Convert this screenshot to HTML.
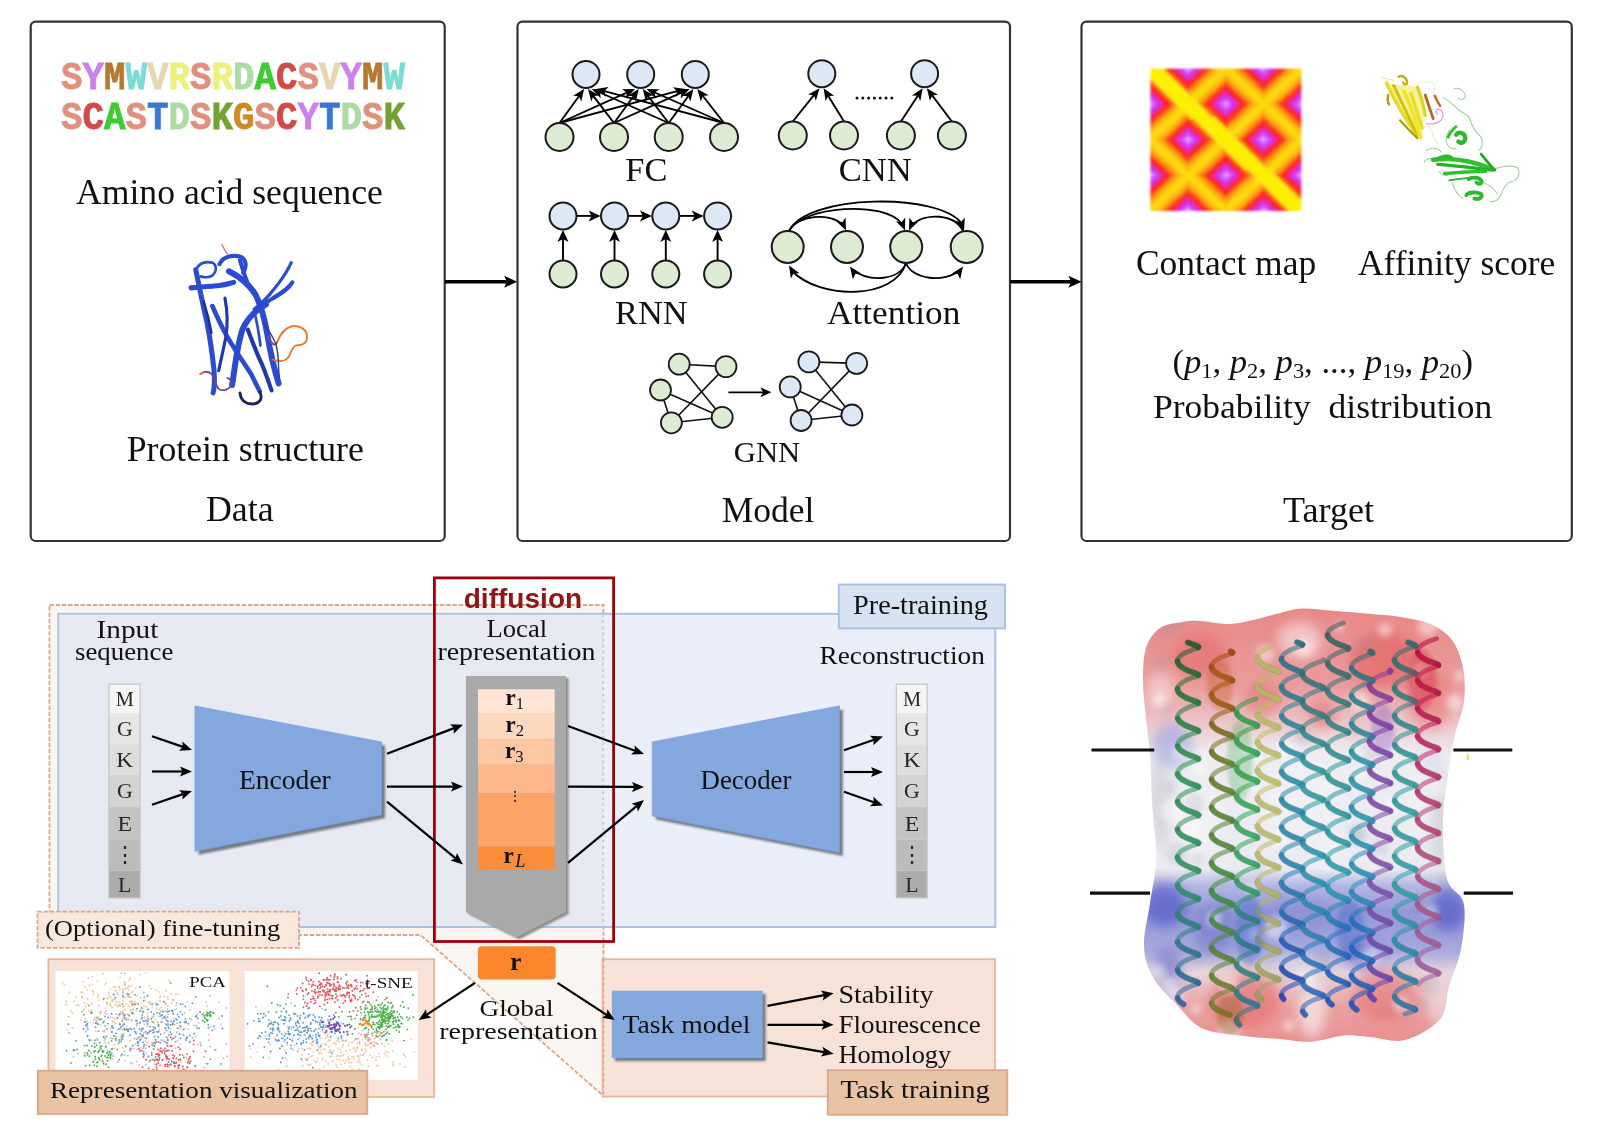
<!DOCTYPE html><html><head><meta charset="utf-8"><style>html,body{margin:0;padding:0;background:#fff;width:1600px;height:1140px;overflow:hidden}svg{display:block}</style></head><body>
<svg style="will-change:transform" width="1600" height="1140" viewBox="0 0 1600 1140">
<defs><filter id="blur1" x="-20%" y="-20%" width="140%" height="140%"><feGaussianBlur stdDeviation="1"/></filter><filter id="blur2" x="-20%" y="-20%" width="140%" height="140%"><feGaussianBlur stdDeviation="2"/></filter><filter id="blur3" x="-20%" y="-20%" width="140%" height="140%"><feGaussianBlur stdDeviation="3"/></filter><filter id="blur6" x="-20%" y="-20%" width="140%" height="140%"><feGaussianBlur stdDeviation="6"/></filter></defs>
<rect x="30.7" y="21.6" width="414.0" height="519.4" rx="5" fill="#fff" stroke="#333" stroke-width="2.2"/>
<rect x="517.5" y="21.6" width="492.5" height="519.4" rx="5" fill="#fff" stroke="#333" stroke-width="2.2"/>
<rect x="1081.5" y="21.6" width="490.3" height="519.4" rx="5" fill="#fff" stroke="#333" stroke-width="2.2"/>
<line x1="445.0" y1="281.8" x2="506.8" y2="281.8" stroke="#000" stroke-width="3.6"/>
<path d="M517.2,281.8 L504.2,287.8 L506.8,281.8 L504.2,275.8 Z" fill="#000"/>
<line x1="1010.0" y1="281.8" x2="1071.1" y2="281.8" stroke="#000" stroke-width="3.6"/>
<path d="M1081.5,281.8 L1068.5,287.8 L1071.1,281.8 L1068.5,275.8 Z" fill="#000"/>
<text x="61" y="89" font-family='"Liberation Mono", monospace' font-size="39.5" font-weight="bold" stroke-width="0.8" textLength="344" lengthAdjust="spacingAndGlyphs"><tspan fill="#e0917e" stroke="#e0917e">S</tspan><tspan fill="#cc82ea" stroke="#cc82ea">Y</tspan><tspan fill="#b47a32" stroke="#b47a32">M</tspan><tspan fill="#7adcd4" stroke="#7adcd4">W</tspan><tspan fill="#e8d6b2" stroke="#e8d6b2">V</tspan><tspan fill="#ecf07e" stroke="#ecf07e">R</tspan><tspan fill="#e0917e" stroke="#e0917e">S</tspan><tspan fill="#ecf07e" stroke="#ecf07e">R</tspan><tspan fill="#acdca4" stroke="#acdca4">D</tspan><tspan fill="#3ecb32" stroke="#3ecb32">A</tspan><tspan fill="#d24a48" stroke="#d24a48">C</tspan><tspan fill="#e0917e" stroke="#e0917e">S</tspan><tspan fill="#e8d6b2" stroke="#e8d6b2">V</tspan><tspan fill="#cc82ea" stroke="#cc82ea">Y</tspan><tspan fill="#b47a32" stroke="#b47a32">M</tspan><tspan fill="#7adcd4" stroke="#7adcd4">W</tspan></text>
<text x="61" y="129" font-family='"Liberation Mono", monospace' font-size="39.5" font-weight="bold" stroke-width="0.8" textLength="344" lengthAdjust="spacingAndGlyphs"><tspan fill="#e0917e" stroke="#e0917e">S</tspan><tspan fill="#d24a48" stroke="#d24a48">C</tspan><tspan fill="#3ecb32" stroke="#3ecb32">A</tspan><tspan fill="#e0917e" stroke="#e0917e">S</tspan><tspan fill="#3a78d0" stroke="#3a78d0">T</tspan><tspan fill="#acdca4" stroke="#acdca4">D</tspan><tspan fill="#e0917e" stroke="#e0917e">S</tspan><tspan fill="#74a232" stroke="#74a232">K</tspan><tspan fill="#d08a22" stroke="#d08a22">G</tspan><tspan fill="#e0917e" stroke="#e0917e">S</tspan><tspan fill="#d24a48" stroke="#d24a48">C</tspan><tspan fill="#cc82ea" stroke="#cc82ea">Y</tspan><tspan fill="#3a78d0" stroke="#3a78d0">T</tspan><tspan fill="#acdca4" stroke="#acdca4">D</tspan><tspan fill="#e0917e" stroke="#e0917e">S</tspan><tspan fill="#74a232" stroke="#74a232">K</tspan></text>
<text x="76.0" y="203.6" font-family='"Liberation Serif", serif' font-size="36" font-weight="normal" fill="#111" textLength="306.8" lengthAdjust="spacingAndGlyphs" >Amino acid sequence</text>
<text x="126.7" y="460.5" font-family='"Liberation Serif", serif' font-size="36" font-weight="normal" fill="#111" textLength="237.1" lengthAdjust="spacingAndGlyphs" >Protein structure</text>
<text x="206.0" y="521.2" font-family='"Liberation Serif", serif' font-size="36" font-weight="normal" fill="#111" textLength="67.6" lengthAdjust="spacingAndGlyphs" >Data</text>
<g id="prot1" fill="none" stroke-linecap="round" stroke-linejoin="round" transform="translate(180,235) scale(0.15783)">
<path d="M100,220 C120,320 140,420 170,550 C190,650 205,760 215,850 C220,920 222,960 210,1000" stroke="#2a4cd0" stroke-width="32"/>
<path d="M70,335 C130,330 200,325 250,320 C290,315 320,305 340,300" stroke="#2a4cd0" stroke-width="32"/>
<path d="M100,220 C120,180 160,165 205,175 C235,190 235,235 200,260 C180,270 150,268 130,262" stroke="#2a4cd0" stroke-width="17"/>
<path d="M250,185 C270,140 330,120 390,140 C420,160 425,200 400,240" stroke="#2a4cd0" stroke-width="26"/>
<path d="M310,230 C370,260 430,300 480,380 C510,440 535,520 555,640 C575,760 600,860 625,940" stroke="#2a4cd0" stroke-width="38"/>
<path d="M380,160 C400,230 420,290 445,340" stroke="#2a4cd0" stroke-width="26"/>
<path d="M545,440 C490,470 430,520 395,600 C370,680 355,780 345,850 C340,890 335,920 330,950" stroke="#2a4cd0" stroke-width="38"/>
<path d="M705,175 C680,230 640,290 590,350 C560,390 530,420 470,470" stroke="#2a4cd0" stroke-width="20"/>
<path d="M712,300 C690,340 640,370 590,400 C560,420 540,430 520,440" stroke="#2a4cd0" stroke-width="26"/>
<path d="M205,450 C240,530 270,600 320,680 C370,760 410,820 450,880 C470,920 490,960 505,990" stroke="#2a4cd0" stroke-width="29"/>
<path d="M285,400 C300,480 305,560 290,650 C275,720 260,790 245,860" stroke="#2238a8" stroke-width="20"/>
<path d="M430,600 C460,680 490,760 520,820 C545,880 565,940 580,985" stroke="#2238a8" stroke-width="26"/>
<path d="M470,480 C490,560 500,620 510,700" stroke="#2a4cd0" stroke-width="17"/>
<path d="M150,420 C170,480 190,560 200,620" stroke="#1c2c88" stroke-width="14"/>
<path d="M380,1000 C385,1050 420,1075 470,1070 C510,1062 525,1030 505,995" stroke="#1c2060" stroke-width="18"/>
<path d="M130,880 C150,865 175,860 200,880 C220,905 225,950 245,975 C265,990 300,985 320,960 C335,935 320,910 300,905" stroke="#6a4a8a" stroke-width="11"/>
<path d="M128,882 L150,868" stroke="#e0702a" stroke-width="11"/>
<path d="M560,650 C585,690 600,710 615,680 C630,640 660,590 710,578 C760,570 805,600 805,645 C805,690 770,700 740,698 C715,700 705,740 690,770 C670,800 630,805 590,790" stroke="#e8782a" stroke-width="12"/>
<path d="M560,650 C585,690 600,710 615,680" stroke="#5a4a80" stroke-width="9"/>
<path d="M265,60 C275,80 285,100 300,120" stroke="#c06a80" stroke-width="8"/>
<path d="M530,560 C560,600 590,640 610,700 C630,780 620,850 630,900" stroke="#3a3a90" stroke-width="9"/>
</g>
<line x1="559.5" y1="123.0" x2="578.9" y2="96.2" stroke="#000" stroke-width="1.9"/>
<path d="M584.1,88.9 L581.2,101.6 L578.9,96.2 L573.1,95.7 Z" fill="#000"/>
<line x1="559.5" y1="123.0" x2="626.8" y2="92.6" stroke="#000" stroke-width="1.9"/>
<path d="M635.0,88.9 L626.1,98.4 L626.8,92.6 L622.0,89.3 Z" fill="#000"/>
<line x1="559.5" y1="123.0" x2="677.1" y2="91.2" stroke="#000" stroke-width="1.9"/>
<path d="M685.8,88.9 L675.5,96.9 L677.1,91.2 L672.9,87.2 Z" fill="#000"/>
<line x1="614.0" y1="123.0" x2="593.4" y2="96.1" stroke="#000" stroke-width="1.9"/>
<path d="M588.0,88.9 L599.2,95.4 L593.4,96.1 L591.3,101.5 Z" fill="#000"/>
<line x1="614.0" y1="123.0" x2="633.5" y2="96.2" stroke="#000" stroke-width="1.9"/>
<path d="M638.8,88.9 L635.8,101.5 L633.5,96.2 L627.7,95.7 Z" fill="#000"/>
<line x1="614.0" y1="123.0" x2="681.4" y2="92.6" stroke="#000" stroke-width="1.9"/>
<path d="M689.6,88.9 L680.7,98.4 L681.4,92.6 L676.6,89.3 Z" fill="#000"/>
<line x1="668.7" y1="123.0" x2="600.0" y2="92.5" stroke="#000" stroke-width="1.9"/>
<path d="M591.8,88.9 L604.8,89.2 L600.0,92.5 L600.7,98.3 Z" fill="#000"/>
<line x1="668.7" y1="123.0" x2="648.1" y2="96.1" stroke="#000" stroke-width="1.9"/>
<path d="M642.7,88.9 L653.9,95.4 L648.1,96.1 L646.0,101.5 Z" fill="#000"/>
<line x1="668.7" y1="123.0" x2="688.2" y2="96.2" stroke="#000" stroke-width="1.9"/>
<path d="M693.4,88.9 L690.4,101.5 L688.2,96.2 L682.3,95.7 Z" fill="#000"/>
<line x1="724.0" y1="123.0" x2="604.4" y2="91.2" stroke="#000" stroke-width="1.9"/>
<path d="M595.7,88.9 L608.5,87.1 L604.4,91.2 L606.0,96.8 Z" fill="#000"/>
<line x1="724.0" y1="123.0" x2="654.8" y2="92.5" stroke="#000" stroke-width="1.9"/>
<path d="M646.5,88.9 L659.5,89.2 L654.8,92.5 L655.5,98.3 Z" fill="#000"/>
<line x1="724.0" y1="123.0" x2="702.9" y2="96.0" stroke="#000" stroke-width="1.9"/>
<path d="M697.3,88.9 L708.6,95.3 L702.9,96.0 L700.8,101.4 Z" fill="#000"/>
<circle cx="586.0" cy="74.4" r="13.5" fill="#dce8f5" stroke="#1a1a1a" stroke-width="2"/>
<circle cx="640.7" cy="74.4" r="13.5" fill="#dce8f5" stroke="#1a1a1a" stroke-width="2"/>
<circle cx="695.3" cy="74.4" r="13.5" fill="#dce8f5" stroke="#1a1a1a" stroke-width="2"/>
<circle cx="559.5" cy="137.0" r="14.0" fill="#ddebd3" stroke="#1a1a1a" stroke-width="2"/>
<circle cx="614.0" cy="137.0" r="14.0" fill="#ddebd3" stroke="#1a1a1a" stroke-width="2"/>
<circle cx="668.7" cy="137.0" r="14.0" fill="#ddebd3" stroke="#1a1a1a" stroke-width="2"/>
<circle cx="724.0" cy="137.0" r="14.0" fill="#ddebd3" stroke="#1a1a1a" stroke-width="2"/>
<text x="625.3" y="180.8" font-family='"Liberation Serif", serif' font-size="34" font-weight="normal" fill="#111" textLength="42.1" lengthAdjust="spacingAndGlyphs" >FC</text>
<line x1="792.8" y1="121.5" x2="813.9" y2="95.2" stroke="#000" stroke-width="1.9"/>
<path d="M819.5,88.2 L815.9,100.7 L813.9,95.2 L808.1,94.4 Z" fill="#000"/>
<line x1="844.0" y1="121.5" x2="828.3" y2="95.9" stroke="#000" stroke-width="1.9"/>
<path d="M823.6,88.2 L834.1,95.8 L828.3,95.9 L825.6,101.0 Z" fill="#000"/>
<line x1="900.9" y1="121.5" x2="917.8" y2="95.7" stroke="#000" stroke-width="1.9"/>
<path d="M922.7,88.2 L920.3,101.0 L917.8,95.7 L911.9,95.5 Z" fill="#000"/>
<line x1="951.9" y1="121.5" x2="932.2" y2="95.4" stroke="#000" stroke-width="1.9"/>
<path d="M926.8,88.2 L938.0,94.8 L932.2,95.4 L930.0,100.8 Z" fill="#000"/>
<circle cx="821.8" cy="73.7" r="13.5" fill="#dce8f5" stroke="#1a1a1a" stroke-width="2"/>
<circle cx="924.6" cy="73.7" r="13.5" fill="#dce8f5" stroke="#1a1a1a" stroke-width="2"/>
<circle cx="792.8" cy="135.5" r="14.0" fill="#ddebd3" stroke="#1a1a1a" stroke-width="2"/>
<circle cx="844.0" cy="135.5" r="14.0" fill="#ddebd3" stroke="#1a1a1a" stroke-width="2"/>
<circle cx="900.9" cy="135.5" r="14.0" fill="#ddebd3" stroke="#1a1a1a" stroke-width="2"/>
<circle cx="951.9" cy="135.5" r="14.0" fill="#ddebd3" stroke="#1a1a1a" stroke-width="2"/>
<circle cx="857.0" cy="98" r="1.5" fill="#111"/>
<circle cx="862.8" cy="98" r="1.5" fill="#111"/>
<circle cx="868.6" cy="98" r="1.5" fill="#111"/>
<circle cx="874.4" cy="98" r="1.5" fill="#111"/>
<circle cx="880.2" cy="98" r="1.5" fill="#111"/>
<circle cx="886.0" cy="98" r="1.5" fill="#111"/>
<circle cx="891.8" cy="98" r="1.5" fill="#111"/>
<text x="838.8" y="180.8" font-family='"Liberation Serif", serif' font-size="34" font-weight="normal" fill="#111" textLength="73.0" lengthAdjust="spacingAndGlyphs" >CNN</text>
<line x1="563.0" y1="260.3" x2="563.0" y2="239.0" stroke="#000" stroke-width="1.9"/>
<path d="M563.0,230.0 L568.5,242.0 L563.0,239.0 L557.5,242.0 Z" fill="#000"/>
<line x1="614.5" y1="260.3" x2="614.5" y2="239.0" stroke="#000" stroke-width="1.9"/>
<path d="M614.5,230.0 L620.0,242.0 L614.5,239.0 L609.0,242.0 Z" fill="#000"/>
<line x1="665.8" y1="260.3" x2="665.8" y2="239.0" stroke="#000" stroke-width="1.9"/>
<path d="M665.8,230.0 L671.3,242.0 L665.8,239.0 L660.3,242.0 Z" fill="#000"/>
<line x1="717.6" y1="260.3" x2="717.6" y2="239.0" stroke="#000" stroke-width="1.9"/>
<path d="M717.6,230.0 L723.1,242.0 L717.6,239.0 L712.1,242.0 Z" fill="#000"/>
<line x1="576.7" y1="215.9" x2="591.6" y2="215.9" stroke="#000" stroke-width="1.9"/>
<path d="M600.6,215.9 L588.6,221.4 L591.6,215.9 L588.6,210.4 Z" fill="#000"/>
<line x1="628.2" y1="215.9" x2="642.9" y2="215.9" stroke="#000" stroke-width="1.9"/>
<path d="M651.9,215.9 L639.9,221.4 L642.9,215.9 L639.9,210.4 Z" fill="#000"/>
<line x1="679.5" y1="215.9" x2="694.7" y2="215.9" stroke="#000" stroke-width="1.9"/>
<path d="M703.7,215.9 L691.7,221.4 L694.7,215.9 L691.7,210.4 Z" fill="#000"/>
<circle cx="563.0" cy="215.9" r="13.5" fill="#dce8f5" stroke="#1a1a1a" stroke-width="2"/>
<circle cx="563.0" cy="274.0" r="13.5" fill="#ddebd3" stroke="#1a1a1a" stroke-width="2"/>
<circle cx="614.5" cy="215.9" r="13.5" fill="#dce8f5" stroke="#1a1a1a" stroke-width="2"/>
<circle cx="614.5" cy="274.0" r="13.5" fill="#ddebd3" stroke="#1a1a1a" stroke-width="2"/>
<circle cx="665.8" cy="215.9" r="13.5" fill="#dce8f5" stroke="#1a1a1a" stroke-width="2"/>
<circle cx="665.8" cy="274.0" r="13.5" fill="#ddebd3" stroke="#1a1a1a" stroke-width="2"/>
<circle cx="717.6" cy="215.9" r="13.5" fill="#dce8f5" stroke="#1a1a1a" stroke-width="2"/>
<circle cx="717.6" cy="274.0" r="13.5" fill="#ddebd3" stroke="#1a1a1a" stroke-width="2"/>
<text x="615.0" y="324.4" font-family='"Liberation Serif", serif' font-size="34" font-weight="normal" fill="#111" textLength="72.5" lengthAdjust="spacingAndGlyphs" >RNN</text>
<path d="M789,231 C797,215 830,212 843,225" fill="none" stroke="#000" stroke-width="1.8"/>
<path d="M846.0,230.5 L836.5,221.6 L842.3,222.3 L845.6,217.5 Z" fill="#000"/>
<path d="M789,231 C802,206 885,200 902,224" fill="none" stroke="#000" stroke-width="1.8"/>
<path d="M905.0,230.5 L895.9,221.2 L901.7,222.1 L905.2,217.5 Z" fill="#000"/>
<path d="M789,231 C806,194 940,192 962,224" fill="none" stroke="#000" stroke-width="1.8"/>
<path d="M964.0,230.5 L955.3,220.8 L961.0,222.0 L964.8,217.5 Z" fill="#000"/>
<path d="M963,231 C955,214 925,212 912,225" fill="none" stroke="#000" stroke-width="1.8"/>
<path d="M909.0,230.5 L909.4,217.5 L912.7,222.3 L918.5,221.6 Z" fill="#000"/>
<path d="M906,263 C900,280 870,283 853,270" fill="none" stroke="#000" stroke-width="1.8"/>
<path d="M850.0,266.5 L861.0,273.5 L855.2,273.9 L852.8,279.2 Z" fill="#000"/>
<path d="M906,263 C895,300 820,300 792,271" fill="none" stroke="#000" stroke-width="1.8"/>
<path d="M789.0,265.5 L799.5,273.2 L793.6,273.2 L790.9,278.4 Z" fill="#000"/>
<path d="M906,263 C912,280 945,283 960,270" fill="none" stroke="#000" stroke-width="1.8"/>
<path d="M963.0,266.5 L960.2,279.2 L957.8,273.9 L952.0,273.5 Z" fill="#000"/>
<circle cx="787.7" cy="247.0" r="16.0" fill="#ddebd3" stroke="#1a1a1a" stroke-width="2"/>
<circle cx="847.0" cy="247.0" r="16.0" fill="#ddebd3" stroke="#1a1a1a" stroke-width="2"/>
<circle cx="906.2" cy="247.0" r="16.0" fill="#ddebd3" stroke="#1a1a1a" stroke-width="2"/>
<circle cx="966.7" cy="247.0" r="16.0" fill="#ddebd3" stroke="#1a1a1a" stroke-width="2"/>
<text x="827.0" y="323.5" font-family='"Liberation Serif", serif' font-size="34" font-weight="normal" fill="#111" textLength="133.3" lengthAdjust="spacingAndGlyphs" >Attention</text>
<line x1="679.2" y1="364.2" x2="726" y2="366.6" stroke="#111" stroke-width="1.6"/>
<line x1="679.2" y1="364.2" x2="722.2" y2="417.3" stroke="#111" stroke-width="1.6"/>
<line x1="726" y1="366.6" x2="671.4" y2="422.8" stroke="#111" stroke-width="1.6"/>
<line x1="660.5" y1="390" x2="722.2" y2="417.3" stroke="#111" stroke-width="1.6"/>
<line x1="660.5" y1="390" x2="671.4" y2="422.8" stroke="#111" stroke-width="1.6"/>
<line x1="671.4" y1="422.8" x2="722.2" y2="417.3" stroke="#111" stroke-width="1.6"/>
<circle cx="679.2" cy="364.2" r="10.5" fill="#ddebd3" stroke="#1a1a1a" stroke-width="1.8"/>
<circle cx="726.0" cy="366.6" r="10.5" fill="#ddebd3" stroke="#1a1a1a" stroke-width="1.8"/>
<circle cx="660.5" cy="390.0" r="10.5" fill="#ddebd3" stroke="#1a1a1a" stroke-width="1.8"/>
<circle cx="671.4" cy="422.8" r="10.5" fill="#ddebd3" stroke="#1a1a1a" stroke-width="1.8"/>
<circle cx="722.2" cy="417.3" r="10.5" fill="#ddebd3" stroke="#1a1a1a" stroke-width="1.8"/>
<line x1="808.9" y1="361.9" x2="856.6" y2="363.4" stroke="#111" stroke-width="1.6"/>
<line x1="808.9" y1="361.9" x2="851.9" y2="415" stroke="#111" stroke-width="1.6"/>
<line x1="856.6" y1="363.4" x2="801.1" y2="420.5" stroke="#111" stroke-width="1.6"/>
<line x1="790.2" y1="386.9" x2="851.9" y2="415" stroke="#111" stroke-width="1.6"/>
<line x1="790.2" y1="386.9" x2="801.1" y2="420.5" stroke="#111" stroke-width="1.6"/>
<line x1="801.1" y1="420.5" x2="851.9" y2="415" stroke="#111" stroke-width="1.6"/>
<circle cx="808.9" cy="361.9" r="10.5" fill="#dce8f5" stroke="#1a1a1a" stroke-width="1.8"/>
<circle cx="856.6" cy="363.4" r="10.5" fill="#dce8f5" stroke="#1a1a1a" stroke-width="1.8"/>
<circle cx="790.2" cy="386.9" r="10.5" fill="#dce8f5" stroke="#1a1a1a" stroke-width="1.8"/>
<circle cx="801.1" cy="420.5" r="10.5" fill="#dce8f5" stroke="#1a1a1a" stroke-width="1.8"/>
<circle cx="851.9" cy="415.0" r="10.5" fill="#dce8f5" stroke="#1a1a1a" stroke-width="1.8"/>
<line x1="728.4" y1="392.3" x2="763.1" y2="392.3" stroke="#000" stroke-width="1.8"/>
<path d="M771.4,392.3 L760.4,397.3 L763.1,392.3 L760.4,387.3 Z" fill="#000"/>
<text x="733.7" y="461.9" font-family='"Liberation Serif", serif' font-size="30" font-weight="normal" fill="#111" textLength="66.6" lengthAdjust="spacingAndGlyphs" >GNN</text>
<text x="721.7" y="521.6" font-family='"Liberation Serif", serif' font-size="36" font-weight="normal" fill="#111" textLength="92.8" lengthAdjust="spacingAndGlyphs" >Model</text>
<text x="1135.9" y="275.0" font-family='"Liberation Serif", serif' font-size="35" font-weight="normal" fill="#111" textLength="180.3" lengthAdjust="spacingAndGlyphs" >Contact map</text>
<text x="1358.0" y="275.0" font-family='"Liberation Serif", serif' font-size="35" font-weight="normal" fill="#111" textLength="197.3" lengthAdjust="spacingAndGlyphs" >Affinity score</text>
<text x="1152.9" y="417.9" font-family='"Liberation Serif", serif' font-size="34.5" font-weight="normal" fill="#111" textLength="339.4" lengthAdjust="spacingAndGlyphs" >Probability&#160;&#160;distribution</text>
<text x="1283.0" y="521.6" font-family='"Liberation Serif", serif' font-size="36" font-weight="normal" fill="#111" textLength="91.1" lengthAdjust="spacingAndGlyphs" >Target</text>
<text x="1172.4" y="372.8" font-family='"Liberation Serif", serif' font-size="34" fill="#111" textLength="300.6" lengthAdjust="spacingAndGlyphs">(<tspan font-style="italic">p</tspan><tspan font-size="22" dy="5">1</tspan><tspan dy="-5">, </tspan><tspan font-style="italic">p</tspan><tspan font-size="22" dy="5">2</tspan><tspan dy="-5">, </tspan><tspan font-style="italic">p</tspan><tspan font-size="22" dy="5">3</tspan><tspan dy="-5">, ..., </tspan><tspan font-style="italic">p</tspan><tspan font-size="22" dy="5">19</tspan><tspan dy="-5">, </tspan><tspan font-style="italic">p</tspan><tspan font-size="22" dy="5">20</tspan><tspan dy="-5">)</tspan></text>
<g filter="url(#blur1)"><svg x="1150.3" y="68.5" width="151" height="142.5" overflow="hidden">
<path d="M0 1.5h9M0 4.5h12M0 7.5h15M3 10.5h15M6 13.5h18M9 16.5h18M12 19.5h18M15 22.5h18M18 25.5h18M21 28.5h18M24 31.5h18M27 34.5h18M30 37.5h18M36 40.5h15M39 43.5h15M42 46.5h15M45 49.5h15M48 52.5h15M51 55.5h15M54 58.5h15M57 61.5h15M60 64.5h18M63 67.5h18M66 70.5h18M69 73.5h18M72 76.5h18M75 79.5h18M78 82.5h18M81 85.5h18M84 88.5h18M90 91.5h15M93 94.5h15M96 97.5h15M99 100.5h15M102 103.5h15M105 106.5h15M108 109.5h15M111 112.5h18M114 115.5h18M117 118.5h18M120 121.5h18M123 124.5h18M126 127.5h18M129 130.5h18M132 133.5h18M135 136.5h18M141 139.5h12M144 142.5h9" stroke="#fcf000" stroke-width="3.3"/>
<path d="M9 1.5h6M12 4.5h6M69 4.5h3M15 7.5h6M66 7.5h3M0 10.5h3M18 10.5h6M63 10.5h3M3 13.5h3M24 13.5h3M60 13.5h3M135 13.5h3M6 16.5h3M27 16.5h3M132 16.5h3M9 19.5h3M30 19.5h3M129 19.5h3M12 22.5h3M33 22.5h3M126 22.5h3M15 25.5h3M36 25.5h3M18 28.5h3M39 28.5h3M21 31.5h3M42 31.5h3M24 34.5h3M45 34.5h3M27 37.5h3M48 37.5h3M114 37.5h3M30 40.5h6M51 40.5h3M117 40.5h3M33 43.5h6M54 43.5h3M120 43.5h3M36 46.5h6M57 46.5h3M123 46.5h3M39 49.5h6M60 49.5h6M45 52.5h3M63 52.5h6M15 55.5h3M48 55.5h3M66 55.5h6M12 58.5h3M51 58.5h3M69 58.5h6M9 61.5h3M54 61.5h3M72 61.5h6M84 61.5h3M6 64.5h3M57 64.5h3M78 64.5h6M60 67.5h3M81 67.5h3M63 70.5h3M84 70.5h3M150 70.5h3M66 73.5h3M87 73.5h3M147 73.5h3M69 76.5h3M90 76.5h3M144 76.5h3M72 79.5h3M93 79.5h3M141 79.5h3M75 82.5h3M96 82.5h3M78 85.5h3M99 85.5h3M81 88.5h3M102 88.5h3M84 91.5h6M105 91.5h3M87 94.5h6M108 94.5h3M90 97.5h6M111 97.5h3M93 100.5h6M114 100.5h6M33 103.5h3M99 103.5h3M117 103.5h6M36 106.5h3M102 106.5h3M120 106.5h6M39 109.5h3M105 109.5h3M123 109.5h6M30 112.5h3M42 112.5h3M108 112.5h3M129 112.5h3M27 115.5h3M111 115.5h3M132 115.5h3M24 118.5h3M114 118.5h3M135 118.5h3M21 121.5h3M96 121.5h3M117 121.5h3M138 121.5h3M93 124.5h3M120 124.5h3M141 124.5h3M90 127.5h3M123 127.5h3M144 127.5h3M87 130.5h3M126 130.5h3M147 130.5h3M129 133.5h3M150 133.5h3M132 136.5h3M135 139.5h6M138 142.5h6" stroke="#fce400" stroke-width="3.3"/>
<path d="M15 1.5h3M18 4.5h3M51 7.5h3M48 10.5h3M117 16.5h3M147 16.5h3M114 19.5h3M132 40.5h3M135 43.5h3M138 46.5h3M66 49.5h3M39 52.5h3M69 52.5h3M30 55.5h3M27 58.5h3M96 64.5h3M93 67.5h3M132 73.5h3M129 76.5h3M126 79.5h3M87 97.5h3M90 100.5h3M21 106.5h3M54 109.5h3M57 112.5h3M12 115.5h3M9 118.5h3M6 121.5h3M111 121.5h3M78 124.5h3M108 124.5h3M75 127.5h3M105 127.5h3" stroke="#fc5400" stroke-width="3.3"/>
<path d="M18 1.5h3M93 1.5h3M21 4.5h3M96 4.5h3M24 7.5h3M48 7.5h3M99 7.5h3M27 10.5h3M45 10.5h3M102 10.5h3M30 13.5h3M42 13.5h3M105 13.5h3M117 13.5h3M33 16.5h3M39 16.5h3M114 16.5h3M150 16.5h3M36 19.5h3M78 19.5h3M147 19.5h3M81 22.5h3M84 25.5h3M12 28.5h3M87 28.5h3M15 31.5h3M90 31.5h3M18 34.5h3M54 34.5h3M93 34.5h3M93 37.5h3M90 40.5h3M135 40.5h3M138 43.5h3M141 46.5h3M69 49.5h3M144 49.5h3M36 52.5h3M72 52.5h3M111 52.5h3M147 52.5h3M33 55.5h3M108 55.5h3M30 58.5h3M105 58.5h3M27 61.5h3M102 61.5h3M99 64.5h3M96 67.5h3M93 70.5h3M132 70.5h3M18 73.5h3M54 73.5h3M93 73.5h3M129 73.5h3M21 76.5h3M51 76.5h3M126 76.5h3M24 79.5h3M48 79.5h3M123 79.5h3M27 82.5h3M45 82.5h3M120 82.5h3M42 85.5h3M117 85.5h3M0 88.5h3M39 88.5h3M75 88.5h3M114 88.5h3M150 88.5h3M3 91.5h3M78 91.5h3M6 94.5h3M66 94.5h3M81 94.5h3M9 97.5h3M63 97.5h3M84 97.5h3M12 100.5h3M60 100.5h3M87 100.5h3M15 103.5h3M57 103.5h3M90 103.5h3M132 103.5h3M18 106.5h3M54 106.5h3M129 106.5h3M57 109.5h3M132 109.5h3M60 112.5h3M135 112.5h3M9 115.5h3M63 115.5h3M138 115.5h3M6 118.5h3M66 118.5h3M141 118.5h3M3 121.5h3M69 121.5h3M144 121.5h3M0 124.5h3M72 124.5h6M111 124.5h3M147 124.5h3M108 127.5h3M117 127.5h3M120 130.5h3M123 133.5h3M51 136.5h3M126 136.5h3M54 139.5h3M129 139.5h3M57 142.5h3M132 142.5h3" stroke="#fc240c" stroke-width="3.3"/>
<path d="M21 1.5h3M51 1.5h3M126 1.5h3M48 4.5h3M123 4.5h3M45 7.5h3M120 7.5h3M42 10.5h3M117 10.5h3M114 13.5h3M0 22.5h3M72 22.5h3M147 22.5h3M3 25.5h3M69 25.5h3M144 25.5h3M66 28.5h3M141 28.5h3M63 31.5h3M138 31.5h3M60 34.5h3M135 34.5h3M12 37.5h3M60 37.5h3M135 37.5h3M9 40.5h3M63 40.5h3M84 40.5h3M138 40.5h3M6 43.5h3M66 43.5h3M81 43.5h3M141 43.5h3M3 46.5h3M69 46.5h3M78 46.5h3M0 49.5h3M72 49.5h6M150 49.5h3M33 58.5h3M39 58.5h3M114 58.5h3M30 61.5h3M42 61.5h3M117 61.5h3M27 64.5h3M45 64.5h3M102 64.5h3M120 64.5h3M24 67.5h3M48 67.5h3M99 67.5h3M123 67.5h3M21 70.5h3M51 70.5h3M96 70.5h3M99 73.5h3M126 73.5h3M102 76.5h3M123 76.5h3M105 79.5h3M33 82.5h3M108 82.5h3M36 85.5h3M111 85.5h3M150 91.5h3M72 94.5h3M147 94.5h3M144 97.5h3M84 100.5h3M141 100.5h3M87 103.5h3M138 103.5h3M15 106.5h3M90 106.5h3M12 109.5h3M60 109.5h3M87 109.5h3M9 112.5h3M84 112.5h3M6 115.5h3M81 115.5h3M3 118.5h3M78 118.5h3M75 121.5h3M150 121.5h3M36 127.5h3M111 127.5h3M33 130.5h3M39 130.5h3M108 130.5h3M30 133.5h3M42 133.5h3M105 133.5h3M27 136.5h3M45 136.5h3M102 136.5h3M24 139.5h3M99 139.5h3M21 142.5h3M96 142.5h3" stroke="#fc1824" stroke-width="3.3"/>
<path d="M24 1.5h3M39 10.5h3M144 43.5h3M36 58.5h3M105 64.5h3M102 67.5h3M120 76.5h3M81 100.5h3M12 106.5h3M63 109.5h3M0 118.5h3" stroke="#f0186c" stroke-width="3.3"/>
<path d="M27 1.5h3M45 1.5h3M30 4.5h3M42 4.5h3M33 7.5h3M39 7.5h3M114 7.5h3M150 25.5h3M84 34.5h3M141 37.5h3M69 40.5h3M144 40.5h3M72 43.5h3M147 43.5h3M36 61.5h3M111 61.5h3M33 64.5h3M108 64.5h3M30 67.5h3M105 67.5h3M102 70.5h3M45 73.5h3M120 73.5h3M117 76.5h3M114 79.5h3M75 97.5h3M150 97.5h3M78 100.5h3M6 103.5h3M81 103.5h3M9 106.5h3M84 106.5h3M6 109.5h3M66 109.5h3M3 112.5h3M69 112.5h3M0 115.5h3M72 115.5h3M111 133.5h3" stroke="#d824d8" stroke-width="3.3"/>
<path d="M30 1.5h3M33 4.5h3M39 4.5h3M150 28.5h3M144 37.5h3M147 40.5h3M36 64.5h3M111 64.5h3M108 67.5h3M105 70.5h3M42 73.5h3M117 73.5h3M114 76.5h3M75 100.5h3M3 103.5h3M78 103.5h3M6 106.5h3M69 109.5h3M0 112.5h3M72 112.5h3" stroke="#cc30f0" stroke-width="3.3"/>
<path d="M33 1.5h3M36 4.5h3M150 31.5h3M78 34.5h3M111 67.5h3M108 70.5h3M39 73.5h3M114 73.5h3M0 103.5h3M75 103.5h3M3 106.5h3M72 109.5h3M147 109.5h3M117 142.5h3" stroke="#d854fc" stroke-width="3.3"/>
<path d="M36 1.5h3M0 106.5h3" stroke="#f084fc" stroke-width="3.3"/>
<path d="M39 1.5h3M114 1.5h3M147 34.5h3M72 37.5h3M147 37.5h3M36 67.5h3M33 70.5h3M150 103.5h3M78 106.5h3M0 109.5h3M75 109.5h3M111 139.5h3M108 142.5h3" stroke="#d860fc" stroke-width="3.3"/>
<path d="M42 1.5h3M33 67.5h3M150 100.5h3M81 106.5h3M3 109.5h3" stroke="#cc30fc" stroke-width="3.3"/>
<path d="M48 1.5h3M114 10.5h3M69 43.5h3M30 64.5h3M87 106.5h3M9 109.5h3M75 118.5h3M108 133.5h3" stroke="#f01884" stroke-width="3.3"/>
<path d="M54 1.5h3M129 1.5h3M51 4.5h3M126 4.5h3M123 7.5h3M120 10.5h3M0 19.5h3M72 19.5h3M69 22.5h3M144 22.5h3M66 25.5h3M141 25.5h3M63 28.5h3M138 28.5h3M135 31.5h3M132 34.5h3M15 37.5h3M57 37.5h3M132 37.5h3M12 40.5h3M60 40.5h3M9 43.5h3M63 43.5h3M6 46.5h3M66 46.5h3M81 46.5h3M3 49.5h3M78 49.5h3M0 52.5h3M75 52.5h3M39 55.5h3M114 55.5h3M42 58.5h3M117 58.5h3M45 61.5h3M120 61.5h3M24 64.5h3M48 64.5h3M21 67.5h3M51 67.5h3M18 70.5h3M54 70.5h3M102 79.5h3M105 82.5h3M108 85.5h3M36 88.5h3M111 88.5h3M147 91.5h3M144 94.5h3M141 97.5h3M93 106.5h3M15 109.5h3M90 109.5h3M12 112.5h3M87 112.5h3M84 115.5h3M81 118.5h3M78 121.5h3M36 124.5h3M150 124.5h3M33 127.5h3M39 127.5h3M30 130.5h3M42 130.5h3M105 130.5h3M27 133.5h3M102 133.5h3M24 136.5h3M99 136.5h3M21 139.5h3M96 139.5h3M93 142.5h3" stroke="#fc2418" stroke-width="3.3"/>
<path d="M57 1.5h3M54 4.5h3M126 7.5h3M123 10.5h3M120 13.5h3M72 16.5h3M144 19.5h3M141 22.5h3M138 25.5h3M129 37.5h3M57 40.5h3M60 43.5h3M63 46.5h3M6 49.5h3M3 52.5h3M0 55.5h3M42 55.5h3M45 58.5h3M24 61.5h3M21 64.5h3M18 67.5h3M90 70.5h3M111 91.5h3M93 103.5h3M96 106.5h3M18 109.5h3M15 112.5h3M87 115.5h3M84 118.5h3M36 121.5h3M81 121.5h3M33 124.5h3M30 127.5h3M150 127.5h3M102 130.5h3M99 133.5h3" stroke="#fc4800" stroke-width="3.3"/>
<path d="M60 1.5h3M135 1.5h3M57 4.5h3M132 4.5h3M54 7.5h3M129 7.5h3M126 10.5h3M0 13.5h3M72 13.5h3M123 13.5h3M69 16.5h3M120 16.5h3M144 16.5h3M66 19.5h3M141 19.5h3M63 22.5h3M138 22.5h3M135 25.5h3M132 28.5h3M129 31.5h3M51 37.5h3M126 37.5h3M54 40.5h3M129 40.5h3M15 43.5h3M57 43.5h3M12 46.5h3M60 46.5h3M9 49.5h3M114 49.5h3M6 52.5h3M42 52.5h3M81 52.5h3M117 52.5h3M3 55.5h3M45 55.5h3M78 55.5h3M120 55.5h3M0 58.5h3M24 58.5h3M48 58.5h3M75 58.5h3M21 61.5h3M51 61.5h3M18 64.5h3M54 64.5h3M15 67.5h3M90 67.5h3M12 70.5h3M87 70.5h3M135 73.5h3M132 76.5h3M102 85.5h3M147 85.5h3M105 88.5h3M144 88.5h3M108 91.5h3M36 94.5h3M111 94.5h3M96 103.5h3M99 106.5h3M21 109.5h3M51 109.5h3M18 112.5h3M93 112.5h3M15 115.5h3M90 115.5h3M12 118.5h3M36 118.5h3M87 118.5h3M33 121.5h3M39 121.5h3M84 121.5h3M30 124.5h3M42 124.5h3M81 124.5h3M27 127.5h3M102 127.5h3M24 130.5h3M99 130.5h3M150 130.5h3M96 133.5h3M93 136.5h3M90 139.5h3" stroke="#fc8400" stroke-width="3.3"/>
<path d="M63 1.5h3M84 1.5h3M60 4.5h3M87 4.5h3M57 7.5h3M90 7.5h3M132 7.5h3M54 10.5h3M72 10.5h3M129 10.5h3M147 10.5h3M51 13.5h3M69 13.5h3M126 13.5h3M144 13.5h3M48 16.5h3M66 16.5h3M123 16.5h3M141 16.5h3M45 19.5h3M63 19.5h3M120 19.5h3M138 19.5h3M42 22.5h3M117 22.5h3M135 22.5h3M114 25.5h3M132 25.5h3M96 28.5h3M129 28.5h3M99 31.5h3M102 34.5h3M123 37.5h3M126 40.5h3M129 43.5h3M33 46.5h3M114 46.5h3M132 46.5h3M12 49.5h3M30 49.5h3M117 49.5h3M135 49.5h3M9 52.5h3M27 52.5h3M102 52.5h3M120 52.5h3M138 52.5h3M6 55.5h3M24 55.5h3M81 55.5h3M99 55.5h3M141 55.5h3M3 58.5h3M21 58.5h3M78 58.5h3M96 58.5h3M0 61.5h3M18 61.5h3M93 61.5h3M15 64.5h3M90 64.5h3M12 67.5h3M87 67.5h3M9 70.5h3M9 73.5h3M63 73.5h3M138 73.5h3M60 76.5h3M135 76.5h3M57 79.5h3M132 79.5h3M150 79.5h3M54 82.5h3M129 82.5h3M147 82.5h3M126 85.5h3M144 85.5h3M123 88.5h3M120 91.5h3M15 94.5h3M18 97.5h3M36 97.5h3M21 100.5h3M24 103.5h3M48 103.5h3M27 106.5h3M45 106.5h3M24 109.5h3M48 109.5h3M21 112.5h3M51 112.5h3M18 115.5h3M36 115.5h3M54 115.5h3M93 115.5h3M15 118.5h3M33 118.5h3M39 118.5h3M57 118.5h3M90 118.5h3M108 118.5h3M12 121.5h3M30 121.5h3M60 121.5h3M87 121.5h3M105 121.5h3M9 124.5h3M27 124.5h3M63 124.5h3M84 124.5h3M102 124.5h3M6 127.5h3M24 127.5h3M81 127.5h3M99 127.5h3M3 130.5h3M78 130.5h3M96 130.5h3M0 133.5h3M75 133.5h3M93 133.5h3M90 136.5h3" stroke="#fca800" stroke-width="3.3"/>
<path d="M66 1.5h3M81 1.5h3M63 4.5h3M84 4.5h3M60 7.5h3M72 7.5h3M87 7.5h3M147 7.5h3M57 10.5h3M69 10.5h3M90 10.5h3M132 10.5h3M144 10.5h3M54 13.5h3M66 13.5h3M93 13.5h3M129 13.5h3M141 13.5h3M51 16.5h3M63 16.5h3M126 16.5h3M138 16.5h3M48 19.5h3M123 19.5h3M135 19.5h3M45 22.5h3M93 22.5h3M120 22.5h3M132 22.5h3M42 25.5h3M96 25.5h3M117 25.5h3M99 28.5h3M114 28.5h3M102 31.5h3M105 34.5h3M105 37.5h3M120 37.5h3M123 40.5h3M114 43.5h3M126 43.5h3M30 46.5h3M105 46.5h3M117 46.5h3M129 46.5h3M27 49.5h3M102 49.5h3M120 49.5h3M132 49.5h3M12 52.5h3M24 52.5h3M99 52.5h3M135 52.5h3M9 55.5h3M21 55.5h3M96 55.5h3M138 55.5h3M6 58.5h3M18 58.5h3M93 58.5h3M141 58.5h3M3 61.5h3M15 61.5h3M78 61.5h3M90 61.5h3M144 61.5h3M0 64.5h3M12 64.5h3M87 64.5h3M84 67.5h3M144 70.5h3M6 73.5h3M141 73.5h3M9 76.5h3M63 76.5h3M138 76.5h3M150 76.5h3M12 79.5h3M60 79.5h3M135 79.5h3M147 79.5h3M57 82.5h3M132 82.5h3M144 82.5h3M54 85.5h3M129 85.5h3M12 88.5h3M51 88.5h3M126 88.5h3M15 91.5h3M123 91.5h3M18 94.5h3M120 94.5h3M21 97.5h3M51 97.5h3M117 97.5h3M24 100.5h3M48 100.5h3M27 103.5h3M45 103.5h3M30 106.5h3M42 106.5h3M27 109.5h3M45 109.5h3M24 112.5h3M36 112.5h3M48 112.5h3M21 115.5h3M33 115.5h3M39 115.5h3M51 115.5h3M108 115.5h3M18 118.5h3M30 118.5h3M54 118.5h3M93 118.5h3M105 118.5h3M15 121.5h3M27 121.5h3M57 121.5h3M90 121.5h3M102 121.5h3M12 124.5h3M24 124.5h3M60 124.5h3M87 124.5h3M99 124.5h3M9 127.5h3M63 127.5h3M84 127.5h3M96 127.5h3M6 130.5h3M66 130.5h3M81 130.5h3M93 130.5h3M3 133.5h3M78 133.5h3M90 133.5h3M0 136.5h3M75 136.5h3M66 139.5h3M69 142.5h3" stroke="#fcc000" stroke-width="3.3"/>
<path d="M69 1.5h3M144 1.5h3M66 4.5h3M72 4.5h6M141 4.5h3M150 4.5h3M63 7.5h3M69 7.5h3M78 7.5h3M138 7.5h3M60 10.5h3M66 10.5h3M81 10.5h3M135 10.5h3M63 13.5h3M84 13.5h3M132 13.5h3M138 13.5h3M60 16.5h3M87 16.5h3M96 16.5h3M129 16.5h3M135 16.5h3M57 19.5h3M90 19.5h3M99 19.5h3M126 19.5h3M132 19.5h3M54 22.5h3M102 22.5h3M129 22.5h3M51 25.5h3M105 25.5h3M126 25.5h3M48 28.5h3M108 28.5h3M123 28.5h3M45 31.5h3M111 31.5h3M120 31.5h3M117 34.5h3M117 37.5h3M27 40.5h3M102 40.5h3M111 40.5h6M120 40.5h3M24 43.5h3M99 43.5h3M108 43.5h3M117 43.5h3M123 43.5h3M21 46.5h3M96 46.5h3M120 46.5h3M126 46.5h3M18 49.5h3M93 49.5h3M123 49.5h3M15 52.5h3M90 52.5h3M126 52.5h3M12 55.5h3M18 55.5h3M87 55.5h3M129 55.5h3M9 58.5h3M15 58.5h3M84 58.5h3M132 58.5h3M6 61.5h3M12 61.5h3M81 61.5h3M135 61.5h3M9 64.5h3M84 64.5h3M138 64.5h3M147 64.5h3M6 67.5h3M141 67.5h3M150 67.5h3M3 70.5h3M144 73.5h3M0 76.5h3M141 76.5h3M147 76.5h3M3 79.5h3M69 79.5h3M138 79.5h3M144 79.5h3M6 82.5h3M15 82.5h3M66 82.5h3M141 82.5h3M9 85.5h3M18 85.5h3M63 85.5h3M138 85.5h3M21 88.5h3M60 88.5h3M135 88.5h3M24 91.5h3M48 91.5h3M57 91.5h3M132 91.5h3M27 94.5h3M45 94.5h3M54 94.5h3M129 94.5h3M30 97.5h3M42 97.5h3M126 97.5h3M33 100.5h3M39 100.5h3M123 100.5h3M36 103.5h3M33 106.5h3M30 109.5h3M42 109.5h3M27 112.5h3M39 112.5h3M45 112.5h3M102 112.5h3M24 115.5h3M30 115.5h3M42 115.5h3M99 115.5h3M21 118.5h3M27 118.5h3M45 118.5h3M96 118.5h3M18 121.5h3M24 121.5h3M48 121.5h3M93 121.5h3M99 121.5h3M21 124.5h3M51 124.5h3M90 124.5h3M96 124.5h3M18 127.5h3M54 127.5h3M87 127.5h3M93 127.5h3M15 130.5h3M57 130.5h3M90 130.5h3M12 133.5h3M60 133.5h3M69 133.5h3M87 133.5h3M9 136.5h3M63 136.5h3M72 136.5h3M84 136.5h3M6 139.5h3M81 139.5h3M3 142.5h3M78 142.5h3" stroke="#fccc00" stroke-width="3.3"/>
<path d="M72 1.5h9M147 1.5h6M78 4.5h6M144 4.5h6M81 7.5h6M141 7.5h6M84 10.5h6M138 10.5h6M57 13.5h3M87 13.5h6M54 16.5h6M90 16.5h6M51 19.5h6M93 19.5h6M48 22.5h6M96 22.5h6M123 22.5h3M45 25.5h6M99 25.5h6M120 25.5h6M42 28.5h6M102 28.5h6M117 28.5h6M105 31.5h6M114 31.5h6M108 34.5h9M108 37.5h6M105 40.5h6M27 43.5h6M102 43.5h6M24 46.5h6M99 46.5h6M21 49.5h6M96 49.5h6M126 49.5h6M18 52.5h6M93 52.5h6M129 52.5h6M90 55.5h6M132 55.5h6M87 58.5h6M135 58.5h6M87 61.5h3M138 61.5h6M3 64.5h3M141 64.5h6M0 67.5h6M144 67.5h6M0 70.5h3M147 70.5h3M0 73.5h6M150 73.5h3M3 76.5h6M66 76.5h3M6 79.5h6M63 79.5h6M9 82.5h6M60 82.5h6M135 82.5h6M12 85.5h6M57 85.5h6M132 85.5h6M15 88.5h6M54 88.5h6M129 88.5h6M18 91.5h6M51 91.5h6M126 91.5h6M21 94.5h6M48 94.5h6M123 94.5h6M24 97.5h6M45 97.5h6M120 97.5h6M27 100.5h6M42 100.5h6M120 100.5h3M30 103.5h3M39 103.5h6M39 106.5h3M33 109.5h6M33 112.5h3M105 112.5h3M45 115.5h6M102 115.5h6M48 118.5h6M99 118.5h6M51 121.5h6M15 124.5h6M54 124.5h6M12 127.5h6M57 127.5h6M9 130.5h6M60 130.5h6M84 130.5h3M6 133.5h6M63 133.5h6M81 133.5h6M3 136.5h6M66 136.5h6M78 136.5h6M0 139.5h6M69 139.5h12M0 142.5h3M72 142.5h6" stroke="#fcd800" stroke-width="3.3"/>
<path d="M87 1.5h3M90 4.5h3M93 7.5h3M51 10.5h3M96 10.5h3M48 13.5h3M147 13.5h3M45 16.5h3M42 19.5h3M117 19.5h3M39 22.5h3M87 22.5h3M114 22.5h3M90 25.5h3M93 28.5h3M96 31.5h3M99 34.5h3M99 37.5h3M132 43.5h3M111 46.5h3M135 46.5h3M33 49.5h3M108 49.5h3M138 49.5h3M30 52.5h3M105 52.5h3M141 52.5h3M27 55.5h3M102 55.5h3M144 55.5h3M99 58.5h3M147 58.5h3M96 61.5h3M93 64.5h3M12 73.5h3M60 73.5h3M15 76.5h3M57 76.5h3M18 79.5h3M54 79.5h3M129 79.5h3M51 82.5h3M126 82.5h3M150 82.5h3M48 85.5h3M123 85.5h3M6 88.5h3M120 88.5h3M9 91.5h3M117 91.5h3M12 94.5h3M114 94.5h3M15 97.5h3M57 97.5h3M18 100.5h3M54 100.5h3M21 103.5h3M51 103.5h3M24 106.5h3M48 106.5h3M54 112.5h3M57 115.5h3M60 118.5h3M111 118.5h3M9 121.5h3M63 121.5h3M108 121.5h3M6 124.5h3M66 124.5h3M105 124.5h3M3 127.5h3M69 127.5h3M78 127.5h3M0 130.5h3M75 130.5h3M60 139.5h3M63 142.5h3" stroke="#fc9000" stroke-width="3.3"/>
<path d="M90 1.5h3M21 7.5h3M24 10.5h3M45 13.5h3M42 16.5h3M39 19.5h3M93 31.5h3M96 34.5h3M36 49.5h3M141 49.5h3M33 52.5h3M144 52.5h3M72 55.5h3M105 55.5h3M102 58.5h3M99 61.5h3M57 73.5h3M54 76.5h3M51 79.5h3M123 82.5h3M120 85.5h3M150 85.5h3M78 88.5h3M81 91.5h3M84 94.5h3M12 97.5h3M15 100.5h3M18 103.5h3M51 106.5h3M129 109.5h3M132 112.5h3M60 115.5h3M63 118.5h3M66 121.5h3M3 124.5h3M0 127.5h3M132 139.5h3M135 142.5h3" stroke="#fc6000" stroke-width="3.3"/>
<path d="M96 1.5h3M24 4.5h3M99 4.5h3M27 7.5h3M102 7.5h3M30 10.5h3M105 10.5h3M33 13.5h3M39 13.5h3M108 13.5h3M36 16.5h3M111 16.5h3M75 19.5h3M150 19.5h3M3 22.5h3M78 22.5h3M6 25.5h3M81 25.5h3M9 28.5h3M84 28.5h3M12 31.5h3M60 31.5h3M87 31.5h3M15 34.5h3M57 34.5h3M90 34.5h3M90 37.5h3M87 40.5h3M84 43.5h3M144 46.5h3M147 49.5h3M150 52.5h3M36 55.5h3M111 55.5h3M108 58.5h3M105 61.5h3M123 64.5h3M126 67.5h3M129 70.5h3M21 73.5h3M51 73.5h3M96 73.5h3M24 76.5h3M48 76.5h3M99 76.5h3M27 79.5h3M45 79.5h3M120 79.5h3M30 82.5h3M42 82.5h3M117 82.5h3M33 85.5h3M39 85.5h3M114 85.5h3M0 91.5h3M72 91.5h6M3 94.5h3M69 94.5h3M78 94.5h3M6 97.5h3M66 97.5h3M81 97.5h3M9 100.5h3M63 100.5h3M138 100.5h3M12 103.5h3M60 103.5h3M135 103.5h3M57 106.5h3M132 106.5h3M135 109.5h3M63 112.5h3M138 112.5h3M66 115.5h3M141 115.5h3M69 118.5h3M144 118.5h3M0 121.5h3M72 121.5h3M147 121.5h3M114 127.5h3M117 130.5h3M45 133.5h3M120 133.5h3M48 136.5h3M123 136.5h3M51 139.5h3M126 139.5h3M18 142.5h3M54 142.5h3M129 142.5h3" stroke="#fc1818" stroke-width="3.3"/>
<path d="M99 1.5h3M30 7.5h3M87 34.5h3M111 58.5h3M45 76.5h3M114 82.5h3M6 100.5h3M138 109.5h3M72 118.5h3M126 142.5h3" stroke="#f01854" stroke-width="3.3"/>
<path d="M102 1.5h3M105 4.5h3M108 7.5h3M36 10.5h3M78 28.5h3M81 31.5h3M9 34.5h3M27 73.5h3M42 76.5h3M39 79.5h3M0 97.5h3M3 100.5h3M66 103.5h3M63 106.5h3M141 109.5h3M144 112.5h3M147 115.5h3M117 136.5h3M120 139.5h3M123 142.5h3" stroke="#d824cc" stroke-width="3.3"/>
<path d="M105 1.5h3M108 4.5h3M36 7.5h3M111 7.5h3M0 28.5h3M75 28.5h3M3 31.5h3M78 31.5h3M6 34.5h3M66 34.5h3M81 34.5h3M81 37.5h3M78 40.5h3M150 43.5h3M117 67.5h3M120 70.5h3M30 73.5h3M105 73.5h3M33 76.5h3M39 76.5h3M36 79.5h3M0 100.5h3M72 100.5h3M69 103.5h3M144 103.5h3M66 106.5h3M141 106.5h3M144 109.5h3M147 112.5h3M39 136.5h3M114 136.5h3M42 139.5h3M117 139.5h3M45 142.5h3M120 142.5h3" stroke="#cc24f0" stroke-width="3.3"/>
<path d="M108 1.5h3" stroke="#cc54fc" stroke-width="3.3"/>
<path d="M111 1.5h3M0 34.5h3M75 37.5h3M150 37.5h3M36 73.5h3M72 106.5h3M147 106.5h3M39 142.5h3" stroke="#e478fc" stroke-width="3.3"/>
<path d="M117 1.5h3M114 4.5h3M72 31.5h3M147 31.5h3M144 34.5h3M3 37.5h3M69 37.5h3M0 40.5h3M72 40.5h3M39 67.5h3M30 70.5h3M42 70.5h3M78 109.5h3M75 112.5h3M150 112.5h3M36 136.5h3M111 136.5h3M33 139.5h3M108 139.5h3M105 142.5h3" stroke="#cc3cfc" stroke-width="3.3"/>
<path d="M120 1.5h3M117 4.5h3M147 28.5h3M144 31.5h3M66 37.5h3M0 43.5h3M39 64.5h3M27 70.5h3M78 112.5h3M75 115.5h3M108 136.5h3M105 139.5h3" stroke="#d824e4" stroke-width="3.3"/>
<path d="M123 1.5h3M141 31.5h3M63 37.5h3M3 43.5h3M42 64.5h3M81 112.5h3M150 118.5h3M36 130.5h3M102 139.5h3" stroke="#e4189c" stroke-width="3.3"/>
<path d="M132 1.5h3M129 4.5h3M0 16.5h3M66 22.5h3M63 25.5h3M132 31.5h3M54 37.5h3M12 43.5h3M9 46.5h3M78 52.5h3M117 55.5h3M120 58.5h3M51 64.5h3M54 67.5h3M15 70.5h3M105 85.5h3M108 88.5h3M147 88.5h3M36 91.5h3M144 91.5h3M93 109.5h3M90 112.5h3M39 124.5h3M27 130.5h3M24 133.5h3M93 139.5h3M90 142.5h3" stroke="#fc3c0c" stroke-width="3.3"/>
<path d="M138 1.5h3M135 4.5h3M75 10.5h3M150 10.5h3M78 13.5h3M99 13.5h3M81 16.5h3M102 16.5h3M84 19.5h3M105 19.5h3M60 22.5h3M108 22.5h3M57 25.5h3M111 25.5h3M54 28.5h3M51 31.5h3M126 31.5h3M48 34.5h3M123 34.5h3M24 37.5h3M21 40.5h3M96 40.5h3M18 43.5h3M93 43.5h3M15 46.5h3M90 46.5h3M87 49.5h3M84 52.5h3M123 55.5h3M126 58.5h3M129 61.5h3M150 61.5h3M132 64.5h3M135 67.5h3M138 70.5h3M0 82.5h3M21 82.5h3M72 82.5h3M3 85.5h3M24 85.5h3M69 85.5h3M27 88.5h3M45 88.5h3M66 88.5h3M141 88.5h3M30 91.5h3M42 91.5h3M63 91.5h3M138 91.5h3M33 94.5h3M39 94.5h3M60 94.5h3M135 94.5h3M132 97.5h3M129 100.5h3M126 103.5h3M99 109.5h3M96 112.5h3M42 121.5h3M45 124.5h3M48 127.5h3M21 130.5h3M51 130.5h3M72 130.5h3M18 133.5h3M54 133.5h3M15 136.5h3M57 136.5h3M12 139.5h3M87 139.5h3M9 142.5h3M84 142.5h3" stroke="#fc9c00" stroke-width="3.3"/>
<path d="M141 1.5h3M138 4.5h3M75 7.5h3M135 7.5h3M150 7.5h3M78 10.5h3M93 10.5h3M81 13.5h3M96 13.5h3M84 16.5h3M99 16.5h3M60 19.5h3M87 19.5h3M102 19.5h3M57 22.5h3M90 22.5h3M105 22.5h3M39 25.5h3M54 25.5h3M93 25.5h3M108 25.5h3M129 25.5h3M51 28.5h3M111 28.5h3M126 28.5h3M48 31.5h3M123 31.5h3M120 34.5h3M102 37.5h3M24 40.5h3M99 40.5h3M21 43.5h3M96 43.5h3M111 43.5h3M18 46.5h3M93 46.5h3M108 46.5h3M15 49.5h3M90 49.5h3M105 49.5h3M87 52.5h3M123 52.5h3M84 55.5h3M126 55.5h3M81 58.5h3M129 58.5h3M144 58.5h3M132 61.5h3M147 61.5h3M135 64.5h3M150 64.5h3M9 67.5h3M138 67.5h3M6 70.5h3M141 70.5h3M12 76.5h3M0 79.5h3M15 79.5h3M3 82.5h3M18 82.5h3M69 82.5h3M6 85.5h3M21 85.5h3M51 85.5h3M66 85.5h3M141 85.5h3M9 88.5h3M24 88.5h3M48 88.5h3M63 88.5h3M138 88.5h3M12 91.5h3M27 91.5h3M45 91.5h3M60 91.5h3M135 91.5h3M30 94.5h3M42 94.5h3M57 94.5h3M117 94.5h3M132 94.5h3M33 97.5h3M39 97.5h3M54 97.5h3M114 97.5h3M129 97.5h3M36 100.5h3M51 100.5h3M126 100.5h3M123 103.5h3M102 109.5h3M99 112.5h3M96 115.5h3M42 118.5h3M45 121.5h3M48 124.5h3M21 127.5h3M51 127.5h3M66 127.5h3M18 130.5h3M54 130.5h3M69 130.5h3M15 133.5h3M57 133.5h3M72 133.5h3M12 136.5h3M60 136.5h3M87 136.5h3M9 139.5h3M63 139.5h3M84 139.5h3M6 142.5h3M66 142.5h3M81 142.5h3" stroke="#fcb400" stroke-width="3.3"/>
<path d="M27 4.5h3M147 46.5h3M108 61.5h3M48 73.5h3M117 79.5h3M75 94.5h3M78 97.5h3M9 103.5h3M66 112.5h3M69 115.5h3" stroke="#f01860" stroke-width="3.3"/>
<path d="M45 4.5h3M42 7.5h3M138 37.5h3M141 40.5h3M72 46.5h3M33 61.5h3M99 70.5h3M123 73.5h3M150 94.5h3M84 103.5h3M6 112.5h3M3 115.5h3M111 130.5h3" stroke="#f01878" stroke-width="3.3"/>
<path d="M93 4.5h3M96 7.5h3M99 10.5h3M27 13.5h3M30 16.5h3M33 19.5h3M84 22.5h3M87 25.5h3M90 28.5h3M18 31.5h3M21 34.5h3M111 49.5h3M108 52.5h3M147 55.5h3M15 73.5h3M18 76.5h3M48 82.5h3M45 85.5h3M75 85.5h3M117 88.5h3M6 91.5h3M114 91.5h3M9 94.5h3M57 100.5h3M54 103.5h3M126 106.5h3M135 115.5h3M138 118.5h3M69 124.5h3M72 127.5h3M126 133.5h3M129 136.5h3M57 139.5h3M60 142.5h3" stroke="#fc6c00" stroke-width="3.3"/>
<path d="M102 4.5h3M33 10.5h3M36 13.5h3M150 22.5h3M81 28.5h3M84 31.5h3M42 79.5h3M3 97.5h3M63 103.5h3M60 106.5h3M141 112.5h3M120 136.5h3M123 139.5h3" stroke="#f01848" stroke-width="3.3"/>
<path d="M111 4.5h3M0 31.5h3M75 31.5h3M3 34.5h3M69 34.5h3M78 37.5h3M75 40.5h3M150 40.5h3M114 67.5h3M117 70.5h3M33 73.5h3M108 73.5h3M36 76.5h3M111 76.5h3M72 103.5h3M147 103.5h3M69 106.5h3M144 106.5h3M39 139.5h3M114 139.5h3M30 142.5h3M42 142.5h3" stroke="#cc48fc" stroke-width="3.3"/>
<path d="M120 4.5h3M144 28.5h3M66 40.5h3M0 46.5h3M39 61.5h3M24 70.5h3M78 115.5h3M105 136.5h3" stroke="#e41890" stroke-width="3.3"/>
<path d="M105 7.5h3M78 25.5h3M12 34.5h3M24 73.5h3M39 82.5h3M0 94.5h3M144 115.5h3" stroke="#f0183c" stroke-width="3.3"/>
<path d="M117 7.5h3M147 25.5h3M27 67.5h3" stroke="#f01890" stroke-width="3.3"/>
<path d="M108 10.5h3M111 13.5h3M75 22.5h3M6 28.5h3M9 31.5h3M87 37.5h3M126 70.5h3M30 79.5h3M69 97.5h3M135 106.5h3M147 118.5h3M114 130.5h3M48 139.5h3" stroke="#fc1830" stroke-width="3.3"/>
<path d="M111 10.5h3M3 28.5h3M6 31.5h3M84 37.5h3M150 46.5h3M123 70.5h3M30 76.5h3M33 79.5h3M72 97.5h3M141 103.5h3M138 106.5h3M114 133.5h3M45 139.5h3" stroke="#e418cc" stroke-width="3.3"/>
<path d="M75 13.5h3M102 13.5h3M150 13.5h3M3 16.5h3M78 16.5h3M105 16.5h3M6 19.5h3M81 19.5h3M108 19.5h3M9 22.5h3M36 22.5h3M111 22.5h3M12 25.5h3M60 25.5h3M15 28.5h3M57 28.5h3M54 31.5h3M51 34.5h3M126 34.5h3M21 37.5h3M96 37.5h3M18 40.5h3M93 40.5h3M90 43.5h3M87 46.5h3M84 49.5h3M123 58.5h3M150 58.5h3M126 61.5h3M129 64.5h3M57 67.5h3M132 67.5h3M60 70.5h3M135 70.5h3M90 73.5h3M93 76.5h3M21 79.5h3M96 79.5h3M24 82.5h3M99 82.5h3M0 85.5h3M27 85.5h3M72 85.5h3M3 88.5h3M30 88.5h3M42 88.5h3M69 88.5h3M33 91.5h3M39 91.5h3M66 91.5h3M141 91.5h3M63 94.5h3M138 94.5h3M60 97.5h3M135 97.5h3M132 100.5h3M129 103.5h3M96 109.5h3M114 121.5h3M141 121.5h3M117 124.5h3M144 124.5h3M45 127.5h3M120 127.5h3M147 127.5h3M48 130.5h3M123 130.5h3M21 133.5h3M51 133.5h3M18 136.5h3M54 136.5h3M15 139.5h3M12 142.5h3M87 142.5h3" stroke="#fc7800" stroke-width="3.3"/>
<path d="M75 16.5h3M108 16.5h3M3 19.5h3M111 19.5h3M6 22.5h3M9 25.5h3M60 28.5h3M57 31.5h3M129 34.5h3M18 37.5h3M15 40.5h3M87 43.5h3M84 46.5h3M81 49.5h3M150 55.5h3M123 61.5h3M126 64.5h3M129 67.5h3M57 70.5h3M96 76.5h3M99 79.5h3M102 82.5h3M30 85.5h3M33 88.5h3M72 88.5h3M69 91.5h3M141 94.5h3M138 97.5h3M135 100.5h3M114 124.5h3M42 127.5h3M45 130.5h3M48 133.5h3M21 136.5h3M18 139.5h3M15 142.5h3" stroke="#fc300c" stroke-width="3.3"/>
<path d="M69 19.5h3M135 28.5h3M114 52.5h3M75 55.5h3M48 61.5h3M96 136.5h3" stroke="#fc3c00" stroke-width="3.3"/>
<path d="M0 25.5h3M63 34.5h3M81 40.5h3M120 67.5h3M102 73.5h3M105 76.5h3M36 82.5h3M144 100.5h3M39 133.5h3M42 136.5h3M24 142.5h3" stroke="#e418c0" stroke-width="3.3"/>
<path d="M72 25.5h3M138 34.5h3M6 40.5h3M114 61.5h3M45 67.5h3M111 82.5h3M84 109.5h3M33 133.5h3M30 136.5h3M99 142.5h3" stroke="#e418a8" stroke-width="3.3"/>
<path d="M75 25.5h3M69 100.5h3M48 142.5h3" stroke="#d818cc" stroke-width="3.3"/>
<path d="M69 28.5h3M66 31.5h3M9 37.5h3M78 43.5h3M75 46.5h3M117 64.5h3M48 70.5h3M108 79.5h3M147 97.5h3M27 139.5h3" stroke="#e418b4" stroke-width="3.3"/>
<path d="M72 28.5h3M69 31.5h3M141 34.5h3M6 37.5h3M3 40.5h3M75 43.5h3M114 64.5h3M42 67.5h3M45 70.5h3M108 76.5h3M111 79.5h3M147 100.5h3M81 109.5h3M150 115.5h3M36 133.5h3M33 136.5h3M30 139.5h3M27 142.5h3M102 142.5h3" stroke="#cc24e4" stroke-width="3.3"/>
<path d="M72 34.5h3M0 37.5h3M39 70.5h3M114 70.5h3M111 73.5h3M150 109.5h3M36 139.5h3M33 142.5h3" stroke="#d86cfc" stroke-width="3.3"/>
<path d="M75 34.5h3M114 142.5h3" stroke="#e484fc" stroke-width="3.3"/>
<path d="M150 34.5h3M36 70.5h3M111 70.5h3M75 106.5h3" stroke="#f090fc" stroke-width="3.3"/>
<path d="M27 76.5h3M66 100.5h3M117 133.5h3M51 142.5h3" stroke="#fc183c" stroke-width="3.3"/>
<path d="M150 106.5h3" stroke="#f09cfc" stroke-width="3.3"/>
<path d="M36 142.5h3" stroke="#fca8f0" stroke-width="3.3"/>
<path d="M111 142.5h3" stroke="#fc9cf0" stroke-width="3.3"/>
</svg></g>
<g fill="none" stroke-linecap="round" stroke-linejoin="round" transform="translate(1370,65) scale(0.07893)">
<path d="M220,240 C400,250 560,260 640,300 C690,450 700,600 660,850 C640,900 620,930 590,900 C480,760 360,560 220,240 Z" fill="#ece44a" fill-opacity="0.55"/>
<path d="M150,160 C200,170 260,180 310,200" stroke="#d8d870" stroke-width="8"/>
<path d="M600,250 C650,210 720,200 800,230 C830,280 820,330 800,360" stroke="#e0e0b0" stroke-width="8"/>
<path d="M210,230 C300,420 420,640 560,840" stroke="#e4dc20" stroke-width="45"/>
<path d="M300,260 C380,430 470,600 600,900" stroke="#d0c410" stroke-width="40"/>
<path d="M430,330 C490,460 560,640 640,920" stroke="#eee62c" stroke-width="50"/>
<path d="M520,360 C560,480 610,640 660,800" stroke="#e6de22" stroke-width="45"/>
<path d="M600,280 C640,380 680,500 700,640" stroke="#dcd420" stroke-width="40"/>
<path d="M380,700 C450,780 520,850 600,930" stroke="#a89800" stroke-width="25"/>
<path d="M230,380 C220,420 225,470 240,500" stroke="#b0a010" stroke-width="30"/>
<path d="M360,150 C400,120 470,160 470,220 C470,260 430,250 420,220" stroke="#c0b010" stroke-width="30"/>
<path d="M700,380 C730,480 770,580 800,680" stroke="#b8641a" stroke-width="35"/>
<path d="M820,390 C840,440 870,490 890,520" stroke="#c06a1c" stroke-width="30"/>
<path d="M720,740 C780,760 860,740 900,700 C940,650 930,580 880,560 C840,550 820,600 860,620" stroke="#e090d8" stroke-width="14"/>
<path d="M780,850 C800,900 830,960 860,1000" stroke="#e0c8a0" stroke-width="7"/>
<path d="M700,700 C720,760 760,800 800,840" stroke="#e8c0b0" stroke-width="7"/>
</g>
<g fill="none" stroke-linecap="round" stroke-linejoin="round" transform="translate(1415,80) scale(0.11403)">
<path d="M240,150 C300,180 340,220 380,260 C420,300 460,290 480,340 C500,400 520,450 560,480 C600,520 600,580 560,620" stroke="#9ccc9c" stroke-width="9"/>
<path d="M340,80 C380,60 430,90 440,130 C450,170 400,180 380,160" stroke="#9ccc9c" stroke-width="9"/>
<path d="M100,620 C130,590 200,590 230,630" stroke="#9ccc9c" stroke-width="9"/>
<path d="M700,780 C760,760 840,740 900,770 C930,820 900,880 850,890 C800,900 780,940 760,990 C740,1050 700,1080 650,1060" stroke="#9ccc9c" stroke-width="9"/>
<path d="M210,800 C230,830 260,840 290,830" stroke="#9ccc9c" stroke-width="9"/>
<path d="M330,900 C340,960 380,1010 420,1040" stroke="#9ccc9c" stroke-width="9"/>
<path d="M600,900 C650,920 700,950 720,1000" stroke="#9ccc9c" stroke-width="9"/>
<path d="M80,720 C100,690 150,680 180,700" stroke="#9ccc9c" stroke-width="9"/>
<path d="M300,440 C280,480 260,520 280,560 C300,600 330,610 360,600" stroke="#9ccc9c" stroke-width="9"/>
<path d="M160,700 C300,680 480,700 680,780" stroke="#30c030" stroke-width="40"/>
<path d="M200,740 C350,750 500,770 680,790" stroke="#28b028" stroke-width="30"/>
<path d="M260,820 C400,810 530,800 620,800" stroke="#30c030" stroke-width="30"/>
<path d="M580,650 C620,700 660,750 700,790" stroke="#28a828" stroke-width="25"/>
<path d="M300,880 C380,870 460,860 520,850" stroke="#30b030" stroke-width="15"/>
<path d="M360,480 C380,450 440,460 440,510 C440,550 400,560 380,540" stroke="#2cba2c" stroke-width="38"/>
<path d="M470,870 C490,850 560,850 580,880 C590,910 560,920 540,900" stroke="#2cba2c" stroke-width="34"/>
<path d="M450,1010 C470,980 540,980 580,1000 C600,1030 560,1050 520,1040" stroke="#2cba2c" stroke-width="34"/>
<path d="M290,500 C310,460 330,430 360,410" stroke="#30c030" stroke-width="25"/>
<path d="M200,690 C230,670 280,660 320,680" stroke="#2cb82c" stroke-width="30"/>
</g>
<path d="M49.5,605 L603.5,605 L603.5,1096 L420.5,935 L49.5,935 Z" fill="#f9f5f0" stroke="#d8a88c" stroke-width="1.8" stroke-dasharray="4.4,1.8"/>
<rect x="58.3" y="613.8" width="937" height="313.2" fill="#e9eef9" stroke="#a9c2e4" stroke-width="2"/>
<rect x="59.3" y="614.8" width="543.9" height="311.2" fill="#e6e9f2"/>
<line x1="603.3" y1="614" x2="603.3" y2="927" stroke="#cccccc" stroke-width="1.8" stroke-dasharray="3,3.1"/>
<rect x="838.8" y="584.6" width="166.2" height="43.8" fill="#d6e1f2" stroke="#a9c2e4" stroke-width="2"/>
<text x="853.0" y="613.8" font-family='"Liberation Serif", serif' font-size="26.5" font-weight="normal" fill="#111" textLength="135.0" lengthAdjust="spacingAndGlyphs" >Pre-training</text>
<text x="96.5" y="637.5" font-family='"Liberation Serif", serif' font-size="26" font-weight="normal" fill="#111" textLength="61.8" lengthAdjust="spacingAndGlyphs" >Input</text>
<text x="75.0" y="660.0" font-family='"Liberation Serif", serif' font-size="26" font-weight="normal" fill="#111" textLength="98.3" lengthAdjust="spacingAndGlyphs" >sequence</text>
<text x="486.5" y="636.7" font-family='"Liberation Serif", serif' font-size="25" font-weight="normal" fill="#111" textLength="60.6" lengthAdjust="spacingAndGlyphs" >Local</text>
<text x="437.4" y="660.4" font-family='"Liberation Serif", serif' font-size="25" font-weight="normal" fill="#111" textLength="158.0" lengthAdjust="spacingAndGlyphs" >representation</text>
<text x="819.5" y="664.0" font-family='"Liberation Serif", serif' font-size="25" font-weight="normal" fill="#111" textLength="165.3" lengthAdjust="spacingAndGlyphs" >Reconstruction</text>
<rect x="108.9" y="684.2" width="31.2" height="29.1" fill="#f4f4f4"/>
<rect x="108.9" y="713.3" width="31.2" height="31.3" fill="#e6e6e6"/>
<rect x="108.9" y="744.6" width="31.2" height="30.3" fill="#dddddd"/>
<rect x="108.9" y="774.9" width="31.2" height="32.2" fill="#d3d3d3"/>
<rect x="108.9" y="807.1" width="31.2" height="32.3" fill="#c3c3c3"/>
<rect x="108.9" y="839.4" width="31.2" height="31.3" fill="#bcbcbc"/>
<rect x="108.9" y="870.7" width="31.2" height="27.2" fill="#ababab"/>
<rect x="108.9" y="684.2" width="31.2" height="213.7" fill="none" stroke="#c4c4c4" stroke-width="1.2"/>
<text x="115.7" y="706.0" font-family='"Liberation Serif", serif' font-size="21.5" fill="#262626" textLength="18.119999999999997" lengthAdjust="spacingAndGlyphs">M</text>
<text x="116.9" y="736.2" font-family='"Liberation Serif", serif' font-size="21.5" fill="#262626" textLength="15.719999999999999" lengthAdjust="spacingAndGlyphs">G</text>
<text x="116.3" y="767.0" font-family='"Liberation Serif", serif' font-size="21.5" fill="#262626" textLength="16.919999999999998" lengthAdjust="spacingAndGlyphs">K</text>
<text x="116.9" y="798.2" font-family='"Liberation Serif", serif' font-size="21.5" fill="#262626" textLength="15.719999999999999" lengthAdjust="spacingAndGlyphs">G</text>
<text x="117.5" y="830.5" font-family='"Liberation Serif", serif' font-size="21.5" fill="#262626" textLength="14.52" lengthAdjust="spacingAndGlyphs">E</text>
<text x="124.5" y="862.2" font-family='"Liberation Serif", serif' font-size="21.5" fill="#262626" text-anchor="middle">&#8942;</text>
<text x="118.1" y="891.5" font-family='"Liberation Serif", serif' font-size="21.5" fill="#262626" textLength="13.319999999999999" lengthAdjust="spacingAndGlyphs">L</text>
<rect x="896.3" y="684.2" width="30.8" height="29.1" fill="#f4f4f4"/>
<rect x="896.3" y="713.3" width="30.8" height="31.3" fill="#e6e6e6"/>
<rect x="896.3" y="744.6" width="30.8" height="30.3" fill="#dddddd"/>
<rect x="896.3" y="774.9" width="30.8" height="32.2" fill="#d3d3d3"/>
<rect x="896.3" y="807.1" width="30.8" height="32.3" fill="#c3c3c3"/>
<rect x="896.3" y="839.4" width="30.8" height="31.3" fill="#bcbcbc"/>
<rect x="896.3" y="870.7" width="30.8" height="27.2" fill="#ababab"/>
<rect x="896.3" y="684.2" width="30.8" height="213.7" fill="none" stroke="#c4c4c4" stroke-width="1.2"/>
<text x="902.9" y="706.0" font-family='"Liberation Serif", serif' font-size="21.5" fill="#262626" textLength="18.119999999999997" lengthAdjust="spacingAndGlyphs">M</text>
<text x="904.1" y="736.2" font-family='"Liberation Serif", serif' font-size="21.5" fill="#262626" textLength="15.719999999999999" lengthAdjust="spacingAndGlyphs">G</text>
<text x="903.5" y="767.0" font-family='"Liberation Serif", serif' font-size="21.5" fill="#262626" textLength="16.919999999999998" lengthAdjust="spacingAndGlyphs">K</text>
<text x="904.1" y="798.2" font-family='"Liberation Serif", serif' font-size="21.5" fill="#262626" textLength="15.719999999999999" lengthAdjust="spacingAndGlyphs">G</text>
<text x="904.7" y="830.5" font-family='"Liberation Serif", serif' font-size="21.5" fill="#262626" textLength="14.52" lengthAdjust="spacingAndGlyphs">E</text>
<text x="911.7" y="862.2" font-family='"Liberation Serif", serif' font-size="21.5" fill="#262626" text-anchor="middle">&#8942;</text>
<text x="905.3" y="891.5" font-family='"Liberation Serif", serif' font-size="21.5" fill="#262626" textLength="13.319999999999999" lengthAdjust="spacingAndGlyphs">L</text>
<polygon points="198.5,709.5 385.1,745.6 385.1,818.2 198.5,854.8" fill="#737b87" filter="url(#blur1)"/>
<polygon points="195.0,706.0 381.6,742.1 381.6,814.7 195.0,851.3" fill="#84a8de" stroke="#7a9fd8" stroke-width="0.8"/>
<polygon points="655.8,745.4 842.9,709.4 842.9,856.0 655.8,819.5" fill="#737b87" filter="url(#blur1)"/>
<polygon points="652.3,741.9 839.4,705.9 839.4,852.5 652.3,816.0" fill="#84a8de" stroke="#7a9fd8" stroke-width="0.8"/>
<text x="239.0" y="789.4" font-family='"Liberation Serif", serif' font-size="26.5" font-weight="normal" fill="#111" textLength="91.8" lengthAdjust="spacingAndGlyphs" >Encoder</text>
<text x="700.6" y="788.8" font-family='"Liberation Serif", serif' font-size="26.5" font-weight="normal" fill="#111" textLength="90.8" lengthAdjust="spacingAndGlyphs" >Decoder</text>
<polygon points="468.5,678.0 568.5,678.0 568.5,914.0 519.0,939.4 468.5,914.0" fill="#8a8a8a" filter="url(#blur1)"/>
<polygon points="466.0,676.0 566.0,676.0 566.0,912.0 516.5,937.4 466.0,912.0" fill="#a9a9a9" />
<rect x="478" y="689.3" width="76.7" height="23.7" fill="#fde4d4"/>
<rect x="478" y="713" width="76.7" height="26.3" fill="#fcd8be"/>
<rect x="478" y="739.3" width="76.7" height="25.4" fill="#fcc8a4"/>
<rect x="478" y="764.7" width="76.7" height="28.5" fill="#fcb88a"/>
<rect x="478" y="793.2" width="76.7" height="53.6" fill="#fca468"/>
<rect x="478" y="846.8" width="76.7" height="22.2" fill="#fa8c3a"/>
<text x="505.6" y="705.3" font-family='"Liberation Serif", serif' font-size="23" font-weight="bold" fill="#111">r<tspan font-weight="normal" font-size="16.6" dy="4" dx="0">1</tspan></text>
<text x="505.6" y="731.8" font-family='"Liberation Serif", serif' font-size="23" font-weight="bold" fill="#111">r<tspan font-weight="normal" font-size="16.6" dy="4" dx="0">2</tspan></text>
<text x="505" y="757.8" font-family='"Liberation Serif", serif' font-size="23" font-weight="bold" fill="#111">r<tspan font-weight="normal" font-size="16.6" dy="4" dx="0">3</tspan></text>
<text x="503.5" y="862.9" font-family='"Liberation Serif", serif' font-size="23" font-weight="bold" fill="#111">r<tspan font-weight="normal" font-size="18.5" dy="4" dx="1.5" font-style="italic">L</tspan></text>
<text x="514.8" y="800.5" font-family='"Liberation Serif", serif' font-size="14" fill="#111" text-anchor="middle">&#8942;</text>
<rect x="434.4" y="577.9" width="179.2" height="363.6" fill="none" stroke="#a00008" stroke-width="2.8"/>
<text x="463.7" y="607.7" font-family='"Liberation Sans", sans-serif' font-size="27.5" font-weight="bold" fill="#8e1518" textLength="118.5" lengthAdjust="spacingAndGlyphs" >diffusion</text>
<rect x="477.9" y="946.3" width="77.8" height="33.3" rx="4" fill="#fb862c"/>
<text x="515.8" y="969.5" font-family='"Liberation Serif", serif' font-size="25" font-weight="bold" fill="#111" text-anchor="middle">r</text>
<line x1="152.0" y1="736.3" x2="182.9" y2="746.9" stroke="#000" stroke-width="2.2"/>
<path d="M192.0,750.0 L179.0,750.8 L182.9,746.9 L182.3,741.4 Z" fill="#000"/>
<line x1="152.0" y1="771.5" x2="182.4" y2="771.5" stroke="#000" stroke-width="2.2"/>
<path d="M192.0,771.5 L180.0,776.5 L182.4,771.5 L180.0,766.5 Z" fill="#000"/>
<line x1="152.0" y1="804.7" x2="182.9" y2="794.1" stroke="#000" stroke-width="2.2"/>
<path d="M192.0,791.0 L182.3,799.6 L182.9,794.1 L179.0,790.2 Z" fill="#000"/>
<line x1="387.0" y1="753.8" x2="454.0" y2="728.1" stroke="#000" stroke-width="2.2"/>
<path d="M463.0,724.7 L453.6,733.7 L454.0,728.1 L450.0,724.3 Z" fill="#000"/>
<line x1="387.0" y1="786.6" x2="453.4" y2="786.6" stroke="#000" stroke-width="2.2"/>
<path d="M463.0,786.6 L451.0,791.6 L453.4,786.6 L451.0,781.6 Z" fill="#000"/>
<line x1="387.0" y1="801.6" x2="455.6" y2="858.3" stroke="#000" stroke-width="2.2"/>
<path d="M463.0,864.4 L450.6,860.6 L455.6,858.3 L456.9,852.9 Z" fill="#000"/>
<line x1="568.0" y1="726.0" x2="635.0" y2="750.7" stroke="#000" stroke-width="2.2"/>
<path d="M644.0,754.0 L631.0,754.5 L635.0,750.7 L634.5,745.2 Z" fill="#000"/>
<line x1="568.0" y1="786.6" x2="634.4" y2="786.9" stroke="#000" stroke-width="2.2"/>
<path d="M644.0,786.9 L632.0,791.9 L634.4,786.9 L632.0,781.9 Z" fill="#000"/>
<line x1="568.0" y1="862.8" x2="636.6" y2="806.1" stroke="#000" stroke-width="2.2"/>
<path d="M644.0,800.0 L637.9,811.5 L636.6,806.1 L631.6,803.8 Z" fill="#000"/>
<line x1="844.0" y1="750.2" x2="873.9" y2="739.8" stroke="#000" stroke-width="2.2"/>
<path d="M883.0,736.6 L873.3,745.3 L873.9,739.8 L870.0,735.8 Z" fill="#000"/>
<line x1="844.0" y1="772.0" x2="873.4" y2="772.0" stroke="#000" stroke-width="2.2"/>
<path d="M883.0,772.0 L871.0,777.0 L873.4,772.0 L871.0,767.0 Z" fill="#000"/>
<line x1="844.0" y1="791.8" x2="873.9" y2="802.2" stroke="#000" stroke-width="2.2"/>
<path d="M883.0,805.4 L870.0,806.2 L873.9,802.2 L873.3,796.7 Z" fill="#000"/>
<rect x="37.5" y="911.6" width="261.5" height="36.2" fill="#f8e8dc" stroke="#d8a88c" stroke-width="1.8" stroke-dasharray="4.4,1.8"/>
<text x="45.0" y="935.6" font-family='"Liberation Serif", serif' font-size="23" font-weight="normal" fill="#111" textLength="235.2" lengthAdjust="spacingAndGlyphs" >(Optional)&#160;fine-tuning</text>
<rect x="48.4" y="959.2" width="385.8" height="137.8" fill="#f6e2d6" stroke="#e9b594" stroke-width="1.8"/>
<rect x="55.5" y="971" width="174" height="109" fill="#fff"/>
<rect x="244.7" y="971" width="173.3" height="109" fill="#fff"/>
<path d="M125.0 1009.8h0M116.2 990.8h0M110.5 989.1h0M126.9 1026.4h0M109.2 995.1h0M140.7 1010.7h0M128.4 990.1h0M124.1 1016.1h0M82.0 997.7h0M64.2 984.4h0M66.1 1001.2h0M84.4 1009.3h0M130.0 1002.0h0M123.4 1006.8h0M76.0 997.4h0M93.7 992.1h0M158.9 992.1h0M124.0 1019.2h0M106.3 1003.2h0M128.5 1006.0h0M85.8 1006.2h0M168.5 980.2h0M152.5 1006.9h0M104.5 1037.0h0M149.4 985.8h0M127.4 1014.2h0M119.0 1015.9h0M122.9 1015.7h0M171.0 994.2h0M131.5 997.6h0M129.1 986.0h0M106.5 1001.9h0M153.8 1023.3h0M82.6 992.3h0M145.7 973.1h0M110.2 1003.4h0M165.2 1016.0h0M114.5 999.1h0M117.0 1029.4h0M111.3 1000.1h0M136.3 1003.1h0M118.7 987.2h0M124.6 997.9h0M162.3 1015.4h0M124.2 1015.7h0M114.1 1021.8h0M124.8 1014.3h0M83.7 1010.5h0M115.3 990.6h0M130.2 1040.9h0M98.4 995.0h0M131.6 1012.9h0M119.4 1001.7h0M147.5 1013.3h0M91.9 1003.7h0M126.1 988.1h0M133.3 991.3h0M156.1 1008.1h0M127.9 995.5h0M121.2 973.0h0M88.8 1010.8h0M69.1 1017.1h0M97.9 1017.5h0M129.2 980.4h0M165.0 1028.1h0M122.9 1000.6h0M119.9 989.4h0M160.2 996.3h0M123.4 992.3h0M105.0 984.6h0M165.2 1002.5h0M155.9 1005.2h0M102.8 999.8h0M107.1 1005.1h0M113.0 1000.2h0M80.9 992.1h0M177.9 994.3h0M91.3 1010.4h0M170.0 981.7h0M118.3 994.9h0M68.6 1016.8h0M124.2 1006.1h0M100.9 1012.3h0M107.7 1002.7h0M89.5 985.5h0M167.7 996.9h0M134.3 1004.5h0M110.9 996.9h0M145.2 1000.2h0M120.2 1005.4h0M162.6 1015.9h0M137.2 996.0h0M80.8 1020.2h0M155.9 1002.7h0M142.3 1017.5h0M151.6 1019.7h0M110.4 1029.2h0M85.1 1018.8h0M140.8 1019.0h0M185.1 1028.8h0M88.4 978.0h0M151.1 988.8h0M124.6 1018.4h0M133.3 1005.7h0M117.1 1005.6h0M97.5 980.8h0M119.7 989.5h0M72.4 1013.1h0M123.0 1011.5h0M93.3 994.5h0M93.0 990.8h0M131.3 992.5h0M136.4 1010.4h0M189.8 982.7h0M153.4 1003.6h0M124.6 981.8h0M110.3 1016.9h0M122.4 1006.3h0M115.7 1023.5h0M102.9 973.5h0M167.7 1005.8h0M87.5 989.9h0M161.2 1007.5h0M126.5 1004.1h0M126.2 1017.9h0M142.7 1008.5h0M91.6 1013.2h0M103.1 1022.5h0M84.3 1002.8h0M124.8 983.8h0M180.1 1028.4h0M110.2 1017.3h0M133.0 1004.0h0M127.7 987.8h0M116.4 1002.1h0M163.0 1010.4h0M124.8 1029.5h0M107.2 998.8h0M66.9 1030.1h0M155.9 1019.7h0M146.4 1006.8h0M131.9 1001.0h0M118.5 1005.9h0M173.4 1013.9h0M123.1 995.7h0M104.7 1030.6h0M141.2 1006.1h0M113.9 987.3h0M122.9 1019.0h0M112.4 1001.4h0M117.9 1006.8h0M74.0 1001.2h0M97.7 1019.2h0M100.3 1014.2h0M173.8 1000.0h0M105.7 1008.1h0M124.9 989.1h0M139.7 1037.2h0M116.7 1001.8h0M91.6 1010.1h0M85.1 987.3h0M165.9 990.5h0M159.6 1029.4h0M133.3 1013.9h0M187.5 1001.9h0M106.0 983.3h0M126.3 1028.7h0M155.7 989.9h0M97.6 996.9h0M134.4 1001.7h0M131.9 1009.7h0M115.4 1004.4h0M131.6 1003.7h0M141.1 1034.9h0M143.9 1005.9h0M71.0 1011.2h0M62.7 982.5h0M152.3 1016.3h0M120.2 977.6h0M113.1 994.1h0M145.4 1041.1h0M131.9 992.5h0M87.5 1004.1h0M119.3 986.6h0M128.7 986.6h0M160.6 1022.0h0M159.7 997.4h0M141.5 1002.9h0M112.6 999.6h0M83.4 981.9h0M150.4 1001.9h0M131.9 1021.0h0M69.5 992.5h0M130.6 1011.3h0M112.9 1021.5h0M131.7 985.6h0M95.2 1017.9h0M139.8 974.6h0M168.1 1014.6h0M168.0 998.9h0M115.5 987.0h0M206.2 1002.2h0M175.8 994.6h0M130.2 978.3h0M112.7 1020.7h0M84.9 1022.2h0M135.8 988.3h0M108.9 997.7h0M123.4 996.4h0M98.5 1000.1h0M92.1 984.4h0M123.5 1019.1h0M76.1 1005.1h0" stroke="#f2c48a" stroke-opacity="0.9" stroke-width="1.9" stroke-linecap="round"/>
<path d="M122.9 1013.4h0M174.0 1021.2h0M195.9 1016.7h0M158.1 1026.1h0M119.4 1040.0h0M139.7 1040.3h0M143.4 1011.5h0M141.5 1030.9h0M177.6 1014.6h0M143.7 1000.7h0M167.2 1011.6h0M83.6 1029.0h0M182.6 1004.1h0M108.0 1017.4h0M106.6 1036.5h0M117.5 1017.7h0M164.8 1017.2h0M159.7 1013.5h0M103.8 998.8h0M208.3 1024.6h0M153.3 1029.5h0M150.4 1030.8h0M209.9 1012.3h0M92.0 1012.8h0M99.6 1042.7h0M172.9 1013.7h0M97.7 1024.0h0M192.3 982.1h0M162.9 1011.7h0M180.4 1011.7h0M135.3 1004.4h0M111.8 1053.6h0M172.9 1023.2h0M115.4 997.8h0M131.6 1029.5h0M142.1 1028.4h0M106.9 1028.9h0M143.7 1051.9h0M208.5 1027.7h0M118.9 1028.9h0M124.3 1017.4h0M143.0 1012.3h0M165.6 1028.2h0M153.5 1026.9h0M120.3 1013.9h0M136.9 1020.7h0M153.0 1029.9h0M98.7 1031.1h0M99.3 1019.5h0M135.0 994.7h0M148.1 1032.6h0M139.6 1022.8h0M132.3 1013.4h0M135.8 1020.6h0M148.1 1009.5h0M153.0 1032.4h0M140.2 1022.5h0M163.8 1001.7h0M160.7 1034.1h0M154.6 1036.5h0M122.8 1025.6h0M166.7 1037.3h0M152.0 1004.3h0M163.3 1049.9h0M179.3 1034.0h0M92.0 1046.0h0M140.0 986.9h0M157.8 1004.6h0M100.9 1019.2h0M188.3 1023.7h0M154.2 1059.7h0M199.2 1028.2h0M136.8 1008.6h0M121.4 1037.2h0M158.5 1031.9h0M178.8 1016.9h0M143.1 1042.4h0M164.9 1048.2h0M158.5 1024.7h0M157.3 1013.0h0M89.3 1039.9h0M143.1 1035.2h0M87.3 1023.8h0M124.6 1015.3h0M68.3 1024.3h0M175.5 1036.5h0M124.6 1029.7h0M170.7 983.1h0M140.8 1039.2h0M168.2 1058.9h0M183.6 1035.3h0M155.3 1043.4h0M126.7 1029.3h0M175.8 1063.3h0M139.6 1029.2h0M151.7 1052.8h0M144.0 1055.0h0M112.1 1026.8h0M138.3 1043.4h0M180.5 1004.3h0M113.9 1035.7h0M122.6 1004.1h0M180.3 1038.4h0M161.8 1021.9h0M180.0 1025.9h0M182.3 1014.5h0M116.0 1033.5h0M121.1 1041.5h0M153.8 1014.3h0M147.5 1024.0h0M176.1 1019.2h0M130.1 1050.6h0M221.1 1064.0h0M147.1 1033.7h0M197.1 1027.9h0M111.8 1032.0h0M160.4 1015.9h0M89.0 1005.6h0M167.6 1017.1h0M140.2 1033.6h0M166.1 1024.3h0M162.0 1014.9h0M132.7 1012.6h0M183.5 1029.5h0M119.9 1024.0h0M137.5 1041.9h0M90.7 1012.4h0M132.1 1073.0h0M177.5 1028.1h0M169.2 1065.0h0M137.1 1023.8h0M186.2 1038.4h0M167.8 1021.4h0M210.4 1059.1h0M164.2 1041.6h0M76.1 1040.8h0M138.4 1037.4h0M168.2 1024.2h0M87.5 1036.3h0M119.8 1024.4h0M124.4 1024.2h0M66.5 1050.7h0M153.6 1048.9h0M212.3 1030.4h0M83.7 1014.8h0M104.0 1021.5h0M147.7 996.0h0M156.6 1004.3h0M155.1 1028.1h0M134.3 1028.8h0M126.6 1019.6h0M87.8 1029.5h0M207.7 1063.7h0M189.9 1042.0h0M122.0 1054.5h0M143.1 1028.8h0M135.1 1031.6h0M130.2 1028.6h0M108.1 1023.6h0M222.5 1028.8h0M136.9 1039.1h0M169.1 1011.1h0M138.0 1045.6h0M154.2 1032.1h0M197.8 1018.5h0M147.8 1021.2h0M195.7 996.8h0M122.2 1021.0h0M167.6 1040.3h0M192.4 1003.2h0M170.5 1025.0h0M122.4 1039.2h0M113.7 994.7h0M132.4 1004.5h0M122.9 1036.3h0M155.6 1057.0h0M138.2 1003.9h0M119.3 1014.4h0M103.6 1037.4h0M123.1 996.4h0M168.7 1028.1h0M157.1 1031.8h0M166.5 1030.6h0M187.0 1037.2h0M158.3 1037.0h0M95.5 1027.2h0M136.2 1033.5h0M98.8 1057.8h0M148.5 1009.4h0M86.9 1025.2h0M142.0 1017.8h0M148.1 1019.1h0M163.8 1017.7h0M143.7 1046.6h0M129.2 1015.7h0M171.7 1010.5h0M128.5 1029.5h0M111.7 1013.7h0M128.8 994.3h0M95.9 1023.0h0M150.0 1026.8h0M84.7 1022.1h0M172.1 1039.4h0M142.3 1014.9h0M166.5 1020.2h0M105.2 1016.4h0M194.2 1033.7h0M184.4 1021.9h0M176.9 1019.8h0M139.6 1072.3h0M171.1 1021.5h0M142.1 1035.5h0M186.2 1021.7h0M85.8 1025.2h0M145.5 1031.9h0M189.8 1035.4h0M172.6 1011.3h0M174.5 1065.6h0M171.3 1034.3h0M150.2 1060.4h0M113.5 1028.1h0M160.6 1042.6h0M130.1 1035.2h0M135.6 1032.0h0M140.5 1010.6h0M144.3 1044.9h0M112.1 1025.9h0M167.6 1011.8h0M151.2 1012.0h0M183.6 1069.3h0M213.8 1026.3h0M170.2 1032.1h0M148.5 1056.3h0M100.1 1047.9h0M143.3 1053.9h0M151.4 1018.6h0M154.4 1042.5h0M146.2 1038.3h0M127.3 993.7h0M175.6 1041.9h0M150.0 1031.2h0M180.2 1022.2h0M121.0 1026.8h0M185.4 1006.4h0M185.5 1019.1h0M107.6 1051.4h0M141.7 1007.9h0M132.8 1045.8h0M185.5 1022.7h0M158.8 1042.1h0M123.1 1036.0h0M143.9 1020.9h0M128.3 1031.1h0M146.0 1020.4h0M130.5 1048.9h0M152.3 1045.0h0M185.9 1040.0h0M222.2 1016.0h0M172.5 1024.6h0" stroke="#4f8fd2" stroke-opacity="0.9" stroke-width="1.9" stroke-linecap="round"/>
<path d="M120.3 1071.6h0M74.5 1050.2h0M106.0 1064.3h0M106.8 1057.4h0M103.5 1063.2h0M97.1 1066.2h0M70.9 1063.1h0M85.6 1065.7h0M95.3 1050.9h0M102.5 1050.7h0M87.0 1045.5h0M97.7 1062.0h0M110.3 1056.9h0M110.6 1058.1h0M96.9 1062.6h0M110.7 1055.3h0M95.1 1056.7h0M99.0 1050.8h0M110.3 1054.8h0M103.5 1051.4h0M102.3 1061.1h0M93.0 1074.2h0M102.5 1072.2h0M109.5 1052.7h0M93.4 1061.5h0M98.7 1058.4h0M94.6 1043.5h0M95.3 1040.3h0M102.5 1052.2h0M89.4 1056.2h0M101.3 1046.5h0M77.0 1049.5h0M73.5 1050.3h0M117.1 1049.5h0M105.8 1047.0h0M101.6 1055.4h0M97.3 1062.6h0M119.1 1059.6h0M99.5 1050.2h0M105.0 1056.0h0M108.0 1057.7h0M118.9 1042.1h0M94.4 1065.1h0M93.8 1051.7h0M94.8 1047.0h0M99.4 1077.5h0M111.7 1049.1h0M87.5 1054.8h0M110.1 1051.4h0M89.7 1065.1h0M108.4 1055.0h0M84.6 1045.6h0M89.6 1040.2h0M107.0 1053.0h0M103.8 1072.9h0M112.1 1048.8h0M108.4 1067.3h0M89.0 1050.4h0M96.7 1045.2h0M115.6 1038.8h0M84.7 1055.8h0M95.3 1059.3h0M101.3 1056.3h0M111.6 1040.9h0M98.0 1052.3h0M99.6 1059.8h0M87.1 1052.9h0M107.5 1060.8h0M89.8 1074.3h0M125.7 1046.3h0" stroke="#3aa93a" stroke-opacity="0.9" stroke-width="1.9" stroke-linecap="round"/>
<path d="M180.5 1059.8h0M164.7 1053.7h0M164.6 1053.6h0M179.9 1054.8h0M160.9 1048.4h0M167.2 1050.8h0M165.1 1066.3h0M173.9 1062.0h0M173.7 1058.5h0M166.0 1055.5h0M180.1 1049.3h0M189.5 1058.3h0M156.0 1054.1h0M157.2 1059.3h0M156.5 1067.1h0M155.5 1039.8h0M156.3 1041.9h0M167.4 1066.5h0M178.4 1047.3h0M155.8 1072.2h0M173.1 1058.0h0M184.9 1077.6h0M188.7 1059.1h0M173.7 1062.9h0M158.2 1049.5h0M168.8 1050.4h0M167.0 1058.8h0M205.5 1051.2h0M166.1 1056.7h0M175.0 1066.4h0M160.2 1051.4h0M141.7 1050.6h0M176.6 1058.4h0M151.8 1055.0h0M168.5 1062.0h0M158.5 1056.0h0M138.9 1048.8h0M193.9 1040.5h0M162.6 1059.8h0M162.0 1051.5h0M167.0 1058.0h0M166.7 1043.0h0M165.6 1051.2h0M159.2 1059.8h0M178.3 1065.2h0M160.1 1065.4h0M186.8 1067.1h0M190.2 1056.8h0M165.2 1064.6h0M146.1 1059.7h0M159.5 1055.0h0M140.1 1050.9h0M167.7 1065.1h0M183.8 1057.4h0M165.0 1051.4h0M174.4 1056.0h0M177.7 1072.0h0M167.5 1046.0h0M154.2 1046.3h0M148.8 1068.4h0M171.6 1045.8h0M178.5 1068.1h0M162.2 1052.6h0M162.6 1060.3h0M178.2 1067.5h0M187.4 1067.5h0M189.8 1063.3h0M143.5 1057.0h0M173.0 1054.9h0M182.6 1055.1h0M153.2 1069.6h0M178.7 1059.8h0M182.8 1066.5h0M173.5 1038.3h0M157.2 1054.3h0M152.3 1059.6h0M187.1 1054.1h0M149.8 1074.2h0M160.8 1048.1h0M171.8 1061.4h0M156.7 1064.3h0M160.2 1050.6h0M170.9 1064.2h0M157.9 1060.6h0M156.7 1069.1h0M167.2 1057.0h0M179.5 1065.2h0M188.3 1060.6h0M158.4 1053.7h0M176.2 1062.6h0M190.4 1061.3h0M185.0 1070.1h0M170.6 1046.1h0M149.1 1046.5h0M193.5 1051.2h0M187.7 1062.7h0M195.4 1066.0h0M166.4 1056.4h0M169.4 1059.4h0M159.5 1057.7h0M193.7 1044.4h0M172.1 1050.7h0M171.0 1064.7h0M167.1 1064.2h0M142.6 1066.9h0M158.3 1063.0h0M170.9 1037.3h0M155.9 1059.8h0" stroke="#e0484a" stroke-opacity="0.9" stroke-width="1.9" stroke-linecap="round"/>
<path d="M209.1 1040.2h0M159.8 1009.6h0M204.4 1067.5h0M151.1 1031.0h0M88.5 1050.9h0M198.0 1044.8h0M112.6 1059.1h0M103.1 1031.2h0M160.6 1050.9h0M165.8 1042.0h0M121.1 1011.8h0M152.3 1022.2h0M100.3 1012.2h0M131.4 1001.7h0M98.8 1005.6h0M156.9 1042.3h0M226.3 1008.0h0M124.2 1051.4h0M141.8 1029.1h0M214.9 1028.9h0M106.1 1011.3h0M162.8 1040.5h0M97.9 1017.3h0M170.3 1045.4h0M125.6 1046.2h0M171.7 1002.9h0M138.1 1042.5h0M128.2 996.5h0M139.2 1048.5h0M210.1 995.6h0M186.4 1057.2h0M187.4 1037.7h0M105.9 1046.3h0M122.8 989.6h0M219.1 1018.6h0M205.8 1063.6h0M209.1 1034.6h0M104.3 1031.8h0M66.3 1004.4h0M153.5 1017.2h0M143.8 1033.0h0M223.4 1058.4h0M148.3 1056.8h0M120.4 1028.9h0M184.6 1012.7h0M139.4 1011.2h0M154.5 1064.4h0M121.4 1039.1h0M115.9 1014.3h0M103.0 1061.2h0M122.8 1047.7h0M137.3 1049.4h0M161.1 1040.0h0M173.1 1024.6h0M134.6 1004.0h0M133.2 1009.4h0M144.5 1017.8h0M153.8 1043.2h0M96.0 1020.4h0M114.2 1048.4h0M214.8 1050.3h0M136.7 1061.4h0M92.5 1062.0h0M125.1 985.0h0M110.8 1038.0h0M141.8 1036.8h0M93.6 1022.7h0M167.8 1039.0h0M195.6 1036.4h0M159.9 1000.5h0M102.4 1058.9h0M114.2 1044.6h0M147.7 1016.2h0M136.8 1025.7h0M131.5 1048.6h0M174.8 1024.6h0M115.5 1040.1h0M146.2 1053.5h0M148.7 1031.9h0M117.4 1018.7h0M111.9 1027.9h0M133.8 1048.4h0M134.8 1031.4h0M103.7 1064.6h0M169.3 1067.2h0M180.3 1061.8h0M140.6 1047.9h0M194.7 1065.6h0M166.0 1048.8h0M198.6 1022.9h0M165.9 1019.0h0M123.7 1023.6h0M144.4 1037.7h0M167.6 1008.9h0M227.0 1056.3h0M178.3 1028.4h0M146.5 1045.1h0M166.0 1004.0h0M78.1 1053.4h0M164.4 1032.9h0M203.5 1013.2h0" stroke="#e77a7a" stroke-opacity="0.6" stroke-width="1.9" stroke-linecap="round"/>
<path d="M207.7 1020.5h0M206.2 1014.7h0M207.5 1014.6h0M213.4 1013.2h0M210.6 1012.1h0M209.8 1015.7h0M196.4 1016.0h0M202.6 1014.6h0M213.3 1012.6h0M202.6 1020.4h0M207.5 1020.8h0M208.3 1013.3h0M206.7 1019.8h0M210.9 1016.0h0M207.2 1015.7h0M204.6 1022.0h0M207.0 1012.5h0M205.0 1018.2h0M209.6 1015.6h0M204.3 1016.1h0M200.1 1012.0h0M210.3 1014.5h0" stroke="#3aa93a" stroke-opacity="0.9" stroke-width="2.0" stroke-linecap="round"/>
<path d="M156.2 1065.1h0M168.1 1040.4h0M124.7 1055.1h0M157.6 1022.4h0M143.2 1036.6h0M127.8 1031.0h0M69.0 1032.7h0M138.3 1042.1h0M91.0 1053.0h0M87.5 1035.4h0M196.3 1025.8h0M117.9 1062.1h0M123.4 1033.9h0M149.5 1061.6h0M96.5 1017.7h0M103.1 1022.8h0M153.0 1021.8h0M145.3 1048.2h0M108.6 1042.7h0M210.5 1046.6h0M112.6 1038.7h0M100.6 1045.5h0M177.1 1023.2h0M131.0 1062.7h0M118.6 1043.8h0M96.1 1023.3h0M122.8 1029.4h0M116.3 1036.7h0M167.5 1043.8h0M226.4 1044.3h0M200.8 1045.5h0M165.4 1011.1h0M134.7 1038.6h0M129.8 996.9h0M177.0 1032.3h0M121.6 1034.9h0M130.4 1048.1h0M86.6 1021.4h0M152.2 1042.9h0M124.2 1028.5h0M105.0 1038.8h0M189.6 1018.8h0M204.0 1056.9h0M121.0 1055.7h0M78.4 1005.4h0M85.8 1031.8h0M126.3 1029.7h0M144.2 997.3h0M160.8 1011.6h0M112.2 1031.7h0M91.4 1012.6h0M97.7 1039.8h0M164.8 1051.3h0M98.2 1024.2h0M101.3 1049.0h0M119.6 1024.3h0M154.3 1060.7h0M154.4 1061.1h0M145.6 1064.6h0M192.3 1038.0h0M200.4 1043.3h0M143.6 1021.6h0M127.9 1055.6h0M84.9 1053.0h0M154.6 1045.6h0M167.2 1024.7h0M143.8 992.4h0M168.2 1026.8h0M176.6 1003.1h0M169.1 1035.3h0M173.9 1021.5h0M105.1 1025.9h0M128.4 1019.5h0M190.0 1074.5h0M110.4 1005.5h0M189.2 1062.2h0M174.5 1063.1h0M103.6 1036.6h0M81.9 1011.6h0M181.2 1026.6h0M113.1 1056.0h0M215.7 1049.7h0" stroke="#62b062" stroke-opacity="0.7" stroke-width="1.9" stroke-linecap="round"/>
<path d="M86.3 1027.4h0M190.0 1010.1h0M104.1 1040.3h0M140.6 997.9h0M119.8 1004.9h0M146.9 1022.2h0M181.0 1034.2h0M72.5 1028.1h0M170.9 1029.1h0M176.2 1009.0h0M97.0 1038.6h0M92.4 976.8h0M176.0 1005.5h0M122.8 992.0h0M82.0 996.9h0M120.6 1027.4h0M87.7 998.7h0M162.1 1018.5h0M73.5 1056.9h0M100.6 1024.9h0M143.0 1048.2h0M116.8 1040.2h0M105.3 1042.4h0M104.5 1012.8h0M210.8 1026.3h0M139.4 1064.8h0M149.5 1003.7h0M164.4 996.4h0M180.1 1044.1h0M112.1 1007.4h0M142.1 1020.3h0M95.9 1031.4h0M118.8 1014.5h0M147.3 995.4h0M158.5 1016.4h0M109.0 992.7h0M87.7 1027.2h0M96.4 1021.3h0M177.5 1040.7h0M197.4 1014.1h0M91.6 1040.4h0M147.4 1042.5h0M135.4 1043.9h0M168.9 1034.3h0M155.1 1028.0h0M144.3 1024.5h0M174.6 1009.8h0M204.4 1017.9h0M174.4 1018.2h0M125.1 1060.6h0M122.6 994.5h0M106.4 1013.7h0M221.2 1024.1h0M172.4 1000.0h0M149.1 1033.4h0M207.1 1006.1h0M159.1 1026.1h0M94.1 1019.6h0M124.5 973.5h0M158.9 1030.8h0M117.4 993.2h0M194.2 1025.3h0M175.7 1048.2h0M114.2 1036.2h0M125.4 1018.7h0M131.6 1020.0h0M179.6 1022.5h0M128.9 1014.5h0M148.7 1002.1h0M114.9 1019.0h0M112.4 1017.6h0M110.6 1060.1h0M188.2 1029.0h0M132.9 1063.8h0M147.9 1018.3h0M147.1 1026.1h0M191.4 1019.6h0M219.0 1002.4h0" stroke="#9a7ad0" stroke-opacity="0.5" stroke-width="1.8" stroke-linecap="round"/>
<path d="M346.2 983.0h0M367.5 988.4h0M331.9 998.4h0M356.9 982.1h0M326.4 979.8h0M335.6 990.2h0M326.4 985.5h0M325.7 985.0h0M343.1 1003.1h0M296.3 990.1h0M325.1 994.9h0M314.9 989.8h0M313.2 996.6h0M334.9 989.7h0M340.0 989.0h0M303.5 995.8h0M338.5 989.8h0M351.7 1000.7h0M312.2 984.8h0M362.4 1002.4h0M319.0 981.6h0M320.9 987.0h0M302.9 991.2h0M308.7 981.3h0M350.4 985.5h0M331.6 996.0h0M348.5 988.3h0M333.8 984.4h0M366.2 996.2h0M312.0 991.0h0M346.6 994.8h0M367.8 1002.0h0M322.8 990.3h0M308.7 993.0h0M335.9 1012.6h0M334.9 974.3h0M320.2 991.9h0M309.1 984.1h0M326.1 993.7h0M329.9 983.9h0M348.0 986.7h0M323.5 980.0h0M318.1 996.2h0M302.3 990.4h0M346.6 988.0h0M337.6 982.1h0M357.9 999.8h0M337.5 977.0h0M313.1 998.8h0M365.5 993.4h0M356.7 986.1h0M329.4 991.0h0M341.0 978.8h0M350.9 1001.6h0M311.2 980.2h0M339.7 985.8h0M288.0 997.5h0M336.0 987.2h0M373.2 992.1h0M318.7 991.8h0M313.2 984.9h0M340.3 986.6h0M324.4 1004.4h0M349.3 997.4h0M343.0 994.9h0M360.7 990.8h0M368.3 983.4h0M328.2 980.0h0M326.5 995.1h0M360.6 985.7h0M333.1 988.1h0M319.0 981.5h0M334.2 977.1h0M335.1 991.2h0M320.5 982.9h0M306.7 1006.0h0M307.5 1003.5h0M344.4 988.1h0M311.0 999.3h0M365.9 983.5h0M327.3 999.4h0M339.4 1007.0h0M322.2 995.3h0M309.2 1007.8h0M319.1 973.3h0M330.6 989.9h0M369.4 988.3h0M332.8 995.7h0M363.1 990.5h0M352.8 995.1h0M327.4 991.6h0M333.5 983.7h0M356.1 979.9h0M355.3 998.6h0M331.2 984.9h0M328.7 994.8h0M347.1 993.3h0M351.9 986.5h0M337.5 978.5h0M347.5 992.2h0M325.1 1000.3h0M333.8 979.4h0M353.3 1010.9h0M323.1 991.6h0M328.2 993.8h0M345.2 1001.3h0M314.2 1003.6h0M315.3 993.2h0M355.0 996.7h0M315.2 985.4h0M324.2 990.6h0M354.8 980.7h0M341.9 995.9h0M343.6 994.7h0M361.8 994.9h0M349.3 995.5h0M367.1 975.8h0M357.4 988.9h0M327.7 983.2h0M297.5 987.9h0M319.9 995.0h0M305.0 1002.5h0M338.2 989.0h0M319.5 984.7h0M311.5 986.6h0M333.1 989.6h0M306.1 988.9h0M316.0 992.3h0M368.4 996.0h0M327.1 978.0h0M306.1 977.5h0M346.8 984.9h0M334.2 986.0h0M334.7 1002.2h0M320.0 988.3h0M317.7 998.0h0M313.5 981.9h0M306.6 979.7h0M341.9 1011.6h0M314.1 998.6h0M337.8 982.2h0M327.7 989.1h0M319.9 1006.4h0M296.8 994.0h0M339.3 986.4h0M335.8 998.0h0M335.9 994.3h0M346.2 974.7h0M361.1 1009.2h0M351.6 999.1h0M306.2 990.1h0M317.6 986.3h0M351.4 984.6h0M330.5 975.7h0M330.0 991.7h0M319.6 985.2h0M368.8 981.3h0M313.0 984.5h0M355.8 1007.8h0M339.3 985.3h0M324.9 999.5h0M315.7 1002.6h0M359.9 991.6h0M345.3 997.0h0M362.5 982.6h0M355.4 988.0h0M318.4 991.8h0M328.9 983.1h0M302.7 983.5h0M360.6 1006.7h0M345.4 1000.5h0M323.2 990.4h0M338.4 982.3h0M314.2 991.8h0M326.9 982.5h0M340.3 988.9h0M352.4 991.0h0M327.3 992.0h0M329.7 985.7h0M325.4 997.0h0M345.3 1001.3h0M300.8 987.9h0M325.1 992.4h0M324.4 986.9h0M347.9 992.4h0M310.8 1001.7h0M351.9 986.4h0M348.8 985.1h0M354.4 989.3h0M317.7 988.0h0M318.4 992.5h0M336.3 991.3h0M334.8 975.8h0M337.6 1000.0h0M338.2 987.9h0M329.6 989.9h0M322.6 986.3h0M315.4 1000.5h0M332.7 998.7h0M328.2 991.6h0M329.8 994.7h0M348.7 992.9h0M320.2 984.8h0M364.5 988.8h0M327.5 1002.7h0M353.7 995.3h0M325.4 1009.8h0M340.5 995.4h0M329.7 979.7h0M307.6 994.3h0M340.4 989.1h0M310.7 979.5h0M326.8 979.4h0M350.1 1000.2h0M386.8 998.0h0M321.7 984.0h0M267.4 986.2h0M329.6 998.7h0M344.6 995.7h0M337.1 996.3h0M360.5 982.5h0M324.3 979.9h0M363.8 1001.4h0M347.3 981.4h0M336.3 989.1h0M334.5 989.5h0M342.9 987.8h0M349.2 992.9h0" stroke="#e0464c" stroke-opacity="0.9" stroke-width="1.9" stroke-linecap="round"/>
<path d="M288.6 1028.7h0M285.3 1039.8h0M289.0 1033.5h0M286.4 1012.2h0M314.9 1017.3h0M309.9 1035.0h0M258.6 1018.7h0M283.7 1020.2h0M269.0 1038.9h0M289.7 1034.6h0M285.5 1033.7h0M278.5 1029.7h0M307.8 1030.5h0M284.9 1017.0h0M298.7 1034.1h0M289.3 1020.8h0M306.9 1059.8h0M288.3 1034.0h0M303.3 999.2h0M297.7 1021.5h0M325.5 1027.0h0M277.9 1027.4h0M298.7 1023.3h0M293.8 1013.8h0M290.0 1039.3h0M338.3 1038.5h0M301.0 1044.2h0M317.4 1050.0h0M318.8 1028.6h0M300.7 1032.1h0M301.6 1032.4h0M277.8 1004.8h0M280.2 1005.7h0M296.5 1030.1h0M258.1 1038.3h0M314.1 1031.2h0M331.7 1052.5h0M268.5 1042.4h0M304.7 1035.0h0M315.6 1021.4h0M282.0 1020.1h0M278.4 1028.8h0M263.1 1017.5h0M307.7 1029.1h0M303.4 1007.3h0M277.8 1023.3h0M295.7 1023.0h0M315.5 1029.3h0M295.4 1030.2h0M310.6 1024.3h0M319.7 1035.5h0M298.4 1030.5h0M306.4 1042.2h0M315.8 1034.5h0M314.3 1031.4h0M322.6 1029.7h0M249.3 1046.1h0M297.4 1015.9h0M290.6 1019.4h0M341.2 1036.0h0M260.5 1036.6h0M286.2 1053.0h0M271.8 1003.0h0M296.4 1025.8h0M285.8 1004.3h0M304.4 1050.1h0M253.0 1044.1h0M282.5 1058.2h0M304.6 1027.7h0M319.3 1036.3h0M282.0 1038.5h0M283.8 1008.5h0M339.7 1025.8h0M281.6 1034.1h0M260.7 1013.8h0M284.0 1023.8h0M296.6 1043.5h0M284.6 1035.9h0M308.2 1017.0h0M300.0 1018.7h0M318.4 1035.5h0M295.4 1013.9h0M297.6 1020.8h0M310.5 1028.6h0M277.1 1041.1h0M310.9 1022.9h0M320.6 1026.4h0M288.2 1031.5h0M278.4 1024.7h0M291.5 1048.4h0M328.0 1026.9h0M330.4 1029.5h0M303.4 1040.6h0M301.4 1059.0h0M300.4 1015.6h0M323.7 1025.1h0M288.3 994.1h0M317.0 1039.8h0M312.6 1041.7h0M332.2 1029.4h0M315.6 1021.1h0M287.2 1042.7h0M303.6 1014.0h0M302.9 1027.8h0M277.0 1035.2h0M286.1 1011.2h0M270.6 1051.2h0M261.7 1032.7h0M308.4 1037.7h0M268.0 1026.1h0M298.1 1039.6h0M280.8 1016.0h0M317.1 1043.3h0M303.1 1022.7h0M303.9 1031.3h0M313.4 1015.0h0M297.6 1028.1h0M270.6 1032.6h0M295.8 1025.1h0M303.7 1013.0h0M293.8 1035.2h0M301.2 1042.9h0M268.6 1011.9h0M300.3 1035.5h0M341.6 1037.4h0M275.8 1039.7h0M276.4 1012.2h0M352.4 1033.9h0M310.7 1036.8h0M334.9 1033.4h0M321.8 1017.7h0M264.4 1047.1h0M327.4 1036.1h0M300.0 1032.0h0M279.9 1048.5h0M309.5 1036.1h0M303.3 1042.6h0M306.1 1038.9h0M269.3 1036.1h0M343.1 1023.8h0M292.2 1040.7h0M316.1 1037.5h0M259.4 1036.0h0M269.0 1020.1h0M307.1 1026.5h0M312.8 1067.8h0M312.1 1038.7h0M275.3 1022.3h0M271.6 1023.6h0M271.0 1022.1h0M290.4 1018.0h0M263.8 1013.7h0M305.0 1030.7h0M317.6 1042.5h0M287.5 1038.0h0M263.3 1057.4h0M321.3 1027.4h0M269.4 1034.6h0M253.9 1020.6h0M311.5 1030.9h0M284.2 1041.4h0M272.2 1033.4h0M284.0 1019.8h0M305.2 1018.1h0M336.8 1023.0h0M338.8 1016.9h0M308.3 1015.6h0M265.5 1031.9h0M309.9 1014.7h0M321.1 1020.4h0M297.9 1034.6h0M308.1 1008.4h0M330.6 1036.7h0M285.6 1017.7h0M257.7 1013.7h0M307.0 1025.9h0M270.1 1023.7h0M329.4 1026.0h0M282.1 1046.2h0M305.2 1030.5h0M281.6 1011.4h0M269.2 1024.2h0M290.2 1034.3h0M307.1 1032.7h0M299.8 1017.9h0M247.6 1023.7h0M274.0 1022.2h0M289.0 1015.1h0M270.6 1028.8h0M297.5 1022.1h0M306.0 1027.4h0M272.6 1030.5h0M336.4 1021.9h0M320.7 1046.5h0M328.0 1020.1h0M339.3 1031.4h0M289.4 1027.2h0M308.2 1030.6h0M291.1 1045.4h0M279.1 1017.5h0M312.4 1038.4h0M319.1 1017.1h0M318.8 1035.8h0M333.8 1015.0h0M299.8 1026.7h0M260.0 1021.4h0M319.8 1024.4h0M279.1 1040.4h0M316.8 1041.8h0M277.6 1029.3h0M317.7 1022.1h0M278.5 1039.9h0M329.4 1016.2h0M272.7 1028.3h0M308.5 1028.2h0M279.6 1031.8h0M273.8 1029.4h0M280.9 1062.2h0M313.0 1020.0h0M273.1 1024.7h0M258.8 1021.2h0M278.8 1040.6h0M285.6 1020.5h0M265.5 1015.9h0M293.5 1027.4h0M320.0 1022.5h0M318.3 1033.1h0M294.9 1005.9h0M266.6 1038.9h0" stroke="#4a8ed0" stroke-opacity="0.9" stroke-width="1.9" stroke-linecap="round"/>
<path d="M398.8 1019.9h0M391.2 1014.3h0M377.5 1012.0h0M393.7 1021.1h0M379.2 1015.0h0M388.7 1020.9h0M372.0 1033.4h0M385.1 1018.1h0M399.7 1027.2h0M380.9 1022.8h0M369.2 1012.2h0M354.9 1029.0h0M359.2 1024.1h0M372.0 1009.2h0M379.7 1020.4h0M389.3 1033.9h0M386.3 1025.9h0M374.8 1024.4h0M383.8 1013.8h0M380.8 1017.4h0M384.3 1021.6h0M375.9 1011.3h0M391.0 1002.7h0M374.6 1032.0h0M349.5 1011.8h0M390.3 1003.1h0M413.2 994.7h0M399.2 1032.0h0M393.0 1016.0h0M386.3 1009.9h0M391.7 1007.9h0M378.7 1027.0h0M368.6 1014.7h0M384.0 1005.9h0M396.0 1021.1h0M363.8 1017.6h0M372.7 1012.1h0M382.9 1011.6h0M393.6 1011.7h0M393.8 1017.6h0M392.3 1013.1h0M375.9 1007.6h0M388.9 1026.4h0M407.4 1029.6h0M385.0 1016.1h0M386.7 1017.8h0M399.6 1026.5h0M372.0 1011.8h0M398.4 1020.8h0M379.2 1028.7h0M377.3 1015.5h0M376.5 1000.3h0M392.4 1007.1h0M375.2 1011.3h0M390.7 1017.4h0M382.2 1002.9h0M381.0 1004.7h0M385.7 1021.3h0M381.8 1036.4h0M388.3 1023.4h0M383.7 1016.3h0M393.6 1027.9h0M366.4 1027.5h0M388.2 1026.6h0M387.6 1006.8h0M367.9 1034.4h0M385.0 1005.2h0M386.2 1014.7h0M359.9 997.4h0M362.8 1020.4h0M381.4 1015.8h0M385.4 1023.4h0M356.8 1015.3h0M372.1 1006.9h0M375.4 1016.9h0M378.8 1004.9h0M376.2 1036.1h0M369.3 1002.8h0M385.3 1023.4h0M387.6 1007.9h0M394.0 1010.9h0M368.4 1012.5h0M380.7 1024.4h0M389.5 1017.8h0M393.2 1018.7h0M392.8 1005.4h0M363.1 1025.0h0M365.3 1015.3h0M380.8 1013.6h0M376.6 1030.5h0M351.6 1026.0h0M409.5 1018.2h0M381.8 1024.5h0M403.9 1007.3h0M383.1 1016.3h0M388.7 1019.4h0M389.9 1014.2h0M382.6 1012.0h0M374.0 1016.7h0M380.3 1007.4h0M400.8 1016.8h0M365.4 1027.9h0M373.0 1022.6h0M381.8 1020.3h0M384.1 1012.8h0M382.5 1036.3h0M355.1 1018.6h0M387.2 1008.5h0M365.6 1037.4h0M377.5 1036.7h0M388.4 1018.7h0M387.7 1023.7h0M396.2 1021.9h0M383.7 1019.6h0M398.2 1025.4h0M370.0 1012.3h0M386.0 1012.4h0M377.5 1009.4h0M378.9 1021.8h0M393.9 1018.1h0M406.9 1017.3h0M388.0 1013.5h0M348.1 1016.6h0M384.1 1035.3h0M365.4 1035.2h0M379.0 1024.5h0M351.5 1019.3h0M377.9 1024.1h0M383.1 1007.7h0M393.4 1024.3h0M389.2 1027.1h0M395.2 1017.8h0M365.7 1005.5h0M398.2 1024.4h0M383.2 1014.1h0M382.4 1018.2h0M378.0 1011.7h0M408.0 1020.1h0M374.7 1006.3h0M373.3 1024.5h0M391.1 1016.0h0M382.6 1015.3h0M368.7 1029.7h0M386.5 1040.3h0M372.9 1016.8h0M392.6 1015.8h0M365.3 1009.5h0M383.2 1021.1h0M380.9 1027.0h0M393.9 1020.9h0M382.3 1015.7h0M388.6 1026.3h0M382.7 1022.0h0M378.1 1005.3h0M370.0 1024.9h0M387.4 1032.3h0M382.7 1025.8h0M397.9 1027.0h0M374.7 1016.3h0M383.6 1009.1h0M387.7 1027.2h0M376.2 1035.8h0M378.5 1016.2h0M379.1 1011.6h0M387.0 1018.2h0M401.9 1023.5h0M388.5 1016.0h0M365.0 1017.2h0M371.8 1026.6h0M381.6 1033.0h0M390.8 1025.5h0M384.8 1019.9h0M389.8 1026.3h0M373.5 1022.4h0M413.5 1017.2h0M378.9 1011.8h0M364.6 1028.7h0M382.7 1020.7h0M404.1 1040.6h0M371.3 1027.5h0M389.5 1021.6h0M387.8 1017.8h0M401.1 1023.5h0M386.2 1029.2h0M392.8 1022.2h0M386.0 1033.8h0M388.1 1017.2h0M371.7 1014.9h0M369.4 1019.0h0M385.1 999.6h0M382.3 1023.9h0M384.0 1009.4h0M397.3 1011.8h0M367.3 1008.3h0M381.9 1026.9h0M396.0 1019.9h0M367.7 1012.1h0M371.3 1016.4h0M360.7 1019.0h0M389.8 1016.7h0M387.5 1009.6h0M364.6 1012.3h0M395.9 1027.3h0M376.5 1028.8h0M378.1 1031.6h0M387.8 1013.9h0M391.6 1011.0h0M370.8 1004.9h0M385.1 1017.5h0M381.1 1014.3h0M399.3 1014.2h0M373.3 1029.2h0M399.1 1021.0h0M361.1 1012.6h0M389.4 1018.2h0M400.6 1005.7h0M390.1 1012.4h0M397.9 1017.3h0M394.4 1012.2h0M365.1 1008.0h0M374.7 1008.8h0M396.4 1030.1h0M385.3 1008.7h0M380.6 1011.8h0M399.4 1020.8h0M387.9 1014.4h0M357.9 1011.1h0M368.6 1021.3h0M383.2 1010.8h0M377.3 1032.1h0M370.5 1009.7h0M379.3 1011.7h0M376.9 1022.8h0M402.8 1002.0h0M381.8 1018.4h0M381.0 1016.3h0M377.9 1027.0h0M376.4 1016.9h0M382.0 1019.0h0M379.9 1027.0h0M381.9 1019.6h0M381.4 1009.0h0M372.0 1008.5h0M384.3 1011.6h0M369.3 1020.1h0M388.3 1002.2h0M402.3 1018.3h0M380.7 1027.6h0M382.8 1012.6h0M408.3 1008.3h0M380.8 1025.6h0M369.2 1017.1h0M386.6 1039.6h0M371.3 1017.6h0M389.9 1018.7h0M367.6 1021.7h0M383.3 1022.0h0M395.6 1027.1h0M386.9 1020.8h0" stroke="#3aab3a" stroke-opacity="0.9" stroke-width="1.9" stroke-linecap="round"/>
<path d="M329.3 1025.5h0M338.5 1024.4h0M337.7 1022.7h0M347.7 1034.6h0M334.3 1027.6h0M335.4 1031.1h0M340.0 1026.3h0M335.4 1026.5h0M330.0 1028.7h0M332.0 1028.1h0M337.9 1030.4h0M336.9 1030.1h0M330.5 1028.4h0M335.4 1026.8h0M337.5 1029.7h0M322.9 1027.3h0M326.5 1030.8h0M323.2 1022.0h0M325.3 1032.6h0M328.0 1026.5h0M333.2 1018.8h0M334.6 1028.7h0M335.7 1029.8h0M334.5 1026.0h0M334.3 1027.4h0M350.3 1027.4h0M338.4 1023.5h0M331.7 1031.9h0M329.2 1022.3h0M336.3 1024.3h0M350.7 1016.5h0M339.5 1028.9h0M329.2 1023.4h0M340.0 1032.5h0M330.6 1019.7h0M343.8 1032.1h0M334.7 1017.1h0M347.2 1025.2h0M344.9 1025.8h0M334.4 1024.2h0M347.3 1031.7h0M322.0 1022.3h0M349.4 1024.5h0M327.5 1026.0h0M336.2 1025.6h0M333.6 1024.8h0M333.8 1027.3h0M331.3 1024.8h0M336.0 1031.2h0M339.6 1025.6h0" stroke="#6a40b0" stroke-opacity="0.9" stroke-width="2.2" stroke-linecap="round"/>
<path d="M367.6 1023.8h0M369.3 1024.0h0M371.4 1025.7h0M365.9 1022.2h0M368.6 1024.0h0M365.7 1020.0h0M360.5 1023.7h0M368.3 1024.6h0M362.1 1025.1h0M364.4 1023.8h0M367.3 1021.4h0M364.2 1018.9h0M363.2 1019.4h0M367.3 1023.1h0M368.7 1023.7h0" stroke="#f08a1a" stroke-opacity="0.9" stroke-width="2.4" stroke-linecap="round"/>
<path d="M317.7 1058.5h0M325.5 1061.1h0M348.1 1045.1h0M338.1 1055.6h0M328.2 1063.9h0M392.8 1051.3h0M326.8 1032.5h0M333.9 1050.6h0M268.8 1057.9h0M356.9 1047.7h0M326.1 1045.3h0M362.4 1039.8h0M328.0 1074.5h0M339.7 1059.7h0M333.3 1043.3h0M337.0 1059.1h0M305.3 1058.4h0M377.8 1065.7h0M287.4 1045.2h0M286.4 1065.7h0M357.5 1062.0h0M309.9 1043.3h0M340.5 1056.0h0M310.7 1056.4h0M358.6 1057.3h0M304.7 1033.9h0M329.7 1056.6h0M329.7 1050.7h0M315.9 1062.2h0M336.3 1056.2h0M306.9 1048.8h0M343.2 1044.9h0M297.7 1051.7h0M376.4 1056.9h0M384.7 1053.7h0M328.1 1041.1h0M319.6 1069.4h0M348.5 1062.3h0M360.6 1054.9h0M331.4 1056.2h0M359.5 1059.6h0M353.7 1056.5h0M313.4 1052.4h0M307.9 1065.0h0M270.7 1052.8h0M414.4 1051.6h0M301.7 1054.8h0M379.3 1053.4h0M357.6 1056.0h0M340.3 1049.6h0M322.3 1058.8h0M351.1 1062.7h0M342.5 1040.7h0M355.0 1051.9h0M328.8 1040.2h0M319.6 1047.7h0M336.8 1040.5h0M339.6 1056.2h0M302.2 1048.8h0M310.6 1064.1h0M257.1 1051.6h0M284.9 1050.7h0M365.1 1048.7h0M342.4 1046.6h0M400.1 1064.1h0M374.1 1041.7h0M302.8 1065.8h0M331.8 1052.4h0M348.7 1042.4h0M362.7 1055.2h0M353.3 1048.3h0M354.4 1048.0h0M368.5 1066.3h0M367.2 1060.2h0M358.3 1027.9h0M364.7 1052.3h0M341.0 1052.2h0M293.5 1049.6h0M359.1 1069.2h0M318.1 1046.0h0M384.5 1046.2h0M404.4 1055.5h0M309.7 1064.8h0M392.2 1040.7h0M387.9 1052.2h0M385.6 1051.2h0M287.5 1060.0h0M367.7 1076.0h0M393.2 1062.0h0M330.4 1049.8h0M328.6 1046.7h0M329.2 1029.6h0M343.7 1054.7h0M322.6 1060.6h0M298.8 1049.0h0M278.2 1069.4h0M357.0 1043.2h0M336.1 1064.5h0M353.8 1058.8h0M310.5 1048.6h0M341.0 1064.2h0M311.5 1043.8h0M374.6 1045.7h0M372.5 1057.4h0M366.2 1072.4h0M360.0 1062.8h0M308.6 1048.0h0M358.6 1070.3h0M347.9 1057.0h0M370.2 1055.2h0M336.0 1044.5h0M369.7 1044.3h0M354.4 1040.8h0M373.1 1044.7h0M365.0 1039.1h0M323.9 1066.8h0M312.2 1055.7h0M322.7 1031.9h0M347.9 1059.3h0M302.6 1060.7h0M312.5 1045.0h0M338.2 1048.2h0M411.4 1039.5h0M361.6 1064.9h0M274.7 1037.7h0M356.0 1050.2h0M350.3 1066.4h0M326.1 1044.4h0M250.7 1057.0h0M308.3 1058.1h0M345.4 1041.2h0M393.2 1065.8h0M365.1 1043.2h0M325.0 1049.5h0M324.7 1043.8h0M351.9 1057.3h0M349.7 1049.9h0M379.3 1056.9h0M250.4 1048.6h0M336.2 1064.7h0M328.4 1052.5h0M316.8 1061.7h0M323.7 1049.0h0M314.3 1060.6h0M320.9 1038.2h0M357.9 1048.0h0M349.4 1058.7h0M376.5 1065.4h0M319.6 1053.3h0M296.7 1071.8h0M352.1 1068.9h0M327.8 1034.5h0M387.0 1055.9h0M342.3 1055.6h0M358.6 1060.3h0M287.1 1065.9h0M321.1 1050.3h0M393.3 1064.2h0M327.2 1036.4h0M343.2 1060.4h0M335.4 1042.5h0M312.7 1042.4h0M344.9 1063.2h0M370.8 1047.7h0M345.5 1060.5h0M321.6 1053.5h0M406.0 1057.1h0M366.3 1050.7h0M339.3 1037.9h0M337.2 1066.9h0M405.2 1067.0h0M360.0 1055.5h0M318.8 1053.4h0M357.6 1047.1h0M367.9 1045.2h0M281.1 1044.9h0M284.7 1041.3h0" stroke="#f4c492" stroke-opacity="0.9" stroke-width="1.9" stroke-linecap="round"/>
<path d="M379.1 1036.0h0M371.7 1042.8h0M380.1 1034.5h0M380.6 1038.9h0M370.0 1039.2h0M358.6 1033.1h0M369.1 1040.0h0M367.0 1036.4h0M377.8 1044.1h0M376.1 1043.3h0M366.8 1035.5h0M372.5 1035.5h0M365.9 1045.3h0M368.4 1032.2h0M373.9 1046.2h0M370.6 1043.2h0M366.5 1034.5h0M364.5 1036.3h0M384.7 1031.2h0M383.1 1032.0h0M368.1 1041.2h0M375.0 1038.4h0M356.8 1038.8h0M361.8 1049.8h0M368.3 1037.9h0M360.8 1034.6h0M359.7 1041.9h0M367.9 1039.8h0M364.5 1034.5h0M380.3 1032.1h0M355.6 1039.0h0M360.9 1034.8h0M377.3 1032.9h0M377.0 1033.6h0M381.9 1043.6h0" stroke="#f29090" stroke-opacity="0.9" stroke-width="1.9" stroke-linecap="round"/>
<path d="M308.8 1031.2h0M292.6 1038.6h0M381.7 1009.0h0M371.3 1011.2h0M291.3 1002.8h0M341.0 1022.8h0M378.0 997.1h0M331.2 1074.7h0M312.8 1035.3h0M360.3 1020.4h0M331.0 1052.3h0M338.7 1041.7h0M314.3 1040.7h0M332.5 1061.2h0M362.6 1030.6h0M364.0 1018.5h0M371.7 1015.8h0M309.3 1039.0h0M385.1 1034.7h0M325.5 1025.1h0M403.4 1054.2h0M325.7 1009.9h0M294.4 1045.4h0M297.5 1051.1h0M346.3 1040.3h0M359.4 1044.0h0M291.5 1029.1h0M308.6 1054.2h0M322.8 1020.4h0M270.5 1044.6h0M375.9 1060.2h0M332.4 1053.8h0M283.5 1038.0h0M299.5 1038.1h0M363.8 1054.3h0M285.5 1057.8h0M308.7 1016.5h0M322.3 1008.7h0M330.2 1040.2h0M321.0 1044.7h0M315.8 1035.1h0M265.2 1035.8h0M291.7 1026.9h0M325.8 1038.4h0M255.9 1006.9h0M316.4 1043.5h0M346.2 1051.1h0M388.5 1043.9h0M329.1 1016.4h0M287.4 1026.6h0M342.0 1039.0h0M330.2 1032.3h0M358.4 1038.7h0M343.4 1040.6h0M305.4 1016.4h0M352.1 1042.5h0" stroke="#7aa0d8" stroke-opacity="0.6" stroke-width="1.8" stroke-linecap="round"/>
<text x="189.3" y="987.2" font-family='"Liberation Serif", serif' font-size="15" font-weight="normal" fill="#111" textLength="36.5" lengthAdjust="spacingAndGlyphs" >PCA</text>
<text x="365.0" y="988.0" font-family='"Liberation Serif", serif' font-size="15" font-weight="normal" fill="#111" textLength="47.7" lengthAdjust="spacingAndGlyphs" >t-SNE</text>
<rect x="37.9" y="1070.7" width="329.4" height="43.3" fill="#e9c3a6" stroke="#dca688" stroke-width="1.8"/>
<text x="50.0" y="1097.8" font-family='"Liberation Serif", serif' font-size="24" font-weight="normal" fill="#111" textLength="307.6" lengthAdjust="spacingAndGlyphs" >Representation&#160;visualization</text>
<text x="479.6" y="1016.3" font-family='"Liberation Serif", serif' font-size="24" font-weight="normal" fill="#111" textLength="74.0" lengthAdjust="spacingAndGlyphs" >Global</text>
<text x="439.3" y="1038.8" font-family='"Liberation Serif", serif' font-size="24" font-weight="normal" fill="#111" textLength="158.4" lengthAdjust="spacingAndGlyphs" >representation</text>
<rect x="602.6" y="959.2" width="392.4" height="137.3" fill="#f6e2d6" stroke="#e9b594" stroke-width="1.8"/>
<line x1="603.5" y1="959" x2="603.5" y2="1096" stroke="#d8a488" stroke-width="1.4" stroke-dasharray="3,3"/>
<rect x="614.8" y="993.7" width="150.9" height="67.4" fill="#737b87" filter="url(#blur1)"/>
<rect x="611.8" y="990.7" width="150.9" height="67.4" fill="#84a8de"/>
<text x="622.6" y="1032.7" font-family='"Liberation Serif", serif' font-size="24.5" font-weight="normal" fill="#111" textLength="127.8" lengthAdjust="spacingAndGlyphs" >Task&#160;model</text>
<line x1="767.5" y1="1005.9" x2="824.2" y2="995.1" stroke="#000" stroke-width="2.2"/>
<path d="M833.6,993.3 L822.7,1000.5 L824.2,995.1 L820.9,990.6 Z" fill="#000"/>
<line x1="767.5" y1="1024.8" x2="824.0" y2="1024.8" stroke="#000" stroke-width="2.2"/>
<path d="M833.6,1024.8 L821.6,1029.8 L824.0,1024.8 L821.6,1019.8 Z" fill="#000"/>
<line x1="767.5" y1="1042.4" x2="824.1" y2="1052.1" stroke="#000" stroke-width="2.2"/>
<path d="M833.6,1053.7 L820.9,1056.6 L824.1,1052.1 L822.6,1046.7 Z" fill="#000"/>
<text x="838.4" y="1002.5" font-family='"Liberation Serif", serif' font-size="24.5" font-weight="normal" fill="#111" textLength="95.2" lengthAdjust="spacingAndGlyphs" >Stability</text>
<text x="838.4" y="1032.7" font-family='"Liberation Serif", serif' font-size="24.5" font-weight="normal" fill="#111" textLength="142.4" lengthAdjust="spacingAndGlyphs" >Flourescence</text>
<text x="838.4" y="1062.9" font-family='"Liberation Serif", serif' font-size="24.5" font-weight="normal" fill="#111" textLength="112.8" lengthAdjust="spacingAndGlyphs" >Homology</text>
<rect x="827.8" y="1070.2" width="179.5" height="44.6" fill="#e9c3a6" stroke="#dca688" stroke-width="1.8"/>
<text x="840.5" y="1098.3" font-family='"Liberation Serif", serif' font-size="24.5" font-weight="normal" fill="#111" textLength="149.3" lengthAdjust="spacingAndGlyphs" >Task&#160;training</text>
<line x1="475.0" y1="982.9" x2="426.8" y2="1014.7" stroke="#000" stroke-width="2.2"/>
<path d="M418.8,1020.0 L426.0,1009.2 L426.8,1014.7 L431.5,1017.6 Z" fill="#000"/>
<line x1="557.5" y1="982.9" x2="606.6" y2="1014.8" stroke="#000" stroke-width="2.2"/>
<path d="M614.7,1020.0 L601.9,1017.7 L606.6,1014.8 L607.4,1009.3 Z" fill="#000"/>
<defs><linearGradient id="surf" x1="0" y1="0" x2="0" y2="1"><stop offset="0" stop-color="#e88888"/><stop offset="0.18" stop-color="#ea9c9c"/><stop offset="0.27" stop-color="#ecc8cc"/><stop offset="0.33" stop-color="#ececf1"/><stop offset="0.6" stop-color="#eaeaf0"/><stop offset="0.64" stop-color="#b4b6e2"/><stop offset="0.7" stop-color="#9498d8"/><stop offset="0.79" stop-color="#a6a8de"/><stop offset="0.84" stop-color="#e8d4da"/><stop offset="0.92" stop-color="#eaa0a0"/><stop offset="1" stop-color="#ea9090"/></linearGradient><clipPath id="pclip"><path d="M1160.0,628.0 C1166.2,623.7 1176.4,623.2 1183.0,622.0 C1189.6,620.8 1191.8,620.7 1199.6,621.0 C1207.4,621.3 1220.4,624.3 1230.0,624.0 C1239.6,623.7 1249.1,620.8 1257.4,619.0 C1265.7,617.2 1272.4,614.7 1280.0,613.0 C1287.6,611.3 1293.6,608.9 1302.8,608.6 C1312.0,608.3 1324.0,610.1 1335.0,611.0 C1346.0,611.9 1358.0,612.8 1368.8,613.8 C1379.6,614.8 1389.8,615.3 1400.0,617.0 C1410.2,618.7 1421.3,620.2 1430.0,624.0 C1438.7,627.8 1446.5,632.7 1452.0,640.0 C1457.5,647.3 1461.0,657.8 1463.0,668.0 C1465.0,678.2 1465.3,690.3 1464.0,701.4 C1462.7,712.5 1457.7,722.0 1455.0,734.4 C1452.3,746.8 1450.0,761.2 1448.0,775.6 C1446.0,790.0 1443.2,803.8 1443.0,821.0 C1442.8,838.2 1443.5,865.0 1447.0,878.8 C1450.5,892.5 1461.4,891.8 1463.7,903.5 C1466.0,915.2 1463.5,935.2 1461.0,949.0 C1458.5,962.8 1452.5,974.3 1449.0,986.0 C1445.5,997.7 1447.3,1010.0 1440.0,1019.0 C1432.7,1028.0 1416.7,1037.0 1405.0,1040.0 C1393.3,1043.0 1380.2,1037.8 1370.0,1037.0 C1359.8,1036.2 1353.8,1034.7 1344.0,1035.5 C1334.2,1036.3 1321.7,1041.1 1311.0,1041.7 C1300.3,1042.3 1289.6,1039.8 1280.0,1039.0 C1270.4,1038.2 1266.0,1038.7 1253.3,1037.0 C1240.6,1035.3 1216.3,1034.2 1203.8,1029.0 C1191.2,1023.8 1186.6,1014.8 1178.0,1006.0 C1169.4,997.2 1157.9,986.2 1152.2,976.0 C1146.5,965.8 1144.4,956.9 1144.0,944.8 C1143.6,932.7 1148.0,918.0 1150.0,903.5 C1152.0,889.0 1155.9,874.5 1156.3,858.0 C1156.7,841.5 1153.2,821.7 1152.2,804.5 C1151.2,787.3 1151.0,769.4 1150.0,755.0 C1149.0,740.6 1147.2,730.3 1146.0,717.9 C1144.8,705.5 1143.0,692.4 1143.0,680.8 C1143.0,669.1 1143.2,656.8 1146.0,648.0 C1148.8,639.2 1153.8,632.3 1160.0,628.0 Z"/></clipPath></defs>
<path d="M1160.0,628.0 C1166.2,623.7 1176.4,623.2 1183.0,622.0 C1189.6,620.8 1191.8,620.7 1199.6,621.0 C1207.4,621.3 1220.4,624.3 1230.0,624.0 C1239.6,623.7 1249.1,620.8 1257.4,619.0 C1265.7,617.2 1272.4,614.7 1280.0,613.0 C1287.6,611.3 1293.6,608.9 1302.8,608.6 C1312.0,608.3 1324.0,610.1 1335.0,611.0 C1346.0,611.9 1358.0,612.8 1368.8,613.8 C1379.6,614.8 1389.8,615.3 1400.0,617.0 C1410.2,618.7 1421.3,620.2 1430.0,624.0 C1438.7,627.8 1446.5,632.7 1452.0,640.0 C1457.5,647.3 1461.0,657.8 1463.0,668.0 C1465.0,678.2 1465.3,690.3 1464.0,701.4 C1462.7,712.5 1457.7,722.0 1455.0,734.4 C1452.3,746.8 1450.0,761.2 1448.0,775.6 C1446.0,790.0 1443.2,803.8 1443.0,821.0 C1442.8,838.2 1443.5,865.0 1447.0,878.8 C1450.5,892.5 1461.4,891.8 1463.7,903.5 C1466.0,915.2 1463.5,935.2 1461.0,949.0 C1458.5,962.8 1452.5,974.3 1449.0,986.0 C1445.5,997.7 1447.3,1010.0 1440.0,1019.0 C1432.7,1028.0 1416.7,1037.0 1405.0,1040.0 C1393.3,1043.0 1380.2,1037.8 1370.0,1037.0 C1359.8,1036.2 1353.8,1034.7 1344.0,1035.5 C1334.2,1036.3 1321.7,1041.1 1311.0,1041.7 C1300.3,1042.3 1289.6,1039.8 1280.0,1039.0 C1270.4,1038.2 1266.0,1038.7 1253.3,1037.0 C1240.6,1035.3 1216.3,1034.2 1203.8,1029.0 C1191.2,1023.8 1186.6,1014.8 1178.0,1006.0 C1169.4,997.2 1157.9,986.2 1152.2,976.0 C1146.5,965.8 1144.4,956.9 1144.0,944.8 C1143.6,932.7 1148.0,918.0 1150.0,903.5 C1152.0,889.0 1155.9,874.5 1156.3,858.0 C1156.7,841.5 1153.2,821.7 1152.2,804.5 C1151.2,787.3 1151.0,769.4 1150.0,755.0 C1149.0,740.6 1147.2,730.3 1146.0,717.9 C1144.8,705.5 1143.0,692.4 1143.0,680.8 C1143.0,669.1 1143.2,656.8 1146.0,648.0 C1148.8,639.2 1153.8,632.3 1160.0,628.0 Z" fill="url(#surf)"/>
<g clip-path="url(#pclip)"><g filter="url(#blur6)">
<ellipse cx="1200" cy="655" rx="28" ry="22" fill="#e46a6a" fill-opacity="0.55"/>
<ellipse cx="1385" cy="660" rx="35" ry="28" fill="#e45a5a" fill-opacity="0.55"/>
<ellipse cx="1300" cy="640" rx="22" ry="18" fill="#f8dada" fill-opacity="0.7"/>
<ellipse cx="1430" cy="700" rx="22" ry="30" fill="#e87070" fill-opacity="0.5"/>
<ellipse cx="1262" cy="700" rx="18" ry="16" fill="#e46a6a" fill-opacity="0.5"/>
<ellipse cx="1172" cy="745" rx="20" ry="22" fill="#a4a6de" fill-opacity="0.7"/>
<ellipse cx="1322" cy="715" rx="14" ry="14" fill="#e46060" fill-opacity="0.5"/>
<ellipse cx="1160" cy="690" rx="14" ry="18" fill="#f6e0e0" fill-opacity="0.6"/>
<ellipse cx="1165" cy="905" rx="22" ry="22" fill="#5a60c8" fill-opacity="0.75"/>
<ellipse cx="1448" cy="910" rx="18" ry="22" fill="#5a60c8" fill-opacity="0.75"/>
<ellipse cx="1300" cy="915" rx="35" ry="18" fill="#8488d2" fill-opacity="0.4"/>
<ellipse cx="1215" cy="930" rx="20" ry="25" fill="#6a6ec8" fill-opacity="0.5"/>
<ellipse cx="1245" cy="1000" rx="35" ry="28" fill="#e46a6a" fill-opacity="0.6"/>
<ellipse cx="1385" cy="995" rx="32" ry="26" fill="#e47070" fill-opacity="0.55"/>
<ellipse cx="1312" cy="1008" rx="14" ry="30" fill="#f4eef0" fill-opacity="0.7"/>
<ellipse cx="1440" cy="1000" rx="14" ry="25" fill="#f0e8ec" fill-opacity="0.6"/>
<ellipse cx="1168" cy="978" rx="14" ry="22" fill="#9a9ed8" fill-opacity="0.6"/>
<ellipse cx="1300" cy="965" rx="20" ry="12" fill="#e8e0ea" fill-opacity="0.5"/>
<ellipse cx="1300" cy="800" rx="40" ry="40" fill="#f6f6f8" fill-opacity="0.5"/>
<ellipse cx="1200" cy="820" rx="22" ry="35" fill="#f8f8fa" fill-opacity="0.5"/>
<ellipse cx="1420" cy="800" rx="18" ry="40" fill="#f4f4f6" fill-opacity="0.5"/>
<ellipse cx="1365" cy="955" rx="22" ry="16" fill="#7478cc" fill-opacity="0.5"/>
<ellipse cx="1430" cy="760" rx="14" ry="14" fill="#dcdcf0" fill-opacity="0.6"/>
<ellipse cx="1168" cy="965" rx="14" ry="18" fill="#7074c8" fill-opacity="0.5"/>
<ellipse cx="1160" cy="800" rx="10" ry="50" fill="#c8c8d0" fill-opacity="0.6"/>
<ellipse cx="1440" cy="820" rx="10" ry="50" fill="#c8c8d0" fill-opacity="0.6"/>
<ellipse cx="1250" cy="760" rx="12" ry="20" fill="#f8f8f8" fill-opacity="0.5"/>
<ellipse cx="1330" cy="850" rx="14" ry="20" fill="#f8f8f8" fill-opacity="0.5"/>
</g>
<g filter="url(#blur3)">
<circle cx="1190" cy="827" r="9" fill="#ffffff" fill-opacity="0.45"/>
<circle cx="1196" cy="1009" r="5" fill="#ffffff" fill-opacity="0.45"/>
<circle cx="1444" cy="879" r="7" fill="#8a8a9a" fill-opacity="0.18"/>
<circle cx="1355" cy="732" r="6" fill="#8a8a9a" fill-opacity="0.18"/>
<circle cx="1358" cy="833" r="10" fill="#8a8a9a" fill-opacity="0.18"/>
<circle cx="1454" cy="702" r="8" fill="#ffffff" fill-opacity="0.45"/>
<circle cx="1260" cy="866" r="6" fill="#8a8a9a" fill-opacity="0.18"/>
<circle cx="1419" cy="670" r="8" fill="#ffffff" fill-opacity="0.45"/>
<circle cx="1176" cy="996" r="8" fill="#ffffff" fill-opacity="0.45"/>
<circle cx="1359" cy="701" r="10" fill="#ffffff" fill-opacity="0.45"/>
<circle cx="1160" cy="700" r="7" fill="#ffffff" fill-opacity="0.45"/>
<circle cx="1431" cy="911" r="7" fill="#ffffff" fill-opacity="0.45"/>
<circle cx="1200" cy="1038" r="8" fill="#8a8a9a" fill-opacity="0.18"/>
<circle cx="1167" cy="629" r="10" fill="#8a8a9a" fill-opacity="0.18"/>
<circle cx="1246" cy="750" r="6" fill="#ffffff" fill-opacity="0.45"/>
<circle cx="1158" cy="972" r="8" fill="#ffffff" fill-opacity="0.45"/>
<circle cx="1379" cy="698" r="5" fill="#8a8a9a" fill-opacity="0.18"/>
<circle cx="1428" cy="626" r="10" fill="#ffffff" fill-opacity="0.45"/>
<circle cx="1179" cy="623" r="7" fill="#8a8a9a" fill-opacity="0.18"/>
<circle cx="1303" cy="977" r="6" fill="#ffffff" fill-opacity="0.45"/>
<circle cx="1230" cy="1031" r="11" fill="#ffffff" fill-opacity="0.45"/>
<circle cx="1285" cy="749" r="9" fill="#ffffff" fill-opacity="0.45"/>
<circle cx="1171" cy="787" r="6" fill="#8a8a9a" fill-opacity="0.18"/>
<circle cx="1380" cy="847" r="9" fill="#8a8a9a" fill-opacity="0.18"/>
<circle cx="1392" cy="1009" r="6" fill="#8a8a9a" fill-opacity="0.18"/>
<circle cx="1195" cy="803" r="10" fill="#8a8a9a" fill-opacity="0.18"/>
<circle cx="1385" cy="630" r="7" fill="#ffffff" fill-opacity="0.45"/>
<circle cx="1460" cy="676" r="6" fill="#ffffff" fill-opacity="0.45"/>
<circle cx="1169" cy="985" r="9" fill="#ffffff" fill-opacity="0.45"/>
<circle cx="1304" cy="648" r="9" fill="#ffffff" fill-opacity="0.45"/>
<circle cx="1162" cy="664" r="8" fill="#8a8a9a" fill-opacity="0.18"/>
<circle cx="1251" cy="888" r="7" fill="#ffffff" fill-opacity="0.45"/>
<circle cx="1248" cy="783" r="10" fill="#ffffff" fill-opacity="0.45"/>
<circle cx="1177" cy="854" r="11" fill="#8a8a9a" fill-opacity="0.18"/>
<circle cx="1367" cy="643" r="10" fill="#8a8a9a" fill-opacity="0.18"/>
<circle cx="1195" cy="813" r="5" fill="#8a8a9a" fill-opacity="0.18"/>
<circle cx="1373" cy="957" r="10" fill="#ffffff" fill-opacity="0.45"/>
<circle cx="1395" cy="721" r="6" fill="#ffffff" fill-opacity="0.45"/>
<circle cx="1304" cy="736" r="9" fill="#8a8a9a" fill-opacity="0.18"/>
<circle cx="1224" cy="880" r="7" fill="#8a8a9a" fill-opacity="0.18"/>
<circle cx="1240" cy="954" r="7" fill="#8a8a9a" fill-opacity="0.18"/>
<circle cx="1359" cy="835" r="7" fill="#8a8a9a" fill-opacity="0.18"/>
<circle cx="1180" cy="753" r="8" fill="#ffffff" fill-opacity="0.45"/>
<circle cx="1198" cy="955" r="10" fill="#8a8a9a" fill-opacity="0.18"/>
<circle cx="1430" cy="936" r="7" fill="#8a8a9a" fill-opacity="0.18"/>
<circle cx="1255" cy="934" r="7" fill="#ffffff" fill-opacity="0.45"/>
<circle cx="1422" cy="908" r="9" fill="#8a8a9a" fill-opacity="0.18"/>
<circle cx="1393" cy="805" r="8" fill="#ffffff" fill-opacity="0.45"/>
<circle cx="1322" cy="961" r="9" fill="#8a8a9a" fill-opacity="0.18"/>
<circle cx="1304" cy="990" r="6" fill="#8a8a9a" fill-opacity="0.18"/>
<circle cx="1265" cy="654" r="9" fill="#ffffff" fill-opacity="0.45"/>
<circle cx="1283" cy="977" r="6" fill="#8a8a9a" fill-opacity="0.18"/>
<circle cx="1278" cy="840" r="8" fill="#ffffff" fill-opacity="0.45"/>
<circle cx="1309" cy="981" r="6" fill="#ffffff" fill-opacity="0.45"/>
<circle cx="1171" cy="810" r="11" fill="#ffffff" fill-opacity="0.45"/>
<circle cx="1457" cy="843" r="6" fill="#ffffff" fill-opacity="0.45"/>
<circle cx="1214" cy="919" r="8" fill="#ffffff" fill-opacity="0.45"/>
<circle cx="1229" cy="983" r="10" fill="#ffffff" fill-opacity="0.45"/>
<circle cx="1276" cy="928" r="11" fill="#ffffff" fill-opacity="0.45"/>
<circle cx="1199" cy="769" r="8" fill="#ffffff" fill-opacity="0.45"/>
<circle cx="1167" cy="708" r="7" fill="#8a8a9a" fill-opacity="0.18"/>
<circle cx="1339" cy="627" r="5" fill="#ffffff" fill-opacity="0.45"/>
<circle cx="1421" cy="1004" r="7" fill="#8a8a9a" fill-opacity="0.18"/>
<circle cx="1438" cy="788" r="9" fill="#ffffff" fill-opacity="0.45"/>
<circle cx="1198" cy="859" r="6" fill="#8a8a9a" fill-opacity="0.18"/>
<circle cx="1401" cy="1004" r="8" fill="#ffffff" fill-opacity="0.45"/>
<circle cx="1430" cy="985" r="11" fill="#8a8a9a" fill-opacity="0.18"/>
<circle cx="1359" cy="774" r="6" fill="#ffffff" fill-opacity="0.45"/>
<circle cx="1373" cy="753" r="9" fill="#8a8a9a" fill-opacity="0.18"/>
<circle cx="1289" cy="1026" r="6" fill="#ffffff" fill-opacity="0.45"/>
</g>
<defs>
<linearGradient id="hg0" gradientUnits="userSpaceOnUse" x1="0" y1="640" x2="0" y2="1005"><stop offset="0.00" stop-color="#1f5a28"/><stop offset="0.33" stop-color="#2f9050"/><stop offset="0.67" stop-color="#2f9068"/><stop offset="1.00" stop-color="#2a60a0"/></linearGradient>
<linearGradient id="hg1" gradientUnits="userSpaceOnUse" x1="0" y1="650" x2="0" y2="1015"><stop offset="0.00" stop-color="#a84208"/><stop offset="0.33" stop-color="#6a7a20"/><stop offset="0.67" stop-color="#3a9040"/><stop offset="1.00" stop-color="#7a7a28"/></linearGradient>
<linearGradient id="hg2" gradientUnits="userSpaceOnUse" x1="0" y1="700" x2="0" y2="1025"><stop offset="0.00" stop-color="#2f9a48"/><stop offset="0.33" stop-color="#38a858"/><stop offset="0.67" stop-color="#309a60"/><stop offset="1.00" stop-color="#2a70a0"/></linearGradient>
<linearGradient id="hg3" gradientUnits="userSpaceOnUse" x1="0" y1="650" x2="0" y2="1000"><stop offset="0.00" stop-color="#b8b860"/><stop offset="0.33" stop-color="#c0c068"/><stop offset="0.67" stop-color="#b8b868"/><stop offset="1.00" stop-color="#a0a060"/></linearGradient>
<linearGradient id="hg4" gradientUnits="userSpaceOnUse" x1="0" y1="640" x2="0" y2="1000"><stop offset="0.00" stop-color="#2a6a80"/><stop offset="0.33" stop-color="#2a90a8"/><stop offset="0.67" stop-color="#2a80b0"/><stop offset="1.00" stop-color="#2040b8"/></linearGradient>
<linearGradient id="hg5" gradientUnits="userSpaceOnUse" x1="0" y1="660" x2="0" y2="1015"><stop offset="0.00" stop-color="#3a6a70"/><stop offset="0.33" stop-color="#309aa0"/><stop offset="0.67" stop-color="#2a90b0"/><stop offset="1.00" stop-color="#2a60c0"/></linearGradient>
<linearGradient id="hg6" gradientUnits="userSpaceOnUse" x1="0" y1="625" x2="0" y2="1005"><stop offset="0.00" stop-color="#3a5a5a"/><stop offset="0.33" stop-color="#30908f"/><stop offset="0.67" stop-color="#28a0b0"/><stop offset="1.00" stop-color="#1f50c0"/></linearGradient>
<linearGradient id="hg7" gradientUnits="userSpaceOnUse" x1="0" y1="650" x2="0" y2="1010"><stop offset="0.00" stop-color="#306a78"/><stop offset="0.33" stop-color="#2898a8"/><stop offset="0.67" stop-color="#2890b8"/><stop offset="1.00" stop-color="#2050c0"/></linearGradient>
<linearGradient id="hg8" gradientUnits="userSpaceOnUse" x1="0" y1="670" x2="0" y2="1000"><stop offset="0.00" stop-color="#8a3898"/><stop offset="0.33" stop-color="#8048a8"/><stop offset="0.67" stop-color="#8050a8"/><stop offset="1.00" stop-color="#6040b0"/></linearGradient>
<linearGradient id="hg9" gradientUnits="userSpaceOnUse" x1="0" y1="640" x2="0" y2="1015"><stop offset="0.00" stop-color="#2a6a6a"/><stop offset="0.33" stop-color="#309898"/><stop offset="0.67" stop-color="#30a0a8"/><stop offset="1.00" stop-color="#2a70a8"/></linearGradient>
<linearGradient id="hg10" gradientUnits="userSpaceOnUse" x1="0" y1="640" x2="0" y2="985"><stop offset="0.00" stop-color="#b00a38"/><stop offset="0.33" stop-color="#c02860"/><stop offset="0.67" stop-color="#b05080"/><stop offset="1.00" stop-color="#a060a0"/></linearGradient>
</defs>
<path d="M1198.3,647.4 L1197.5,647.9 L1196.2,648.5 L1194.3,649.1 L1192.0,649.9 L1189.5,650.9 L1186.9,652.0 L1184.3,653.3 L1182.0,654.7 L1180.1,656.2 L1178.6,657.8 L1177.7,659.5 L1177.5,661.3 M1198.4,675.3 L1197.7,675.8 L1196.4,676.4 L1194.6,677.0 L1192.3,677.8 L1189.8,678.8 L1187.2,679.8 L1184.6,681.1 L1182.3,682.5 L1180.3,684.0 L1178.8,685.6 L1177.8,687.3 L1177.5,689.0 M1198.4,703.2 L1197.8,703.7 L1196.6,704.3 L1194.8,704.9 L1192.6,705.7 L1190.2,706.6 L1187.6,707.7 L1185.0,708.9 L1182.6,710.3 L1180.5,711.8 L1178.9,713.4 L1177.9,715.1 L1177.5,716.8 L1177.8,718.5 M1198.5,731.2 L1197.9,731.7 L1196.8,732.2 L1195.1,732.9 L1193.0,733.6 L1190.5,734.5 L1187.9,735.5 L1185.3,736.7 L1182.9,738.1 L1180.8,739.6 L1179.1,741.2 L1178.0,742.8 L1177.5,744.6 L1177.7,746.3 M1198.5,759.1 L1198.0,759.6 L1197.0,760.1 L1195.3,760.8 L1193.3,761.5 L1190.8,762.4 L1188.3,763.4 L1185.7,764.6 L1183.2,765.9 L1181.0,767.4 L1179.3,768.9 L1178.1,770.6 L1177.5,772.3 L1177.6,774.1 M1198.5,787.0 L1198.1,787.5 L1197.1,788.1 L1195.6,788.7 L1193.6,789.4 L1191.2,790.2 L1188.6,791.2 L1186.0,792.4 L1183.5,793.7 L1181.3,795.2 L1179.5,796.7 L1178.2,798.4 L1177.6,800.1 L1177.6,801.8 M1198.2,815.5 L1197.3,816.0 L1195.8,816.6 L1193.8,817.3 L1191.5,818.1 L1189.0,819.1 L1186.3,820.2 L1183.8,821.5 L1181.6,823.0 L1179.7,824.5 L1178.4,826.2 L1177.6,827.9 L1177.5,829.6 M1198.3,843.4 L1197.5,843.9 L1196.1,844.5 L1194.1,845.2 L1191.8,846.0 L1189.3,847.0 L1186.7,848.1 L1184.1,849.4 L1181.8,850.8 L1179.9,852.3 L1178.5,853.9 L1177.7,855.6 L1177.5,857.4 M1198.4,871.3 L1197.6,871.8 L1196.3,872.4 L1194.4,873.1 L1192.2,873.9 L1189.6,874.8 L1187.0,875.9 L1184.5,877.2 L1182.1,878.6 L1180.2,880.1 L1178.7,881.7 L1177.8,883.4 L1177.5,885.2 M1198.4,899.3 L1197.7,899.8 L1196.5,900.3 L1194.7,901.0 L1192.5,901.8 L1190.0,902.7 L1187.4,903.8 L1184.8,905.0 L1182.4,906.4 L1180.4,907.9 L1178.8,909.5 L1177.9,911.2 L1177.5,912.9 L1177.8,914.7 M1198.5,927.2 L1197.9,927.7 L1196.7,928.3 L1195.0,928.9 L1192.8,929.7 L1190.3,930.6 L1187.7,931.6 L1185.1,932.8 L1182.7,934.2 L1180.6,935.7 L1179.0,937.3 L1178.0,939.0 L1177.5,940.7 L1177.7,942.4 M1198.5,955.1 L1198.0,955.6 L1196.9,956.2 L1195.2,956.8 L1193.1,957.6 L1190.7,958.4 L1188.1,959.5 L1185.5,960.7 L1183.0,962.0 L1180.9,963.5 L1179.2,965.1 L1178.1,966.7 L1177.5,968.5 L1177.7,970.2 M1198.5,983.1 L1198.1,983.6 L1197.1,984.1 L1195.5,984.7 L1193.4,985.4 L1191.0,986.3 L1188.4,987.3 L1185.8,988.5 L1183.3,989.8 L1181.2,991.3 L1179.4,992.8 L1178.2,994.5 L1177.6,996.2 L1177.6,998.0" fill="none" stroke="url(#hg0)" stroke-width="4.8" stroke-opacity="0.55" stroke-linecap="round"/>
<path d="M1232.3,652.9 L1231.5,653.4 L1230.2,654.0 L1228.3,654.7 L1226.0,655.5 L1223.5,656.4 L1220.9,657.5 L1218.3,658.8 L1216.0,660.2 L1214.1,661.7 L1212.6,663.4 L1211.7,665.1 L1211.5,666.8 M1232.4,680.8 L1231.7,681.3 L1230.4,681.9 L1228.6,682.6 L1226.3,683.4 L1223.8,684.3 L1221.2,685.4 L1218.6,686.6 L1216.3,688.0 L1214.3,689.5 L1212.8,691.1 L1211.8,692.8 L1211.5,694.6 M1232.4,708.8 L1231.8,709.3 L1230.6,709.8 L1228.8,710.5 L1226.6,711.3 L1224.2,712.2 L1221.6,713.2 L1219.0,714.5 L1216.6,715.8 L1214.5,717.3 L1212.9,718.9 L1211.9,720.6 L1211.5,722.3 L1211.8,724.1 M1232.5,736.7 L1231.9,737.2 L1230.8,737.8 L1229.1,738.4 L1227.0,739.2 L1224.5,740.0 L1221.9,741.1 L1219.3,742.3 L1216.9,743.6 L1214.8,745.1 L1213.1,746.7 L1212.0,748.4 L1211.5,750.1 L1211.7,751.8 M1232.5,764.6 L1232.0,765.1 L1231.0,765.7 L1229.3,766.3 L1227.3,767.0 L1224.8,767.9 L1222.3,768.9 L1219.7,770.1 L1217.2,771.4 L1215.0,772.9 L1213.3,774.5 L1212.1,776.2 L1211.5,777.9 L1211.6,779.6 M1232.5,792.6 L1232.1,793.1 L1231.1,793.6 L1229.6,794.2 L1227.6,794.9 L1225.2,795.8 L1222.6,796.8 L1220.0,797.9 L1217.5,799.3 L1215.3,800.7 L1213.5,802.3 L1212.2,803.9 L1211.6,805.7 L1211.6,807.4 M1232.2,821.0 L1231.3,821.5 L1229.8,822.1 L1227.8,822.8 L1225.5,823.7 L1223.0,824.6 L1220.3,825.8 L1217.8,827.1 L1215.6,828.5 L1213.7,830.1 L1212.4,831.7 L1211.6,833.4 L1211.5,835.2 M1232.3,848.9 L1231.5,849.5 L1230.1,850.0 L1228.1,850.7 L1225.8,851.6 L1223.3,852.5 L1220.7,853.6 L1218.1,854.9 L1215.8,856.3 L1213.9,857.8 L1212.5,859.5 L1211.7,861.2 L1211.5,862.9 M1232.4,876.9 L1231.6,877.4 L1230.3,878.0 L1228.4,878.6 L1226.2,879.4 L1223.6,880.4 L1221.0,881.5 L1218.5,882.7 L1216.1,884.1 L1214.2,885.6 L1212.7,887.3 L1211.8,889.0 L1211.5,890.7 M1232.4,904.8 L1231.7,905.3 L1230.5,905.9 L1228.7,906.5 L1226.5,907.3 L1224.0,908.2 L1221.4,909.3 L1218.8,910.5 L1216.4,911.9 L1214.4,913.4 L1212.8,915.0 L1211.9,916.7 L1211.5,918.5 L1211.8,920.2 M1232.5,932.7 L1231.9,933.2 L1230.7,933.8 L1229.0,934.4 L1226.8,935.2 L1224.3,936.1 L1221.7,937.2 L1219.1,938.4 L1216.7,939.7 L1214.6,941.2 L1213.0,942.8 L1212.0,944.5 L1211.5,946.2 L1211.7,948.0 M1232.5,960.7 L1232.0,961.2 L1230.9,961.7 L1229.2,962.4 L1227.1,963.1 L1224.7,964.0 L1222.1,965.0 L1219.5,966.2 L1217.0,967.5 L1214.9,969.0 L1213.2,970.6 L1212.1,972.3 L1211.5,974.0 L1211.7,975.7 M1232.5,988.6 L1232.1,989.1 L1231.1,989.6 L1229.5,990.3 L1227.4,991.0 L1225.0,991.9 L1222.4,992.9 L1219.8,994.0 L1217.3,995.4 L1215.2,996.8 L1213.4,998.4 L1212.2,1000.1 L1211.6,1001.8 L1211.6,1003.5" fill="none" stroke="url(#hg1)" stroke-width="4.8" stroke-opacity="0.55" stroke-linecap="round"/>
<path d="M1256.1,698.7 L1254.5,699.4 L1252.4,700.1 L1250.0,700.9 L1247.4,702.0 L1244.8,703.1 L1242.4,704.4 L1240.2,705.9 L1238.4,707.5 L1237.2,709.1 L1236.6,710.9 L1236.6,712.6 M1257.2,726.1 L1256.2,726.7 L1254.7,727.3 L1252.7,728.0 L1250.4,728.8 L1247.8,729.8 L1245.2,731.0 L1242.7,732.3 L1240.4,733.7 L1238.6,735.3 L1237.3,736.9 L1236.6,738.6 L1236.6,740.4 M1257.3,754.1 L1256.4,754.6 L1254.9,755.2 L1253.0,755.9 L1250.7,756.7 L1248.1,757.7 L1245.5,758.8 L1243.0,760.1 L1240.7,761.5 L1238.8,763.0 L1237.5,764.7 L1236.7,766.4 L1236.5,768.1 M1257.3,782.0 L1256.5,782.5 L1255.2,783.1 L1253.3,783.8 L1251.0,784.6 L1248.5,785.5 L1245.9,786.6 L1243.3,787.9 L1241.0,789.3 L1239.1,790.8 L1237.6,792.5 L1236.7,794.2 L1236.5,795.9 M1257.4,809.9 L1256.7,810.4 L1255.4,811.0 L1253.6,811.7 L1251.3,812.5 L1248.8,813.4 L1246.2,814.5 L1243.6,815.7 L1241.3,817.1 L1239.3,818.6 L1237.8,820.2 L1236.8,821.9 L1236.5,823.7 M1257.4,837.9 L1256.8,838.4 L1255.6,838.9 L1253.8,839.6 L1251.6,840.4 L1249.2,841.3 L1246.6,842.3 L1244.0,843.6 L1241.6,844.9 L1239.5,846.4 L1237.9,848.0 L1236.9,849.7 L1236.5,851.4 L1236.8,853.2 M1257.5,865.8 L1256.9,866.3 L1255.8,866.9 L1254.1,867.5 L1251.9,868.2 L1249.5,869.1 L1246.9,870.2 L1244.3,871.4 L1241.9,872.7 L1239.8,874.2 L1238.1,875.8 L1237.0,877.5 L1236.5,879.2 L1236.7,881.0 M1257.5,893.7 L1257.0,894.2 L1256.0,894.8 L1254.3,895.4 L1252.3,896.1 L1249.8,897.0 L1247.3,898.0 L1244.6,899.2 L1242.2,900.5 L1240.0,902.0 L1238.3,903.6 L1237.1,905.3 L1236.5,907.0 L1236.6,908.7 M1257.5,921.7 L1257.1,922.2 L1256.1,922.7 L1254.6,923.3 L1252.6,924.0 L1250.2,924.9 L1247.6,925.9 L1245.0,927.0 L1242.5,928.4 L1240.3,929.8 L1238.5,931.4 L1237.2,933.0 L1236.6,934.8 L1236.6,936.5 M1257.2,950.1 L1256.3,950.6 L1254.8,951.2 L1252.8,951.9 L1250.5,952.8 L1247.9,953.7 L1245.3,954.9 L1242.8,956.2 L1240.6,957.6 L1238.7,959.2 L1237.4,960.8 L1236.6,962.5 L1236.5,964.3 M1257.3,978.0 L1256.5,978.6 L1255.0,979.1 L1253.1,979.8 L1250.8,980.6 L1248.3,981.6 L1245.7,982.7 L1243.1,984.0 L1240.8,985.4 L1238.9,986.9 L1237.5,988.6 L1236.7,990.3 L1236.5,992.0 M1257.4,1006.0 L1256.6,1006.5 L1255.3,1007.1 L1253.4,1007.7 L1251.2,1008.5 L1248.6,1009.5 L1246.0,1010.6 L1243.5,1011.8 L1241.1,1013.2 L1239.2,1014.7 L1237.7,1016.4 L1236.8,1018.1 L1236.5,1019.8" fill="none" stroke="url(#hg2)" stroke-width="4.8" stroke-opacity="0.55" stroke-linecap="round"/>
<path d="M1269.5,647.5 L1266.9,648.6 L1264.3,649.9 L1262.0,651.3 L1260.1,652.8 L1258.6,654.5 L1257.7,656.2 L1257.5,657.9 M1278.4,671.9 L1277.7,672.4 L1276.4,673.0 L1274.6,673.7 L1272.3,674.5 L1269.8,675.4 L1267.2,676.5 L1264.6,677.7 L1262.3,679.1 L1260.3,680.6 L1258.8,682.2 L1257.8,683.9 L1257.5,685.7 M1278.4,699.9 L1277.8,700.4 L1276.6,700.9 L1274.8,701.6 L1272.6,702.3 L1270.2,703.3 L1267.6,704.3 L1265.0,705.5 L1262.6,706.9 L1260.5,708.4 L1258.9,710.0 L1257.9,711.7 L1257.5,713.4 L1257.8,715.2 M1278.5,727.8 L1277.9,728.3 L1276.8,728.8 L1275.1,729.5 L1273.0,730.2 L1270.5,731.1 L1267.9,732.2 L1265.3,733.4 L1262.9,734.7 L1260.8,736.2 L1259.1,737.8 L1258.0,739.5 L1257.5,741.2 L1257.7,742.9 M1278.5,755.7 L1278.0,756.2 L1277.0,756.8 L1275.3,757.4 L1273.3,758.1 L1270.8,759.0 L1268.3,760.0 L1265.7,761.2 L1263.2,762.5 L1261.0,764.0 L1259.3,765.6 L1258.1,767.2 L1257.5,769.0 L1257.6,770.7 M1278.5,783.7 L1278.1,784.2 L1277.1,784.7 L1275.6,785.3 L1273.6,786.0 L1271.2,786.9 L1268.6,787.9 L1266.0,789.0 L1263.5,790.3 L1261.3,791.8 L1259.5,793.4 L1258.2,795.0 L1257.6,796.7 L1257.6,798.5 M1278.2,812.1 L1277.3,812.6 L1275.8,813.2 L1273.8,813.9 L1271.5,814.8 L1269.0,815.7 L1266.3,816.9 L1263.8,818.2 L1261.6,819.6 L1259.7,821.1 L1258.4,822.8 L1257.6,824.5 L1257.5,826.2 M1278.3,840.0 L1277.5,840.5 L1276.1,841.1 L1274.1,841.8 L1271.8,842.6 L1269.3,843.6 L1266.7,844.7 L1264.1,846.0 L1261.8,847.4 L1259.9,848.9 L1258.5,850.6 L1257.7,852.3 L1257.5,854.0 M1278.4,868.0 L1277.6,868.5 L1276.3,869.0 L1274.4,869.7 L1272.2,870.5 L1269.6,871.5 L1267.0,872.6 L1264.5,873.8 L1262.1,875.2 L1260.2,876.7 L1258.7,878.4 L1257.8,880.1 L1257.5,881.8 M1278.4,895.9 L1277.7,896.4 L1276.5,897.0 L1274.7,897.6 L1272.5,898.4 L1270.0,899.3 L1267.4,900.4 L1264.8,901.6 L1262.4,903.0 L1260.4,904.5 L1258.8,906.1 L1257.9,907.8 L1257.5,909.6 L1257.8,911.3 M1278.5,923.8 L1277.9,924.3 L1276.7,924.9 L1275.0,925.5 L1272.8,926.3 L1270.3,927.2 L1267.7,928.3 L1265.1,929.5 L1262.7,930.8 L1260.6,932.3 L1259.0,933.9 L1258.0,935.6 L1257.5,937.3 L1257.7,939.1 M1278.5,951.8 L1278.0,952.3 L1276.9,952.8 L1275.2,953.4 L1273.1,954.2 L1270.7,955.1 L1268.1,956.1 L1265.5,957.3 L1263.0,958.6 L1260.9,960.1 L1259.2,961.7 L1258.1,963.4 L1257.5,965.1 L1257.7,966.8 M1278.5,979.7 L1278.1,980.2 L1277.1,980.7 L1275.5,981.4 L1273.4,982.1 L1271.0,982.9 L1268.4,984.0 L1265.8,985.1 L1263.3,986.4 L1261.2,987.9 L1259.4,989.5 L1258.2,991.1 L1257.6,992.9 L1257.6,994.6" fill="none" stroke="url(#hg3)" stroke-width="4.8" stroke-opacity="0.55" stroke-linecap="round"/>
<path d="M1302.3,645.1 L1301.5,645.6 L1300.2,646.2 L1298.3,646.9 L1296.0,647.7 L1293.5,648.7 L1290.9,649.8 L1288.3,651.0 L1286.0,652.4 L1284.1,654.0 L1282.6,655.6 L1281.7,657.3 L1281.5,659.0 M1302.4,673.1 L1301.7,673.6 L1300.4,674.1 L1298.6,674.8 L1296.3,675.6 L1293.8,676.5 L1291.2,677.6 L1288.6,678.9 L1286.3,680.2 L1284.3,681.8 L1282.8,683.4 L1281.8,685.1 L1281.5,686.8 M1302.4,701.0 L1301.8,701.5 L1300.6,702.1 L1298.8,702.7 L1296.6,703.5 L1294.2,704.4 L1291.6,705.5 L1289.0,706.7 L1286.6,708.0 L1284.5,709.5 L1282.9,711.2 L1281.9,712.8 L1281.5,714.6 L1281.8,716.3 M1302.5,728.9 L1301.9,729.4 L1300.8,730.0 L1299.1,730.6 L1297.0,731.4 L1294.5,732.3 L1291.9,733.3 L1289.3,734.5 L1286.9,735.9 L1284.8,737.3 L1283.1,738.9 L1282.0,740.6 L1281.5,742.3 L1281.7,744.1 M1302.5,756.9 L1302.0,757.4 L1301.0,757.9 L1299.3,758.5 L1297.3,759.3 L1294.8,760.1 L1292.3,761.2 L1289.7,762.3 L1287.2,763.7 L1285.0,765.1 L1283.3,766.7 L1282.1,768.4 L1281.5,770.1 L1281.6,771.8 M1302.5,784.8 L1302.1,785.3 L1301.1,785.8 L1299.6,786.4 L1297.6,787.2 L1295.2,788.0 L1292.6,789.0 L1290.0,790.2 L1287.5,791.5 L1285.3,792.9 L1283.5,794.5 L1282.2,796.2 L1281.6,797.9 L1281.6,799.6 M1302.2,813.2 L1301.3,813.8 L1299.8,814.4 L1297.8,815.1 L1295.5,815.9 L1293.0,816.9 L1290.3,818.0 L1287.8,819.3 L1285.6,820.7 L1283.7,822.3 L1282.4,823.9 L1281.6,825.7 L1281.5,827.4 M1302.3,841.2 L1301.5,841.7 L1300.1,842.3 L1298.1,843.0 L1295.8,843.8 L1293.3,844.7 L1290.7,845.9 L1288.1,847.1 L1285.8,848.5 L1283.9,850.1 L1282.5,851.7 L1281.7,853.4 L1281.5,855.2 M1302.4,869.1 L1301.6,869.6 L1300.3,870.2 L1298.4,870.9 L1296.2,871.7 L1293.6,872.6 L1291.0,873.7 L1288.5,874.9 L1286.1,876.3 L1284.2,877.9 L1282.7,879.5 L1281.8,881.2 L1281.5,882.9 M1302.4,897.0 L1301.7,897.5 L1300.5,898.1 L1298.7,898.8 L1296.5,899.5 L1294.0,900.5 L1291.4,901.5 L1288.8,902.8 L1286.4,904.1 L1284.4,905.7 L1282.8,907.3 L1281.9,909.0 L1281.5,910.7 L1281.8,912.4 M1302.5,925.0 L1301.9,925.5 L1300.7,926.0 L1299.0,926.7 L1296.8,927.4 L1294.3,928.3 L1291.7,929.4 L1289.1,930.6 L1286.7,932.0 L1284.6,933.4 L1283.0,935.1 L1282.0,936.7 L1281.5,938.5 L1281.7,940.2 M1302.5,952.9 L1302.0,953.4 L1300.9,953.9 L1299.2,954.6 L1297.1,955.3 L1294.7,956.2 L1292.1,957.2 L1289.5,958.4 L1287.0,959.8 L1284.9,961.2 L1283.2,962.8 L1282.1,964.5 L1281.5,966.2 L1281.7,968.0 M1302.5,980.8 L1302.1,981.3 L1301.1,981.9 L1299.5,982.5 L1297.4,983.2 L1295.0,984.1 L1292.4,985.1 L1289.8,986.3 L1287.3,987.6 L1285.2,989.0 L1283.4,990.6 L1282.2,992.3 L1281.6,994.0 L1281.6,995.7" fill="none" stroke="url(#hg4)" stroke-width="4.8" stroke-opacity="0.55" stroke-linecap="round"/>
<path d="M1323.5,659.9 L1323.1,660.4 L1322.1,661.0 L1320.5,661.6 L1318.4,662.3 L1316.0,663.2 L1313.4,664.2 L1310.8,665.4 L1308.4,666.7 L1306.2,668.1 L1304.4,669.7 L1303.2,671.4 L1302.6,673.1 L1302.6,674.8 M1323.2,688.4 L1322.2,688.9 L1320.7,689.5 L1318.7,690.2 L1316.4,691.1 L1313.8,692.0 L1311.2,693.2 L1308.7,694.5 L1306.4,695.9 L1304.6,697.5 L1303.3,699.1 L1302.6,700.9 L1302.6,702.6 M1323.3,716.3 L1322.4,716.8 L1320.9,717.4 L1319.0,718.1 L1316.7,718.9 L1314.1,719.9 L1311.5,721.0 L1309.0,722.3 L1306.7,723.7 L1304.8,725.3 L1303.5,726.9 L1302.7,728.6 L1302.5,730.4 M1323.3,744.2 L1322.5,744.7 L1321.2,745.3 L1319.3,746.0 L1317.0,746.8 L1314.5,747.8 L1311.9,748.9 L1309.3,750.1 L1307.0,751.5 L1305.1,753.1 L1303.6,754.7 L1302.7,756.4 L1302.5,758.1 M1323.4,772.2 L1322.7,772.7 L1321.4,773.2 L1319.6,773.9 L1317.3,774.7 L1314.8,775.6 L1312.2,776.7 L1309.6,778.0 L1307.3,779.3 L1305.3,780.9 L1303.8,782.5 L1302.8,784.2 L1302.5,785.9 M1323.4,800.1 L1322.8,800.6 L1321.6,801.2 L1319.8,801.8 L1317.6,802.6 L1315.2,803.5 L1312.6,804.6 L1310.0,805.8 L1307.6,807.1 L1305.5,808.6 L1303.9,810.3 L1302.9,811.9 L1302.5,813.7 L1302.8,815.4 M1323.5,828.0 L1322.9,828.5 L1321.8,829.1 L1320.1,829.7 L1317.9,830.5 L1315.5,831.4 L1312.9,832.4 L1310.3,833.6 L1307.9,835.0 L1305.8,836.4 L1304.1,838.0 L1303.0,839.7 L1302.5,841.4 L1302.7,843.2 M1323.5,856.0 L1323.0,856.5 L1322.0,857.0 L1320.3,857.6 L1318.3,858.4 L1315.8,859.2 L1313.3,860.3 L1310.6,861.4 L1308.2,862.8 L1306.0,864.2 L1304.3,865.8 L1303.1,867.5 L1302.5,869.2 L1302.6,870.9 M1323.5,883.9 L1323.1,884.4 L1322.1,884.9 L1320.6,885.5 L1318.6,886.3 L1316.2,887.1 L1313.6,888.1 L1311.0,889.3 L1308.5,890.6 L1306.3,892.0 L1304.5,893.6 L1303.2,895.3 L1302.6,897.0 L1302.6,898.7 M1323.2,912.3 L1322.3,912.9 L1320.8,913.5 L1318.8,914.2 L1316.5,915.0 L1313.9,916.0 L1311.3,917.1 L1308.8,918.4 L1306.6,919.8 L1304.7,921.4 L1303.4,923.0 L1302.6,924.8 L1302.5,926.5 M1323.3,940.3 L1322.5,940.8 L1321.0,941.4 L1319.1,942.1 L1316.8,942.9 L1314.3,943.8 L1311.7,945.0 L1309.1,946.2 L1306.8,947.6 L1304.9,949.2 L1303.5,950.8 L1302.7,952.5 L1302.5,954.3 M1323.4,968.2 L1322.6,968.7 L1321.3,969.3 L1319.4,970.0 L1317.2,970.8 L1314.6,971.7 L1312.0,972.8 L1309.5,974.0 L1307.1,975.4 L1305.2,977.0 L1303.7,978.6 L1302.8,980.3 L1302.5,982.0 M1323.4,996.1 L1322.7,996.6 L1321.5,997.2 L1319.7,997.9 L1317.5,998.6 L1315.0,999.6 L1312.4,1000.6 L1309.8,1001.9 L1307.4,1003.2 L1305.4,1004.8 L1303.8,1006.4 L1302.9,1008.1 L1302.5,1009.8 L1302.8,1011.5" fill="none" stroke="url(#hg5)" stroke-width="4.8" stroke-opacity="0.55" stroke-linecap="round"/>
<path d="M1343.4,622.9 L1341.0,623.7 L1338.4,624.7 L1335.8,625.9 L1333.4,627.2 L1331.2,628.7 L1329.4,630.2 L1328.2,631.9 L1327.6,633.6 L1327.6,635.4 M1348.2,648.9 L1347.2,649.4 L1345.7,650.0 L1343.7,650.8 L1341.4,651.6 L1338.8,652.6 L1336.2,653.7 L1333.7,655.0 L1331.4,656.5 L1329.6,658.0 L1328.3,659.7 L1327.6,661.4 L1327.6,663.1 M1348.3,676.8 L1347.4,677.4 L1345.9,678.0 L1344.0,678.7 L1341.7,679.5 L1339.1,680.4 L1336.5,681.6 L1334.0,682.9 L1331.7,684.3 L1329.8,685.8 L1328.5,687.5 L1327.7,689.2 L1327.5,690.9 M1348.3,704.8 L1347.5,705.3 L1346.2,705.9 L1344.3,706.6 L1342.0,707.4 L1339.5,708.3 L1336.9,709.4 L1334.3,710.7 L1332.0,712.1 L1330.1,713.6 L1328.6,715.2 L1327.7,716.9 L1327.5,718.7 M1348.4,732.7 L1347.7,733.2 L1346.4,733.8 L1344.6,734.5 L1342.3,735.2 L1339.8,736.2 L1337.2,737.3 L1334.6,738.5 L1332.3,739.9 L1330.3,741.4 L1328.8,743.0 L1327.8,744.7 L1327.5,746.4 M1348.4,760.6 L1347.8,761.1 L1346.6,761.7 L1344.8,762.4 L1342.6,763.1 L1340.2,764.0 L1337.6,765.1 L1335.0,766.3 L1332.6,767.7 L1330.5,769.2 L1328.9,770.8 L1327.9,772.5 L1327.5,774.2 L1327.8,776.0 M1348.5,788.6 L1347.9,789.1 L1346.8,789.6 L1345.1,790.3 L1342.9,791.0 L1340.5,791.9 L1337.9,793.0 L1335.3,794.2 L1332.9,795.5 L1330.8,797.0 L1329.1,798.6 L1328.0,800.3 L1327.5,802.0 L1327.7,803.7 M1348.5,816.5 L1348.0,817.0 L1347.0,817.6 L1345.3,818.2 L1343.3,818.9 L1340.8,819.8 L1338.3,820.8 L1335.6,822.0 L1333.2,823.3 L1331.0,824.8 L1329.3,826.4 L1328.1,828.0 L1327.5,829.8 L1327.6,831.5 M1348.5,844.4 L1348.1,844.9 L1347.1,845.5 L1345.6,846.1 L1343.6,846.8 L1341.2,847.7 L1338.6,848.7 L1336.0,849.8 L1333.5,851.1 L1331.3,852.6 L1329.5,854.1 L1328.2,855.8 L1327.6,857.5 L1327.6,859.3 M1348.2,872.9 L1347.3,873.4 L1345.8,874.0 L1343.8,874.7 L1341.5,875.5 L1338.9,876.5 L1336.3,877.7 L1333.8,878.9 L1331.6,880.4 L1329.7,881.9 L1328.4,883.6 L1327.6,885.3 L1327.5,887.0 M1348.3,900.8 L1347.5,901.3 L1346.0,901.9 L1344.1,902.6 L1341.8,903.4 L1339.3,904.4 L1336.7,905.5 L1334.1,906.8 L1331.8,908.2 L1329.9,909.7 L1328.5,911.4 L1327.7,913.1 L1327.5,914.8 M1348.4,928.7 L1347.6,929.3 L1346.3,929.8 L1344.4,930.5 L1342.2,931.3 L1339.6,932.2 L1337.0,933.3 L1334.5,934.6 L1332.1,936.0 L1330.2,937.5 L1328.7,939.1 L1327.8,940.8 L1327.5,942.6 M1348.4,956.7 L1347.7,957.2 L1346.5,957.8 L1344.7,958.4 L1342.5,959.2 L1340.0,960.1 L1337.4,961.2 L1334.8,962.4 L1332.4,963.8 L1330.4,965.3 L1328.8,966.9 L1327.9,968.6 L1327.5,970.3 L1327.8,972.1 M1348.4,984.6 L1347.9,985.1 L1346.7,985.7 L1344.9,986.3 L1342.8,987.1 L1340.3,988.0 L1337.7,989.0 L1335.1,990.2 L1332.7,991.6 L1330.6,993.1 L1329.0,994.7 L1327.9,996.4 L1327.5,998.1 L1327.7,999.8" fill="none" stroke="url(#hg6)" stroke-width="4.8" stroke-opacity="0.55" stroke-linecap="round"/>
<path d="M1372.5,653.1 L1371.9,653.6 L1370.8,654.2 L1369.1,654.8 L1367.0,655.6 L1364.5,656.5 L1361.9,657.5 L1359.3,658.7 L1356.9,660.1 L1354.8,661.6 L1353.1,663.2 L1352.0,664.8 L1351.5,666.6 L1351.7,668.3 M1372.5,681.1 L1372.0,681.6 L1371.0,682.1 L1369.3,682.8 L1367.3,683.5 L1364.8,684.4 L1362.3,685.4 L1359.7,686.6 L1357.2,687.9 L1355.0,689.4 L1353.3,690.9 L1352.1,692.6 L1351.5,694.3 L1351.6,696.1 M1372.5,709.0 L1372.1,709.5 L1371.1,710.0 L1369.6,710.7 L1367.6,711.4 L1365.2,712.2 L1362.6,713.2 L1360.0,714.4 L1357.5,715.7 L1355.3,717.1 L1353.5,718.7 L1352.2,720.4 L1351.6,722.1 L1351.6,723.8 M1372.2,737.4 L1371.3,738.0 L1369.8,738.6 L1367.9,739.3 L1365.5,740.1 L1363.0,741.1 L1360.3,742.2 L1357.8,743.5 L1355.6,744.9 L1353.7,746.5 L1352.4,748.2 L1351.6,749.9 L1351.5,751.6 M1372.3,765.4 L1371.5,765.9 L1370.1,766.5 L1368.1,767.2 L1365.8,768.0 L1363.3,769.0 L1360.7,770.1 L1358.1,771.3 L1355.9,772.8 L1353.9,774.3 L1352.5,775.9 L1351.7,777.6 L1351.5,779.4 M1372.4,793.3 L1371.6,793.8 L1370.3,794.4 L1368.4,795.1 L1366.2,795.9 L1363.6,796.8 L1361.0,797.9 L1358.5,799.2 L1356.1,800.6 L1354.2,802.1 L1352.7,803.7 L1351.8,805.4 L1351.5,807.1 M1372.4,821.2 L1371.8,821.8 L1370.5,822.3 L1368.7,823.0 L1366.5,823.8 L1364.0,824.7 L1361.4,825.8 L1358.8,827.0 L1356.4,828.4 L1354.4,829.9 L1352.8,831.5 L1351.9,833.2 L1351.5,834.9 L1351.8,836.6 M1372.5,849.2 L1371.9,849.7 L1370.7,850.2 L1369.0,850.9 L1366.8,851.7 L1364.3,852.6 L1361.7,853.6 L1359.1,854.8 L1356.7,856.2 L1354.6,857.7 L1353.0,859.3 L1352.0,860.9 L1351.5,862.7 L1351.7,864.4 M1372.5,877.1 L1372.0,877.6 L1370.9,878.2 L1369.2,878.8 L1367.1,879.5 L1364.7,880.4 L1362.1,881.5 L1359.5,882.6 L1357.0,884.0 L1354.9,885.5 L1353.2,887.0 L1352.1,888.7 L1351.5,890.4 L1351.7,892.2 M1372.5,905.0 L1372.1,905.5 L1371.1,906.1 L1369.5,906.7 L1367.4,907.4 L1365.0,908.3 L1362.4,909.3 L1359.8,910.5 L1357.3,911.8 L1355.2,913.3 L1353.4,914.8 L1352.2,916.5 L1351.6,918.2 L1351.6,920.0 M1372.2,933.5 L1371.2,934.0 L1369.7,934.6 L1367.7,935.3 L1365.3,936.2 L1362.8,937.2 L1360.2,938.3 L1357.7,939.6 L1355.4,941.1 L1353.6,942.6 L1352.3,944.3 L1351.6,946.0 L1351.6,947.7 M1372.3,961.4 L1371.4,961.9 L1369.9,962.5 L1368.0,963.2 L1365.7,964.1 L1363.1,965.0 L1360.5,966.2 L1358.0,967.4 L1355.7,968.9 L1353.8,970.4 L1352.4,972.0 L1351.7,973.8 L1351.5,975.5 M1372.3,989.3 L1371.5,989.9 L1370.2,990.5 L1368.3,991.1 L1366.0,991.9 L1363.5,992.9 L1360.8,994.0 L1358.3,995.3 L1356.0,996.7 L1354.0,998.2 L1352.6,999.8 L1351.7,1001.5 L1351.5,1003.3" fill="none" stroke="url(#hg7)" stroke-width="4.8" stroke-opacity="0.55" stroke-linecap="round"/>
<path d="M1390.2,671.7 L1389.3,672.2 L1387.8,672.8 L1385.9,673.5 L1383.5,674.3 L1381.0,675.3 L1378.3,676.4 L1375.8,677.7 L1373.6,679.2 L1371.7,680.7 L1370.4,682.4 L1369.6,684.1 L1369.5,685.8 M1390.3,699.6 L1389.5,700.1 L1388.1,700.7 L1386.1,701.4 L1383.8,702.2 L1381.3,703.2 L1378.7,704.3 L1376.2,705.6 L1373.9,707.0 L1371.9,708.5 L1370.5,710.1 L1369.7,711.8 L1369.5,713.6 M1390.4,727.5 L1389.6,728.0 L1388.3,728.6 L1386.4,729.3 L1384.2,730.1 L1381.7,731.0 L1379.0,732.1 L1376.5,733.4 L1374.1,734.8 L1372.2,736.3 L1370.7,737.9 L1369.8,739.6 L1369.5,741.4 M1390.4,755.5 L1389.8,756.0 L1388.5,756.5 L1386.7,757.2 L1384.5,758.0 L1382.0,758.9 L1379.4,760.0 L1376.8,761.2 L1374.4,762.6 L1372.4,764.1 L1370.8,765.7 L1369.9,767.4 L1369.5,769.1 L1369.8,770.9 M1390.5,783.4 L1389.9,783.9 L1388.7,784.5 L1387.0,785.1 L1384.8,785.9 L1382.3,786.8 L1379.7,787.8 L1377.1,789.0 L1374.7,790.4 L1372.6,791.9 L1371.0,793.5 L1370.0,795.2 L1369.5,796.9 L1369.7,798.6 M1390.5,811.3 L1390.0,811.8 L1388.9,812.4 L1387.2,813.0 L1385.1,813.8 L1382.7,814.6 L1380.1,815.7 L1377.5,816.9 L1375.0,818.2 L1372.9,819.7 L1371.2,821.3 L1370.1,822.9 L1369.5,824.7 L1369.7,826.4 M1390.5,839.3 L1390.1,839.8 L1389.1,840.3 L1387.5,840.9 L1385.4,841.7 L1383.0,842.5 L1380.4,843.5 L1377.8,844.7 L1375.3,846.0 L1373.2,847.5 L1371.4,849.0 L1370.2,850.7 L1369.6,852.4 L1369.6,854.2 M1390.2,867.7 L1389.2,868.2 L1387.7,868.8 L1385.7,869.5 L1383.3,870.4 L1380.8,871.4 L1378.2,872.5 L1375.7,873.8 L1373.4,875.3 L1371.6,876.8 L1370.3,878.5 L1369.6,880.2 L1369.6,881.9 M1390.3,895.6 L1389.4,896.2 L1387.9,896.8 L1386.0,897.4 L1383.7,898.3 L1381.1,899.2 L1378.5,900.4 L1376.0,901.6 L1373.7,903.1 L1371.8,904.6 L1370.4,906.3 L1369.7,908.0 L1369.5,909.7 M1390.3,923.6 L1389.5,924.1 L1388.2,924.7 L1386.3,925.3 L1384.0,926.2 L1381.5,927.1 L1378.9,928.2 L1376.3,929.5 L1374.0,930.9 L1372.0,932.4 L1370.6,934.0 L1369.7,935.7 L1369.5,937.5 M1390.4,951.5 L1389.7,952.0 L1388.4,952.6 L1386.5,953.3 L1384.3,954.0 L1381.8,955.0 L1379.2,956.1 L1376.6,957.3 L1374.3,958.7 L1372.3,960.2 L1370.8,961.8 L1369.8,963.5 L1369.5,965.2 M1390.4,979.4 L1389.8,979.9 L1388.6,980.5 L1386.8,981.2 L1384.6,981.9 L1382.2,982.8 L1379.5,983.9 L1377.0,985.1 L1374.6,986.5 L1372.5,988.0 L1370.9,989.6 L1369.9,991.3 L1369.5,993.0 L1369.8,994.8" fill="none" stroke="url(#hg8)" stroke-width="4.8" stroke-opacity="0.55" stroke-linecap="round"/>
<path d="M1415.2,646.1 L1414.3,646.6 L1412.8,647.2 L1410.9,648.0 L1408.5,648.8 L1406.0,649.8 L1403.3,650.9 L1400.8,652.2 L1398.6,653.6 L1396.7,655.2 L1395.4,656.8 L1394.6,658.5 L1394.5,660.3 M1415.3,674.0 L1414.5,674.6 L1413.1,675.2 L1411.1,675.9 L1408.8,676.7 L1406.3,677.6 L1403.7,678.7 L1401.2,680.0 L1398.9,681.4 L1396.9,683.0 L1395.5,684.6 L1394.7,686.3 L1394.5,688.0 M1415.4,702.0 L1414.6,702.5 L1413.3,703.1 L1411.4,703.8 L1409.2,704.6 L1406.7,705.5 L1404.0,706.6 L1401.5,707.8 L1399.1,709.2 L1397.2,710.8 L1395.7,712.4 L1394.8,714.1 L1394.5,715.8 M1415.4,729.9 L1414.8,730.4 L1413.5,731.0 L1411.7,731.7 L1409.5,732.4 L1407.0,733.4 L1404.4,734.4 L1401.8,735.7 L1399.4,737.0 L1397.4,738.5 L1395.8,740.2 L1394.9,741.8 L1394.5,743.6 L1394.8,745.3 M1415.5,757.9 L1414.9,758.4 L1413.7,758.9 L1412.0,759.6 L1409.8,760.3 L1407.3,761.2 L1404.7,762.3 L1402.1,763.5 L1399.7,764.8 L1397.6,766.3 L1396.0,767.9 L1395.0,769.6 L1394.5,771.3 L1394.7,773.1 M1415.5,785.8 L1415.0,786.3 L1413.9,786.8 L1412.2,787.5 L1410.1,788.2 L1407.7,789.1 L1405.1,790.1 L1402.5,791.3 L1400.0,792.7 L1397.9,794.1 L1396.2,795.7 L1395.1,797.4 L1394.5,799.1 L1394.7,800.9 M1415.5,813.7 L1415.1,814.2 L1414.1,814.8 L1412.5,815.4 L1410.4,816.1 L1408.0,817.0 L1405.4,818.0 L1402.8,819.2 L1400.3,820.5 L1398.2,821.9 L1396.4,823.5 L1395.2,825.2 L1394.6,826.9 L1394.6,828.6 M1415.2,842.2 L1414.2,842.7 L1412.7,843.3 L1410.7,844.0 L1408.3,844.8 L1405.8,845.8 L1403.2,847.0 L1400.7,848.3 L1398.4,849.7 L1396.6,851.3 L1395.3,852.9 L1394.6,854.7 L1394.6,856.4 M1415.3,870.1 L1414.4,870.6 L1412.9,871.2 L1411.0,871.9 L1408.7,872.7 L1406.1,873.7 L1403.5,874.8 L1401.0,876.1 L1398.7,877.5 L1396.8,879.1 L1395.4,880.7 L1394.7,882.4 L1394.5,884.2 M1415.3,898.0 L1414.5,898.5 L1413.2,899.1 L1411.3,899.8 L1409.0,900.6 L1406.5,901.6 L1403.9,902.7 L1401.3,903.9 L1399.0,905.3 L1397.0,906.9 L1395.6,908.5 L1394.7,910.2 L1394.5,911.9 M1415.4,926.0 L1414.7,926.5 L1413.4,927.0 L1411.5,927.7 L1409.3,928.5 L1406.8,929.4 L1404.2,930.5 L1401.6,931.8 L1399.3,933.1 L1397.3,934.7 L1395.8,936.3 L1394.8,938.0 L1394.5,939.7 M1415.4,953.9 L1414.8,954.4 L1413.6,955.0 L1411.8,955.6 L1409.6,956.4 L1407.2,957.3 L1404.5,958.4 L1402.0,959.6 L1399.6,960.9 L1397.5,962.4 L1395.9,964.1 L1394.9,965.7 L1394.5,967.5 L1394.8,969.2 M1415.5,981.8 L1414.9,982.3 L1413.8,982.9 L1412.1,983.5 L1409.9,984.3 L1407.5,985.2 L1404.9,986.2 L1402.3,987.4 L1399.9,988.8 L1397.8,990.2 L1396.1,991.8 L1395.0,993.5 L1394.5,995.2 L1394.7,997.0 M1415.5,1009.8 L1415.0,1010.3 L1414.0,1010.8 L1412.3,1011.4 L1410.2,1012.2 L1407.8,1013.0 L1405.2,1014.1" fill="none" stroke="url(#hg9)" stroke-width="4.8" stroke-opacity="0.55" stroke-linecap="round"/>
<path d="M1436.5,638.5 L1434.7,639.2 L1432.5,640.0 L1430.0,640.9 L1427.4,642.0 L1424.8,643.2 L1422.4,644.6 L1420.4,646.1 L1418.8,647.7 L1417.9,649.4 L1417.5,651.1 L1417.8,652.8 M1438.5,665.4 L1437.9,665.9 L1436.7,666.4 L1435.0,667.1 L1432.8,667.9 L1430.3,668.8 L1427.7,669.8 L1425.1,671.0 L1422.7,672.4 L1420.7,673.9 L1419.0,675.5 L1418.0,677.2 L1417.5,678.9 L1417.7,680.6 M1438.5,693.3 L1438.0,693.8 L1436.9,694.4 L1435.2,695.0 L1433.1,695.7 L1430.7,696.6 L1428.1,697.7 L1425.5,698.8 L1423.0,700.2 L1420.9,701.7 L1419.2,703.2 L1418.1,704.9 L1417.5,706.6 L1417.7,708.4 M1438.5,721.3 L1438.1,721.8 L1437.1,722.3 L1435.5,722.9 L1433.4,723.6 L1431.0,724.5 L1428.4,725.5 L1425.8,726.7 L1423.3,728.0 L1421.2,729.5 L1419.4,731.0 L1418.2,732.7 L1417.6,734.4 L1417.6,736.2 M1438.2,749.7 L1437.2,750.2 L1435.7,750.8 L1433.7,751.5 L1431.3,752.4 L1428.8,753.4 L1426.2,754.5 L1423.7,755.8 L1421.4,757.3 L1419.6,758.8 L1418.3,760.5 L1417.6,762.2 L1417.6,763.9 M1438.3,777.6 L1437.4,778.1 L1435.9,778.7 L1434.0,779.4 L1431.7,780.3 L1429.1,781.2 L1426.5,782.4 L1424.0,783.6 L1421.7,785.1 L1419.8,786.6 L1418.4,788.2 L1417.7,790.0 L1417.5,791.7 M1438.3,805.6 L1437.5,806.1 L1436.2,806.7 L1434.3,807.3 L1432.0,808.1 L1429.5,809.1 L1426.9,810.2 L1424.3,811.5 L1422.0,812.9 L1420.0,814.4 L1418.6,816.0 L1417.7,817.7 L1417.5,819.5 M1438.4,833.5 L1437.7,834.0 L1436.4,834.6 L1434.6,835.2 L1432.3,836.0 L1429.8,837.0 L1427.2,838.0 L1424.6,839.3 L1422.3,840.7 L1420.3,842.2 L1418.8,843.8 L1417.8,845.5 L1417.5,847.2 M1438.4,861.4 L1437.8,861.9 L1436.6,862.5 L1434.8,863.1 L1432.6,863.9 L1430.2,864.8 L1427.5,865.9 L1425.0,867.1 L1422.6,868.5 L1420.5,870.0 L1418.9,871.6 L1417.9,873.3 L1417.5,875.0 L1417.8,876.7 M1438.5,889.4 L1437.9,889.9 L1436.8,890.4 L1435.1,891.1 L1432.9,891.8 L1430.5,892.7 L1427.9,893.7 L1425.3,894.9 L1422.9,896.3 L1420.8,897.8 L1419.1,899.4 L1418.0,901.0 L1417.5,902.8 L1417.7,904.5 M1438.5,917.3 L1438.0,917.8 L1437.0,918.3 L1435.3,919.0 L1433.2,919.7 L1430.8,920.6 L1428.2,921.6 L1425.6,922.8 L1423.2,924.1 L1421.0,925.6 L1419.3,927.1 L1418.1,928.8 L1417.5,930.5 L1417.6,932.3 M1438.5,945.2 L1438.1,945.7 L1437.1,946.3 L1435.6,946.9 L1433.5,947.6 L1431.2,948.4 L1428.6,949.4 L1426.0,950.6 L1423.5,951.9 L1421.3,953.4 L1419.5,954.9 L1418.2,956.6 L1417.6,958.3 L1417.6,960.0 M1438.2,973.7 L1437.3,974.2 L1435.8,974.8 L1433.8,975.5 L1431.5,976.3 L1428.9,977.3 L1426.3,978.4 L1423.8,979.7 L1421.6,981.2 L1419.7,982.7 L1418.4,984.4" fill="none" stroke="url(#hg10)" stroke-width="4.8" stroke-opacity="0.55" stroke-linecap="round"/>
<path d="M1188.0,642.5 L1190.6,643.5 L1193.0,644.4 L1195.2,645.2 L1196.8,645.8 L1198.0,646.4 L1198.5,646.9 L1198.3,647.4 M1177.5,661.3 L1177.9,663.0 L1179.0,664.7 L1180.6,666.3 L1182.7,667.8 L1185.1,669.1 L1187.7,670.4 L1190.3,671.4 L1192.7,672.3 L1194.9,673.1 L1196.6,673.7 L1197.8,674.3 L1198.4,674.8 L1198.4,675.3 M1177.5,689.0 L1177.8,690.8 L1178.8,692.5 L1180.3,694.1 L1182.4,695.6 L1184.7,697.0 L1187.3,698.2 L1189.9,699.3 L1192.4,700.2 L1194.6,701.0 L1196.4,701.6 L1197.7,702.2 L1198.4,702.7 L1198.4,703.2 M1177.8,718.5 L1178.6,720.2 L1180.1,721.9 L1182.1,723.4 L1184.4,724.8 L1187.0,726.0 L1189.6,727.1 L1192.1,728.1 L1194.4,728.9 L1196.2,729.6 L1197.6,730.1 L1198.3,730.7 L1198.5,731.2 M1177.7,746.3 L1178.5,748.0 L1179.9,749.7 L1181.8,751.2 L1184.1,752.6 L1186.6,753.9 L1189.2,755.0 L1191.8,756.0 L1194.1,756.8 L1196.0,757.5 L1197.4,758.1 L1198.3,758.6 L1198.5,759.1 M1177.6,774.1 L1178.3,775.8 L1179.7,777.4 L1181.5,779.0 L1183.8,780.4 L1186.3,781.7 L1188.9,782.9 L1191.4,783.9 L1193.8,784.7 L1195.8,785.4 L1197.3,786.0 L1198.2,786.5 L1198.5,787.0 M1177.6,801.8 L1178.2,803.6 L1179.5,805.2 L1181.2,806.8 L1183.4,808.3 L1185.9,809.6 L1188.5,810.7 L1191.1,811.7 L1193.5,812.6 L1195.5,813.3 L1197.1,813.9 L1198.1,814.5 L1198.5,815.0 L1198.2,815.5 M1177.5,829.6 L1178.1,831.3 L1179.3,833.0 L1181.0,834.6 L1183.1,836.1 L1185.6,837.4 L1188.2,838.6 L1190.8,839.6 L1193.2,840.5 L1195.3,841.2 L1196.9,841.8 L1198.0,842.4 L1198.5,842.9 L1198.3,843.4 M1177.5,857.4 L1178.0,859.1 L1179.1,860.8 L1180.7,862.4 L1182.8,863.9 L1185.2,865.2 L1187.8,866.4 L1190.4,867.5 L1192.9,868.4 L1195.0,869.1 L1196.7,869.8 L1197.9,870.3 L1198.5,870.8 L1198.4,871.3 M1177.5,885.2 L1177.9,886.9 L1178.9,888.6 L1180.5,890.2 L1182.5,891.7 L1184.9,893.1 L1187.5,894.3 L1190.1,895.3 L1192.6,896.3 L1194.8,897.0 L1196.5,897.7 L1197.8,898.3 L1198.4,898.8 L1198.4,899.3 M1177.8,914.7 L1178.7,916.4 L1180.2,918.0 L1182.2,919.5 L1184.6,920.9 L1187.1,922.1 L1189.8,923.2 L1192.3,924.1 L1194.5,924.9 L1196.3,925.6 L1197.7,926.2 L1198.4,926.7 L1198.5,927.2 M1177.7,942.4 L1178.6,944.1 L1180.0,945.8 L1181.9,947.3 L1184.3,948.7 L1186.8,950.0 L1189.4,951.1 L1191.9,952.0 L1194.2,952.8 L1196.1,953.5 L1197.5,954.1 L1198.3,954.6 L1198.5,955.1 M1177.7,970.2 L1178.4,971.9 L1179.8,973.6 L1181.7,975.1 L1183.9,976.5 L1186.4,977.8 L1189.1,978.9 L1191.6,979.9 L1193.9,980.7 L1195.9,981.4 L1197.4,982.0 L1198.2,982.6 L1198.5,983.1 M1177.6,998.0 L1178.3,999.7 L1179.6,1001.3 L1181.4,1002.9 L1183.6,1004.3" fill="none" stroke="#203040" stroke-width="6.4" stroke-opacity="0.22" stroke-linecap="round"/>
<path d="M1188.0,642.5 L1190.6,643.5 L1193.0,644.4 L1195.2,645.2 L1196.8,645.8 L1198.0,646.4 L1198.5,646.9 L1198.3,647.4 M1177.5,661.3 L1177.9,663.0 L1179.0,664.7 L1180.6,666.3 L1182.7,667.8 L1185.1,669.1 L1187.7,670.4 L1190.3,671.4 L1192.7,672.3 L1194.9,673.1 L1196.6,673.7 L1197.8,674.3 L1198.4,674.8 L1198.4,675.3 M1177.5,689.0 L1177.8,690.8 L1178.8,692.5 L1180.3,694.1 L1182.4,695.6 L1184.7,697.0 L1187.3,698.2 L1189.9,699.3 L1192.4,700.2 L1194.6,701.0 L1196.4,701.6 L1197.7,702.2 L1198.4,702.7 L1198.4,703.2 M1177.8,718.5 L1178.6,720.2 L1180.1,721.9 L1182.1,723.4 L1184.4,724.8 L1187.0,726.0 L1189.6,727.1 L1192.1,728.1 L1194.4,728.9 L1196.2,729.6 L1197.6,730.1 L1198.3,730.7 L1198.5,731.2 M1177.7,746.3 L1178.5,748.0 L1179.9,749.7 L1181.8,751.2 L1184.1,752.6 L1186.6,753.9 L1189.2,755.0 L1191.8,756.0 L1194.1,756.8 L1196.0,757.5 L1197.4,758.1 L1198.3,758.6 L1198.5,759.1 M1177.6,774.1 L1178.3,775.8 L1179.7,777.4 L1181.5,779.0 L1183.8,780.4 L1186.3,781.7 L1188.9,782.9 L1191.4,783.9 L1193.8,784.7 L1195.8,785.4 L1197.3,786.0 L1198.2,786.5 L1198.5,787.0 M1177.6,801.8 L1178.2,803.6 L1179.5,805.2 L1181.2,806.8 L1183.4,808.3 L1185.9,809.6 L1188.5,810.7 L1191.1,811.7 L1193.5,812.6 L1195.5,813.3 L1197.1,813.9 L1198.1,814.5 L1198.5,815.0 L1198.2,815.5 M1177.5,829.6 L1178.1,831.3 L1179.3,833.0 L1181.0,834.6 L1183.1,836.1 L1185.6,837.4 L1188.2,838.6 L1190.8,839.6 L1193.2,840.5 L1195.3,841.2 L1196.9,841.8 L1198.0,842.4 L1198.5,842.9 L1198.3,843.4 M1177.5,857.4 L1178.0,859.1 L1179.1,860.8 L1180.7,862.4 L1182.8,863.9 L1185.2,865.2 L1187.8,866.4 L1190.4,867.5 L1192.9,868.4 L1195.0,869.1 L1196.7,869.8 L1197.9,870.3 L1198.5,870.8 L1198.4,871.3 M1177.5,885.2 L1177.9,886.9 L1178.9,888.6 L1180.5,890.2 L1182.5,891.7 L1184.9,893.1 L1187.5,894.3 L1190.1,895.3 L1192.6,896.3 L1194.8,897.0 L1196.5,897.7 L1197.8,898.3 L1198.4,898.8 L1198.4,899.3 M1177.8,914.7 L1178.7,916.4 L1180.2,918.0 L1182.2,919.5 L1184.6,920.9 L1187.1,922.1 L1189.8,923.2 L1192.3,924.1 L1194.5,924.9 L1196.3,925.6 L1197.7,926.2 L1198.4,926.7 L1198.5,927.2 M1177.7,942.4 L1178.6,944.1 L1180.0,945.8 L1181.9,947.3 L1184.3,948.7 L1186.8,950.0 L1189.4,951.1 L1191.9,952.0 L1194.2,952.8 L1196.1,953.5 L1197.5,954.1 L1198.3,954.6 L1198.5,955.1 M1177.7,970.2 L1178.4,971.9 L1179.8,973.6 L1181.7,975.1 L1183.9,976.5 L1186.4,977.8 L1189.1,978.9 L1191.6,979.9 L1193.9,980.7 L1195.9,981.4 L1197.4,982.0 L1198.2,982.6 L1198.5,983.1 M1177.6,998.0 L1178.3,999.7 L1179.6,1001.3 L1181.4,1002.9 L1183.6,1004.3" fill="none" stroke="url(#hg0)" stroke-width="5.4" stroke-opacity="0.86" stroke-linecap="round"/>
<path d="M1230.8,651.4 L1232.0,651.9 L1232.5,652.4 L1232.3,652.9 M1211.5,666.8 L1211.9,668.5 L1213.0,670.2 L1214.6,671.8 L1216.7,673.3 L1219.1,674.7 L1221.7,675.9 L1224.3,677.0 L1226.7,677.9 L1228.9,678.6 L1230.6,679.3 L1231.8,679.8 L1232.4,680.3 L1232.4,680.8 M1211.5,694.6 L1211.8,696.3 L1212.8,698.0 L1214.3,699.6 L1216.4,701.1 L1218.7,702.5 L1221.3,703.7 L1223.9,704.8 L1226.4,705.7 L1228.6,706.5 L1230.4,707.2 L1231.7,707.8 L1232.4,708.3 L1232.4,708.8 M1211.8,724.1 L1212.6,725.8 L1214.1,727.4 L1216.1,728.9 L1218.4,730.3 L1221.0,731.6 L1223.6,732.7 L1226.1,733.6 L1228.4,734.4 L1230.2,735.1 L1231.6,735.7 L1232.3,736.2 L1232.5,736.7 M1211.7,751.8 L1212.5,753.6 L1213.9,755.2 L1215.8,756.7 L1218.1,758.2 L1220.6,759.4 L1223.2,760.5 L1225.8,761.5 L1228.1,762.3 L1230.0,763.0 L1231.4,763.6 L1232.3,764.1 L1232.5,764.6 M1211.6,779.6 L1212.3,781.3 L1213.7,783.0 L1215.5,784.5 L1217.8,786.0 L1220.3,787.3 L1222.9,788.4 L1225.4,789.4 L1227.8,790.2 L1229.8,790.9 L1231.3,791.5 L1232.2,792.1 L1232.5,792.6 M1211.6,807.4 L1212.2,809.1 L1213.5,810.8 L1215.2,812.3 L1217.4,813.8 L1219.9,815.1 L1222.5,816.3 L1225.1,817.3 L1227.5,818.1 L1229.5,818.9 L1231.1,819.5 L1232.1,820.0 L1232.5,820.5 L1232.2,821.0 M1211.5,835.2 L1212.1,836.9 L1213.3,838.6 L1215.0,840.1 L1217.1,841.6 L1219.6,842.9 L1222.2,844.1 L1224.8,845.1 L1227.2,846.0 L1229.3,846.8 L1230.9,847.4 L1232.0,847.9 L1232.5,848.4 L1232.3,848.9 M1211.5,862.9 L1212.0,864.7 L1213.1,866.3 L1214.7,867.9 L1216.8,869.4 L1219.2,870.8 L1221.8,872.0 L1224.4,873.0 L1226.9,873.9 L1229.0,874.7 L1230.7,875.3 L1231.9,875.9 L1232.5,876.4 L1232.4,876.9 M1211.5,890.7 L1211.9,892.4 L1212.9,894.1 L1214.5,895.7 L1216.5,897.2 L1218.9,898.6 L1221.5,899.8 L1224.1,900.9 L1226.6,901.8 L1228.8,902.6 L1230.5,903.2 L1231.8,903.8 L1232.4,904.3 L1232.4,904.8 M1211.8,920.2 L1212.7,921.9 L1214.2,923.5 L1216.2,925.0 L1218.6,926.4 L1221.1,927.7 L1223.8,928.8 L1226.3,929.7 L1228.5,930.5 L1230.3,931.2 L1231.7,931.7 L1232.4,932.2 L1232.5,932.7 M1211.7,948.0 L1212.6,949.7 L1214.0,951.3 L1215.9,952.8 L1218.3,954.3 L1220.8,955.5 L1223.4,956.6 L1225.9,957.6 L1228.2,958.4 L1230.1,959.1 L1231.5,959.7 L1232.3,960.2 L1232.5,960.7 M1211.7,975.7 L1212.4,977.5 L1213.8,979.1 L1215.7,980.6 L1217.9,982.1 L1220.4,983.4 L1223.1,984.5 L1225.6,985.5 L1227.9,986.3 L1229.9,987.0 L1231.4,987.6 L1232.2,988.1 L1232.5,988.6 M1211.6,1003.5 L1212.3,1005.2 L1213.6,1006.9 L1215.4,1008.4 L1217.6,1009.9 L1220.1,1011.2 L1222.7,1012.3 L1225.3,1013.3 L1227.7,1014.2 L1229.7,1014.9" fill="none" stroke="#203040" stroke-width="6.4" stroke-opacity="0.22" stroke-linecap="round"/>
<path d="M1230.8,651.4 L1232.0,651.9 L1232.5,652.4 L1232.3,652.9 M1211.5,666.8 L1211.9,668.5 L1213.0,670.2 L1214.6,671.8 L1216.7,673.3 L1219.1,674.7 L1221.7,675.9 L1224.3,677.0 L1226.7,677.9 L1228.9,678.6 L1230.6,679.3 L1231.8,679.8 L1232.4,680.3 L1232.4,680.8 M1211.5,694.6 L1211.8,696.3 L1212.8,698.0 L1214.3,699.6 L1216.4,701.1 L1218.7,702.5 L1221.3,703.7 L1223.9,704.8 L1226.4,705.7 L1228.6,706.5 L1230.4,707.2 L1231.7,707.8 L1232.4,708.3 L1232.4,708.8 M1211.8,724.1 L1212.6,725.8 L1214.1,727.4 L1216.1,728.9 L1218.4,730.3 L1221.0,731.6 L1223.6,732.7 L1226.1,733.6 L1228.4,734.4 L1230.2,735.1 L1231.6,735.7 L1232.3,736.2 L1232.5,736.7 M1211.7,751.8 L1212.5,753.6 L1213.9,755.2 L1215.8,756.7 L1218.1,758.2 L1220.6,759.4 L1223.2,760.5 L1225.8,761.5 L1228.1,762.3 L1230.0,763.0 L1231.4,763.6 L1232.3,764.1 L1232.5,764.6 M1211.6,779.6 L1212.3,781.3 L1213.7,783.0 L1215.5,784.5 L1217.8,786.0 L1220.3,787.3 L1222.9,788.4 L1225.4,789.4 L1227.8,790.2 L1229.8,790.9 L1231.3,791.5 L1232.2,792.1 L1232.5,792.6 M1211.6,807.4 L1212.2,809.1 L1213.5,810.8 L1215.2,812.3 L1217.4,813.8 L1219.9,815.1 L1222.5,816.3 L1225.1,817.3 L1227.5,818.1 L1229.5,818.9 L1231.1,819.5 L1232.1,820.0 L1232.5,820.5 L1232.2,821.0 M1211.5,835.2 L1212.1,836.9 L1213.3,838.6 L1215.0,840.1 L1217.1,841.6 L1219.6,842.9 L1222.2,844.1 L1224.8,845.1 L1227.2,846.0 L1229.3,846.8 L1230.9,847.4 L1232.0,847.9 L1232.5,848.4 L1232.3,848.9 M1211.5,862.9 L1212.0,864.7 L1213.1,866.3 L1214.7,867.9 L1216.8,869.4 L1219.2,870.8 L1221.8,872.0 L1224.4,873.0 L1226.9,873.9 L1229.0,874.7 L1230.7,875.3 L1231.9,875.9 L1232.5,876.4 L1232.4,876.9 M1211.5,890.7 L1211.9,892.4 L1212.9,894.1 L1214.5,895.7 L1216.5,897.2 L1218.9,898.6 L1221.5,899.8 L1224.1,900.9 L1226.6,901.8 L1228.8,902.6 L1230.5,903.2 L1231.8,903.8 L1232.4,904.3 L1232.4,904.8 M1211.8,920.2 L1212.7,921.9 L1214.2,923.5 L1216.2,925.0 L1218.6,926.4 L1221.1,927.7 L1223.8,928.8 L1226.3,929.7 L1228.5,930.5 L1230.3,931.2 L1231.7,931.7 L1232.4,932.2 L1232.5,932.7 M1211.7,948.0 L1212.6,949.7 L1214.0,951.3 L1215.9,952.8 L1218.3,954.3 L1220.8,955.5 L1223.4,956.6 L1225.9,957.6 L1228.2,958.4 L1230.1,959.1 L1231.5,959.7 L1232.3,960.2 L1232.5,960.7 M1211.7,975.7 L1212.4,977.5 L1213.8,979.1 L1215.7,980.6 L1217.9,982.1 L1220.4,983.4 L1223.1,984.5 L1225.6,985.5 L1227.9,986.3 L1229.9,987.0 L1231.4,987.6 L1232.2,988.1 L1232.5,988.6 M1211.6,1003.5 L1212.3,1005.2 L1213.6,1006.9 L1215.4,1008.4 L1217.6,1009.9 L1220.1,1011.2 L1222.7,1012.3 L1225.3,1013.3 L1227.7,1014.2 L1229.7,1014.9" fill="none" stroke="url(#hg1)" stroke-width="5.4" stroke-opacity="0.86" stroke-linecap="round"/>
<path d="M1236.6,712.6 L1237.3,714.3 L1238.6,716.0 L1240.4,717.5 L1242.6,719.0 L1245.1,720.3 L1247.7,721.4 L1250.3,722.4 L1252.6,723.3 L1254.7,724.0 L1256.2,724.6 L1257.2,725.1 L1257.5,725.6 L1257.2,726.1 M1236.6,740.4 L1237.2,742.1 L1238.4,743.8 L1240.1,745.3 L1242.3,746.8 L1244.7,748.1 L1247.4,749.3 L1249.9,750.3 L1252.3,751.2 L1254.4,751.9 L1256.0,752.5 L1257.1,753.1 L1257.5,753.6 L1257.3,754.1 M1236.5,768.1 L1237.0,769.9 L1238.2,771.5 L1239.8,773.1 L1242.0,774.6 L1244.4,776.0 L1247.0,777.1 L1249.6,778.2 L1252.0,779.1 L1254.2,779.8 L1255.8,780.4 L1257.0,781.0 L1257.5,781.5 L1257.3,782.0 M1236.5,795.9 L1236.9,797.6 L1238.0,799.3 L1239.6,800.9 L1241.7,802.4 L1244.1,803.8 L1246.7,805.0 L1249.3,806.1 L1251.7,807.0 L1253.9,807.7 L1255.6,808.4 L1256.9,808.9 L1257.4,809.4 L1257.4,809.9 M1236.5,823.7 L1236.8,825.4 L1237.8,827.1 L1239.4,828.7 L1241.4,830.2 L1243.7,831.6 L1246.3,832.8 L1248.9,833.9 L1251.4,834.8 L1253.6,835.6 L1255.4,836.3 L1256.7,836.9 L1257.4,837.4 L1257.4,837.9 M1236.8,853.2 L1237.6,854.9 L1239.1,856.5 L1241.1,858.0 L1243.4,859.4 L1246.0,860.7 L1248.6,861.8 L1251.1,862.7 L1253.4,863.5 L1255.2,864.2 L1256.6,864.8 L1257.3,865.3 L1257.5,865.8 M1236.7,881.0 L1237.5,882.7 L1238.9,884.3 L1240.8,885.8 L1243.1,887.3 L1245.6,888.5 L1248.2,889.6 L1250.8,890.6 L1253.1,891.4 L1255.0,892.1 L1256.4,892.7 L1257.3,893.2 L1257.5,893.7 M1236.6,908.7 L1237.4,910.4 L1238.7,912.1 L1240.5,913.6 L1242.8,915.1 L1245.3,916.4 L1247.9,917.5 L1250.4,918.5 L1252.8,919.3 L1254.8,920.0 L1256.3,920.6 L1257.2,921.2 L1257.5,921.7 M1236.6,936.5 L1237.2,938.2 L1238.5,939.9 L1240.2,941.4 L1242.4,942.9 L1244.9,944.2 L1247.5,945.4 L1250.1,946.4 L1252.5,947.2 L1254.5,948.0 L1256.1,948.6 L1257.1,949.1 L1257.5,949.6 L1257.2,950.1 M1236.5,964.3 L1237.1,966.0 L1238.3,967.7 L1240.0,969.2 L1242.1,970.7 L1244.6,972.0 L1247.2,973.2 L1249.8,974.2 L1252.2,975.1 L1254.3,975.9 L1255.9,976.5 L1257.0,977.0 L1257.5,977.5 L1257.3,978.0 M1236.5,992.0 L1237.0,993.8 L1238.1,995.4 L1239.7,997.0 L1241.8,998.5 L1244.2,999.9 L1246.8,1001.1 L1249.4,1002.1 L1251.9,1003.0 L1254.0,1003.8 L1255.7,1004.4 L1256.9,1005.0 L1257.5,1005.5 L1257.4,1006.0 M1236.5,1019.8 L1236.9,1021.5 L1237.9,1023.2 L1239.5,1024.8" fill="none" stroke="#203040" stroke-width="6.4" stroke-opacity="0.22" stroke-linecap="round"/>
<path d="M1236.6,712.6 L1237.3,714.3 L1238.6,716.0 L1240.4,717.5 L1242.6,719.0 L1245.1,720.3 L1247.7,721.4 L1250.3,722.4 L1252.6,723.3 L1254.7,724.0 L1256.2,724.6 L1257.2,725.1 L1257.5,725.6 L1257.2,726.1 M1236.6,740.4 L1237.2,742.1 L1238.4,743.8 L1240.1,745.3 L1242.3,746.8 L1244.7,748.1 L1247.4,749.3 L1249.9,750.3 L1252.3,751.2 L1254.4,751.9 L1256.0,752.5 L1257.1,753.1 L1257.5,753.6 L1257.3,754.1 M1236.5,768.1 L1237.0,769.9 L1238.2,771.5 L1239.8,773.1 L1242.0,774.6 L1244.4,776.0 L1247.0,777.1 L1249.6,778.2 L1252.0,779.1 L1254.2,779.8 L1255.8,780.4 L1257.0,781.0 L1257.5,781.5 L1257.3,782.0 M1236.5,795.9 L1236.9,797.6 L1238.0,799.3 L1239.6,800.9 L1241.7,802.4 L1244.1,803.8 L1246.7,805.0 L1249.3,806.1 L1251.7,807.0 L1253.9,807.7 L1255.6,808.4 L1256.9,808.9 L1257.4,809.4 L1257.4,809.9 M1236.5,823.7 L1236.8,825.4 L1237.8,827.1 L1239.4,828.7 L1241.4,830.2 L1243.7,831.6 L1246.3,832.8 L1248.9,833.9 L1251.4,834.8 L1253.6,835.6 L1255.4,836.3 L1256.7,836.9 L1257.4,837.4 L1257.4,837.9 M1236.8,853.2 L1237.6,854.9 L1239.1,856.5 L1241.1,858.0 L1243.4,859.4 L1246.0,860.7 L1248.6,861.8 L1251.1,862.7 L1253.4,863.5 L1255.2,864.2 L1256.6,864.8 L1257.3,865.3 L1257.5,865.8 M1236.7,881.0 L1237.5,882.7 L1238.9,884.3 L1240.8,885.8 L1243.1,887.3 L1245.6,888.5 L1248.2,889.6 L1250.8,890.6 L1253.1,891.4 L1255.0,892.1 L1256.4,892.7 L1257.3,893.2 L1257.5,893.7 M1236.6,908.7 L1237.4,910.4 L1238.7,912.1 L1240.5,913.6 L1242.8,915.1 L1245.3,916.4 L1247.9,917.5 L1250.4,918.5 L1252.8,919.3 L1254.8,920.0 L1256.3,920.6 L1257.2,921.2 L1257.5,921.7 M1236.6,936.5 L1237.2,938.2 L1238.5,939.9 L1240.2,941.4 L1242.4,942.9 L1244.9,944.2 L1247.5,945.4 L1250.1,946.4 L1252.5,947.2 L1254.5,948.0 L1256.1,948.6 L1257.1,949.1 L1257.5,949.6 L1257.2,950.1 M1236.5,964.3 L1237.1,966.0 L1238.3,967.7 L1240.0,969.2 L1242.1,970.7 L1244.6,972.0 L1247.2,973.2 L1249.8,974.2 L1252.2,975.1 L1254.3,975.9 L1255.9,976.5 L1257.0,977.0 L1257.5,977.5 L1257.3,978.0 M1236.5,992.0 L1237.0,993.8 L1238.1,995.4 L1239.7,997.0 L1241.8,998.5 L1244.2,999.9 L1246.8,1001.1 L1249.4,1002.1 L1251.9,1003.0 L1254.0,1003.8 L1255.7,1004.4 L1256.9,1005.0 L1257.5,1005.5 L1257.4,1006.0 M1236.5,1019.8 L1236.9,1021.5 L1237.9,1023.2 L1239.5,1024.8" fill="none" stroke="url(#hg2)" stroke-width="5.4" stroke-opacity="0.86" stroke-linecap="round"/>
<path d="M1257.5,657.9 L1257.9,659.6 L1259.0,661.3 L1260.6,662.9 L1262.7,664.4 L1265.1,665.8 L1267.7,667.0 L1270.3,668.0 L1272.7,668.9 L1274.9,669.7 L1276.6,670.4 L1277.8,670.9 L1278.4,671.4 L1278.4,671.9 M1257.5,685.7 L1257.8,687.4 L1258.8,689.1 L1260.3,690.7 L1262.4,692.2 L1264.7,693.6 L1267.3,694.8 L1269.9,695.9 L1272.4,696.8 L1274.6,697.6 L1276.4,698.3 L1277.7,698.8 L1278.4,699.4 L1278.4,699.9 M1257.8,715.2 L1258.6,716.9 L1260.1,718.5 L1262.1,720.0 L1264.4,721.4 L1267.0,722.7 L1269.6,723.8 L1272.1,724.7 L1274.4,725.5 L1276.2,726.2 L1277.6,726.8 L1278.3,727.3 L1278.5,727.8 M1257.7,742.9 L1258.5,744.6 L1259.9,746.3 L1261.8,747.8 L1264.1,749.2 L1266.6,750.5 L1269.2,751.6 L1271.8,752.6 L1274.1,753.4 L1276.0,754.1 L1277.4,754.7 L1278.3,755.2 L1278.5,755.7 M1257.6,770.7 L1258.3,772.4 L1259.7,774.1 L1261.5,775.6 L1263.8,777.1 L1266.3,778.4 L1268.9,779.5 L1271.4,780.5 L1273.8,781.3 L1275.8,782.0 L1277.3,782.6 L1278.2,783.2 L1278.5,783.7 M1257.6,798.5 L1258.2,800.2 L1259.5,801.9 L1261.2,803.4 L1263.4,804.9 L1265.9,806.2 L1268.5,807.4 L1271.1,808.4 L1273.5,809.2 L1275.5,809.9 L1277.1,810.6 L1278.1,811.1 L1278.5,811.6 L1278.2,812.1 M1257.5,826.2 L1258.1,828.0 L1259.3,829.6 L1261.0,831.2 L1263.1,832.7 L1265.6,834.0 L1268.2,835.2 L1270.8,836.2 L1273.2,837.1 L1275.3,837.9 L1276.9,838.5 L1278.0,839.0 L1278.5,839.5 L1278.3,840.0 M1257.5,854.0 L1258.0,855.7 L1259.1,857.4 L1260.7,859.0 L1262.8,860.5 L1265.2,861.9 L1267.8,863.1 L1270.4,864.1 L1272.9,865.0 L1275.0,865.8 L1276.7,866.4 L1277.9,867.0 L1278.5,867.5 L1278.4,868.0 M1257.5,881.8 L1257.9,883.5 L1258.9,885.2 L1260.5,886.8 L1262.5,888.3 L1264.9,889.7 L1267.5,890.9 L1270.1,892.0 L1272.6,892.9 L1274.8,893.7 L1276.5,894.3 L1277.8,894.9 L1278.4,895.4 L1278.4,895.9 M1257.8,911.3 L1258.7,913.0 L1260.2,914.6 L1262.2,916.1 L1264.6,917.5 L1267.1,918.8 L1269.8,919.8 L1272.3,920.8 L1274.5,921.6 L1276.3,922.2 L1277.7,922.8 L1278.4,923.3 L1278.5,923.8 M1257.7,939.1 L1258.6,940.8 L1260.0,942.4 L1261.9,943.9 L1264.3,945.3 L1266.8,946.6 L1269.4,947.7 L1271.9,948.7 L1274.2,949.5 L1276.1,950.2 L1277.5,950.7 L1278.3,951.3 L1278.5,951.8 M1257.7,966.8 L1258.4,968.5 L1259.8,970.2 L1261.7,971.7 L1263.9,973.2 L1266.4,974.4 L1269.1,975.6 L1271.6,976.5 L1273.9,977.4 L1275.9,978.1 L1277.4,978.7 L1278.2,979.2 L1278.5,979.7 M1257.6,994.6 L1258.3,996.3 L1259.6,998.0 L1261.4,999.5" fill="none" stroke="#203040" stroke-width="6.4" stroke-opacity="0.22" stroke-linecap="round"/>
<path d="M1257.5,657.9 L1257.9,659.6 L1259.0,661.3 L1260.6,662.9 L1262.7,664.4 L1265.1,665.8 L1267.7,667.0 L1270.3,668.0 L1272.7,668.9 L1274.9,669.7 L1276.6,670.4 L1277.8,670.9 L1278.4,671.4 L1278.4,671.9 M1257.5,685.7 L1257.8,687.4 L1258.8,689.1 L1260.3,690.7 L1262.4,692.2 L1264.7,693.6 L1267.3,694.8 L1269.9,695.9 L1272.4,696.8 L1274.6,697.6 L1276.4,698.3 L1277.7,698.8 L1278.4,699.4 L1278.4,699.9 M1257.8,715.2 L1258.6,716.9 L1260.1,718.5 L1262.1,720.0 L1264.4,721.4 L1267.0,722.7 L1269.6,723.8 L1272.1,724.7 L1274.4,725.5 L1276.2,726.2 L1277.6,726.8 L1278.3,727.3 L1278.5,727.8 M1257.7,742.9 L1258.5,744.6 L1259.9,746.3 L1261.8,747.8 L1264.1,749.2 L1266.6,750.5 L1269.2,751.6 L1271.8,752.6 L1274.1,753.4 L1276.0,754.1 L1277.4,754.7 L1278.3,755.2 L1278.5,755.7 M1257.6,770.7 L1258.3,772.4 L1259.7,774.1 L1261.5,775.6 L1263.8,777.1 L1266.3,778.4 L1268.9,779.5 L1271.4,780.5 L1273.8,781.3 L1275.8,782.0 L1277.3,782.6 L1278.2,783.2 L1278.5,783.7 M1257.6,798.5 L1258.2,800.2 L1259.5,801.9 L1261.2,803.4 L1263.4,804.9 L1265.9,806.2 L1268.5,807.4 L1271.1,808.4 L1273.5,809.2 L1275.5,809.9 L1277.1,810.6 L1278.1,811.1 L1278.5,811.6 L1278.2,812.1 M1257.5,826.2 L1258.1,828.0 L1259.3,829.6 L1261.0,831.2 L1263.1,832.7 L1265.6,834.0 L1268.2,835.2 L1270.8,836.2 L1273.2,837.1 L1275.3,837.9 L1276.9,838.5 L1278.0,839.0 L1278.5,839.5 L1278.3,840.0 M1257.5,854.0 L1258.0,855.7 L1259.1,857.4 L1260.7,859.0 L1262.8,860.5 L1265.2,861.9 L1267.8,863.1 L1270.4,864.1 L1272.9,865.0 L1275.0,865.8 L1276.7,866.4 L1277.9,867.0 L1278.5,867.5 L1278.4,868.0 M1257.5,881.8 L1257.9,883.5 L1258.9,885.2 L1260.5,886.8 L1262.5,888.3 L1264.9,889.7 L1267.5,890.9 L1270.1,892.0 L1272.6,892.9 L1274.8,893.7 L1276.5,894.3 L1277.8,894.9 L1278.4,895.4 L1278.4,895.9 M1257.8,911.3 L1258.7,913.0 L1260.2,914.6 L1262.2,916.1 L1264.6,917.5 L1267.1,918.8 L1269.8,919.8 L1272.3,920.8 L1274.5,921.6 L1276.3,922.2 L1277.7,922.8 L1278.4,923.3 L1278.5,923.8 M1257.7,939.1 L1258.6,940.8 L1260.0,942.4 L1261.9,943.9 L1264.3,945.3 L1266.8,946.6 L1269.4,947.7 L1271.9,948.7 L1274.2,949.5 L1276.1,950.2 L1277.5,950.7 L1278.3,951.3 L1278.5,951.8 M1257.7,966.8 L1258.4,968.5 L1259.8,970.2 L1261.7,971.7 L1263.9,973.2 L1266.4,974.4 L1269.1,975.6 L1271.6,976.5 L1273.9,977.4 L1275.9,978.1 L1277.4,978.7 L1278.2,979.2 L1278.5,979.7 M1257.6,994.6 L1258.3,996.3 L1259.6,998.0 L1261.4,999.5" fill="none" stroke="url(#hg3)" stroke-width="5.4" stroke-opacity="0.86" stroke-linecap="round"/>
<path d="M1297.0,642.2 L1299.2,642.9 L1300.8,643.6 L1302.0,644.1 L1302.5,644.6 L1302.3,645.1 M1281.5,659.0 L1281.9,660.8 L1283.0,662.4 L1284.6,664.1 L1286.7,665.5 L1289.1,666.9 L1291.7,668.1 L1294.3,669.2 L1296.7,670.1 L1298.9,670.9 L1300.6,671.5 L1301.8,672.1 L1302.4,672.6 L1302.4,673.1 M1281.5,686.8 L1281.8,688.5 L1282.8,690.2 L1284.3,691.8 L1286.4,693.4 L1288.7,694.7 L1291.3,696.0 L1293.9,697.0 L1296.4,698.0 L1298.6,698.8 L1300.4,699.4 L1301.7,700.0 L1302.4,700.5 L1302.4,701.0 M1281.8,716.3 L1282.6,718.0 L1284.1,719.6 L1286.1,721.2 L1288.4,722.6 L1291.0,723.8 L1293.6,724.9 L1296.1,725.9 L1298.4,726.7 L1300.2,727.3 L1301.6,727.9 L1302.3,728.4 L1302.5,728.9 M1281.7,744.1 L1282.5,745.8 L1283.9,747.4 L1285.8,749.0 L1288.1,750.4 L1290.6,751.7 L1293.2,752.8 L1295.8,753.7 L1298.1,754.6 L1300.0,755.3 L1301.4,755.8 L1302.3,756.4 L1302.5,756.9 M1281.6,771.8 L1282.3,773.6 L1283.7,775.2 L1285.5,776.8 L1287.8,778.2 L1290.3,779.5 L1292.9,780.6 L1295.4,781.6 L1297.8,782.5 L1299.8,783.2 L1301.3,783.8 L1302.2,784.3 L1302.5,784.8 M1281.6,799.6 L1282.2,801.3 L1283.5,803.0 L1285.2,804.6 L1287.4,806.0 L1289.9,807.3 L1292.5,808.5 L1295.1,809.5 L1297.5,810.4 L1299.5,811.1 L1301.1,811.7 L1302.1,812.2 L1302.5,812.7 L1302.2,813.2 M1281.5,827.4 L1282.1,829.1 L1283.3,830.8 L1285.0,832.4 L1287.1,833.8 L1289.6,835.2 L1292.2,836.4 L1294.8,837.4 L1297.2,838.3 L1299.3,839.0 L1300.9,839.6 L1302.0,840.2 L1302.5,840.7 L1302.3,841.2 M1281.5,855.2 L1282.0,856.9 L1283.1,858.6 L1284.7,860.2 L1286.8,861.6 L1289.2,863.0 L1291.8,864.2 L1294.4,865.2 L1296.9,866.1 L1299.0,866.9 L1300.7,867.5 L1301.9,868.1 L1302.5,868.6 L1302.4,869.1 M1281.5,882.9 L1281.9,884.7 L1282.9,886.3 L1284.5,888.0 L1286.5,889.5 L1288.9,890.8 L1291.5,892.1 L1294.1,893.1 L1296.6,894.0 L1298.8,894.8 L1300.5,895.5 L1301.8,896.0 L1302.4,896.5 L1302.4,897.0 M1281.8,912.4 L1282.7,914.1 L1284.2,915.7 L1286.2,917.3 L1288.6,918.7 L1291.1,919.9 L1293.8,921.0 L1296.3,921.9 L1298.5,922.7 L1300.3,923.4 L1301.7,924.0 L1302.4,924.5 L1302.5,925.0 M1281.7,940.2 L1282.6,941.9 L1284.0,943.5 L1285.9,945.1 L1288.3,946.5 L1290.8,947.7 L1293.4,948.9 L1295.9,949.8 L1298.2,950.6 L1300.1,951.3 L1301.5,951.9 L1302.3,952.4 L1302.5,952.9 M1281.7,968.0 L1282.4,969.7 L1283.8,971.3 L1285.7,972.9 L1287.9,974.3 L1290.4,975.6 L1293.1,976.7 L1295.6,977.7 L1297.9,978.5 L1299.9,979.2 L1301.4,979.8 L1302.2,980.3 L1302.5,980.8 M1281.6,995.7 L1282.3,997.5 L1283.6,999.1" fill="none" stroke="#203040" stroke-width="6.4" stroke-opacity="0.22" stroke-linecap="round"/>
<path d="M1297.0,642.2 L1299.2,642.9 L1300.8,643.6 L1302.0,644.1 L1302.5,644.6 L1302.3,645.1 M1281.5,659.0 L1281.9,660.8 L1283.0,662.4 L1284.6,664.1 L1286.7,665.5 L1289.1,666.9 L1291.7,668.1 L1294.3,669.2 L1296.7,670.1 L1298.9,670.9 L1300.6,671.5 L1301.8,672.1 L1302.4,672.6 L1302.4,673.1 M1281.5,686.8 L1281.8,688.5 L1282.8,690.2 L1284.3,691.8 L1286.4,693.4 L1288.7,694.7 L1291.3,696.0 L1293.9,697.0 L1296.4,698.0 L1298.6,698.8 L1300.4,699.4 L1301.7,700.0 L1302.4,700.5 L1302.4,701.0 M1281.8,716.3 L1282.6,718.0 L1284.1,719.6 L1286.1,721.2 L1288.4,722.6 L1291.0,723.8 L1293.6,724.9 L1296.1,725.9 L1298.4,726.7 L1300.2,727.3 L1301.6,727.9 L1302.3,728.4 L1302.5,728.9 M1281.7,744.1 L1282.5,745.8 L1283.9,747.4 L1285.8,749.0 L1288.1,750.4 L1290.6,751.7 L1293.2,752.8 L1295.8,753.7 L1298.1,754.6 L1300.0,755.3 L1301.4,755.8 L1302.3,756.4 L1302.5,756.9 M1281.6,771.8 L1282.3,773.6 L1283.7,775.2 L1285.5,776.8 L1287.8,778.2 L1290.3,779.5 L1292.9,780.6 L1295.4,781.6 L1297.8,782.5 L1299.8,783.2 L1301.3,783.8 L1302.2,784.3 L1302.5,784.8 M1281.6,799.6 L1282.2,801.3 L1283.5,803.0 L1285.2,804.6 L1287.4,806.0 L1289.9,807.3 L1292.5,808.5 L1295.1,809.5 L1297.5,810.4 L1299.5,811.1 L1301.1,811.7 L1302.1,812.2 L1302.5,812.7 L1302.2,813.2 M1281.5,827.4 L1282.1,829.1 L1283.3,830.8 L1285.0,832.4 L1287.1,833.8 L1289.6,835.2 L1292.2,836.4 L1294.8,837.4 L1297.2,838.3 L1299.3,839.0 L1300.9,839.6 L1302.0,840.2 L1302.5,840.7 L1302.3,841.2 M1281.5,855.2 L1282.0,856.9 L1283.1,858.6 L1284.7,860.2 L1286.8,861.6 L1289.2,863.0 L1291.8,864.2 L1294.4,865.2 L1296.9,866.1 L1299.0,866.9 L1300.7,867.5 L1301.9,868.1 L1302.5,868.6 L1302.4,869.1 M1281.5,882.9 L1281.9,884.7 L1282.9,886.3 L1284.5,888.0 L1286.5,889.5 L1288.9,890.8 L1291.5,892.1 L1294.1,893.1 L1296.6,894.0 L1298.8,894.8 L1300.5,895.5 L1301.8,896.0 L1302.4,896.5 L1302.4,897.0 M1281.8,912.4 L1282.7,914.1 L1284.2,915.7 L1286.2,917.3 L1288.6,918.7 L1291.1,919.9 L1293.8,921.0 L1296.3,921.9 L1298.5,922.7 L1300.3,923.4 L1301.7,924.0 L1302.4,924.5 L1302.5,925.0 M1281.7,940.2 L1282.6,941.9 L1284.0,943.5 L1285.9,945.1 L1288.3,946.5 L1290.8,947.7 L1293.4,948.9 L1295.9,949.8 L1298.2,950.6 L1300.1,951.3 L1301.5,951.9 L1302.3,952.4 L1302.5,952.9 M1281.7,968.0 L1282.4,969.7 L1283.8,971.3 L1285.7,972.9 L1287.9,974.3 L1290.4,975.6 L1293.1,976.7 L1295.6,977.7 L1297.9,978.5 L1299.9,979.2 L1301.4,979.8 L1302.2,980.3 L1302.5,980.8 M1281.6,995.7 L1282.3,997.5 L1283.6,999.1" fill="none" stroke="url(#hg4)" stroke-width="5.4" stroke-opacity="0.86" stroke-linecap="round"/>
<path d="M1302.6,674.8 L1303.3,676.5 L1304.6,678.2 L1306.4,679.8 L1308.6,681.2 L1311.1,682.5 L1313.7,683.7 L1316.3,684.7 L1318.6,685.5 L1320.7,686.2 L1322.2,686.8 L1323.2,687.4 L1323.5,687.9 L1323.2,688.4 M1302.6,702.6 L1303.2,704.3 L1304.4,706.0 L1306.1,707.6 L1308.3,709.0 L1310.7,710.3 L1313.4,711.5 L1315.9,712.5 L1318.3,713.4 L1320.4,714.1 L1322.0,714.8 L1323.1,715.3 L1323.5,715.8 L1323.3,716.3 M1302.5,730.4 L1303.0,732.1 L1304.2,733.8 L1305.8,735.4 L1308.0,736.8 L1310.4,738.2 L1313.0,739.4 L1315.6,740.4 L1318.0,741.3 L1320.2,742.0 L1321.8,742.7 L1323.0,743.2 L1323.5,743.7 L1323.3,744.2 M1302.5,758.1 L1302.9,759.9 L1304.0,761.5 L1305.6,763.2 L1307.7,764.6 L1310.1,766.0 L1312.7,767.2 L1315.3,768.3 L1317.7,769.2 L1319.9,770.0 L1321.6,770.6 L1322.9,771.2 L1323.4,771.7 L1323.4,772.2 M1302.5,785.9 L1302.8,787.6 L1303.8,789.3 L1305.4,790.9 L1307.4,792.5 L1309.7,793.8 L1312.3,795.1 L1314.9,796.1 L1317.4,797.1 L1319.6,797.9 L1321.4,798.5 L1322.7,799.1 L1323.4,799.6 L1323.4,800.1 M1302.8,815.4 L1303.6,817.1 L1305.1,818.7 L1307.1,820.3 L1309.4,821.7 L1312.0,822.9 L1314.6,824.0 L1317.1,825.0 L1319.4,825.8 L1321.2,826.4 L1322.6,827.0 L1323.3,827.5 L1323.5,828.0 M1302.7,843.2 L1303.5,844.9 L1304.9,846.5 L1306.8,848.1 L1309.1,849.5 L1311.6,850.8 L1314.2,851.9 L1316.8,852.8 L1319.1,853.7 L1321.0,854.4 L1322.4,854.9 L1323.3,855.5 L1323.5,856.0 M1302.6,870.9 L1303.4,872.7 L1304.7,874.3 L1306.5,875.9 L1308.8,877.3 L1311.3,878.6 L1313.9,879.7 L1316.4,880.7 L1318.8,881.6 L1320.8,882.3 L1322.3,882.9 L1323.2,883.4 L1323.5,883.9 M1302.6,898.7 L1303.2,900.4 L1304.5,902.1 L1306.2,903.7 L1308.4,905.1 L1310.9,906.4 L1313.5,907.6 L1316.1,908.6 L1318.5,909.5 L1320.5,910.2 L1322.1,910.8 L1323.1,911.3 L1323.5,911.8 L1323.2,912.3 M1302.5,926.5 L1303.1,928.2 L1304.3,929.9 L1306.0,931.5 L1308.1,932.9 L1310.6,934.3 L1313.2,935.5 L1315.8,936.5 L1318.2,937.4 L1320.3,938.1 L1321.9,938.7 L1323.0,939.3 L1323.5,939.8 L1323.3,940.3 M1302.5,954.3 L1303.0,956.0 L1304.1,957.7 L1305.7,959.3 L1307.8,960.8 L1310.2,962.1 L1312.8,963.3 L1315.4,964.3 L1317.9,965.2 L1320.0,966.0 L1321.7,966.6 L1322.9,967.2 L1323.5,967.7 L1323.4,968.2 M1302.5,982.0 L1302.9,983.8 L1303.9,985.4 L1305.5,987.1 L1307.5,988.6 L1309.9,989.9 L1312.5,991.2 L1315.1,992.2 L1317.6,993.1 L1319.8,993.9 L1321.6,994.6 L1322.8,995.1 L1323.4,995.6 L1323.4,996.1 M1302.8,1011.5 L1303.7,1013.2 L1305.2,1014.8" fill="none" stroke="#203040" stroke-width="6.4" stroke-opacity="0.22" stroke-linecap="round"/>
<path d="M1302.6,674.8 L1303.3,676.5 L1304.6,678.2 L1306.4,679.8 L1308.6,681.2 L1311.1,682.5 L1313.7,683.7 L1316.3,684.7 L1318.6,685.5 L1320.7,686.2 L1322.2,686.8 L1323.2,687.4 L1323.5,687.9 L1323.2,688.4 M1302.6,702.6 L1303.2,704.3 L1304.4,706.0 L1306.1,707.6 L1308.3,709.0 L1310.7,710.3 L1313.4,711.5 L1315.9,712.5 L1318.3,713.4 L1320.4,714.1 L1322.0,714.8 L1323.1,715.3 L1323.5,715.8 L1323.3,716.3 M1302.5,730.4 L1303.0,732.1 L1304.2,733.8 L1305.8,735.4 L1308.0,736.8 L1310.4,738.2 L1313.0,739.4 L1315.6,740.4 L1318.0,741.3 L1320.2,742.0 L1321.8,742.7 L1323.0,743.2 L1323.5,743.7 L1323.3,744.2 M1302.5,758.1 L1302.9,759.9 L1304.0,761.5 L1305.6,763.2 L1307.7,764.6 L1310.1,766.0 L1312.7,767.2 L1315.3,768.3 L1317.7,769.2 L1319.9,770.0 L1321.6,770.6 L1322.9,771.2 L1323.4,771.7 L1323.4,772.2 M1302.5,785.9 L1302.8,787.6 L1303.8,789.3 L1305.4,790.9 L1307.4,792.5 L1309.7,793.8 L1312.3,795.1 L1314.9,796.1 L1317.4,797.1 L1319.6,797.9 L1321.4,798.5 L1322.7,799.1 L1323.4,799.6 L1323.4,800.1 M1302.8,815.4 L1303.6,817.1 L1305.1,818.7 L1307.1,820.3 L1309.4,821.7 L1312.0,822.9 L1314.6,824.0 L1317.1,825.0 L1319.4,825.8 L1321.2,826.4 L1322.6,827.0 L1323.3,827.5 L1323.5,828.0 M1302.7,843.2 L1303.5,844.9 L1304.9,846.5 L1306.8,848.1 L1309.1,849.5 L1311.6,850.8 L1314.2,851.9 L1316.8,852.8 L1319.1,853.7 L1321.0,854.4 L1322.4,854.9 L1323.3,855.5 L1323.5,856.0 M1302.6,870.9 L1303.4,872.7 L1304.7,874.3 L1306.5,875.9 L1308.8,877.3 L1311.3,878.6 L1313.9,879.7 L1316.4,880.7 L1318.8,881.6 L1320.8,882.3 L1322.3,882.9 L1323.2,883.4 L1323.5,883.9 M1302.6,898.7 L1303.2,900.4 L1304.5,902.1 L1306.2,903.7 L1308.4,905.1 L1310.9,906.4 L1313.5,907.6 L1316.1,908.6 L1318.5,909.5 L1320.5,910.2 L1322.1,910.8 L1323.1,911.3 L1323.5,911.8 L1323.2,912.3 M1302.5,926.5 L1303.1,928.2 L1304.3,929.9 L1306.0,931.5 L1308.1,932.9 L1310.6,934.3 L1313.2,935.5 L1315.8,936.5 L1318.2,937.4 L1320.3,938.1 L1321.9,938.7 L1323.0,939.3 L1323.5,939.8 L1323.3,940.3 M1302.5,954.3 L1303.0,956.0 L1304.1,957.7 L1305.7,959.3 L1307.8,960.8 L1310.2,962.1 L1312.8,963.3 L1315.4,964.3 L1317.9,965.2 L1320.0,966.0 L1321.7,966.6 L1322.9,967.2 L1323.5,967.7 L1323.4,968.2 M1302.5,982.0 L1302.9,983.8 L1303.9,985.4 L1305.5,987.1 L1307.5,988.6 L1309.9,989.9 L1312.5,991.2 L1315.1,992.2 L1317.6,993.1 L1319.8,993.9 L1321.6,994.6 L1322.8,995.1 L1323.4,995.6 L1323.4,996.1 M1302.8,1011.5 L1303.7,1013.2 L1305.2,1014.8" fill="none" stroke="url(#hg5)" stroke-width="5.4" stroke-opacity="0.86" stroke-linecap="round"/>
<path d="M1327.6,635.4 L1328.3,637.1 L1329.6,638.7 L1331.4,640.3 L1333.6,641.8 L1336.1,643.1 L1338.7,644.2 L1341.3,645.2 L1343.6,646.0 L1345.7,646.8 L1347.2,647.4 L1348.2,647.9 L1348.5,648.4 L1348.2,648.9 M1327.6,663.1 L1328.2,664.9 L1329.4,666.5 L1331.1,668.1 L1333.3,669.6 L1335.7,670.9 L1338.4,672.1 L1340.9,673.1 L1343.3,673.9 L1345.4,674.7 L1347.0,675.3 L1348.1,675.8 L1348.5,676.3 L1348.3,676.8 M1327.5,690.9 L1328.0,692.6 L1329.2,694.3 L1330.8,695.9 L1333.0,697.4 L1335.4,698.7 L1338.0,699.9 L1340.6,701.0 L1343.0,701.8 L1345.2,702.6 L1346.8,703.2 L1348.0,703.8 L1348.5,704.3 L1348.3,704.8 M1327.5,718.7 L1327.9,720.4 L1329.0,722.1 L1330.6,723.7 L1332.7,725.2 L1335.1,726.6 L1337.7,727.8 L1340.3,728.8 L1342.7,729.7 L1344.9,730.5 L1346.6,731.1 L1347.9,731.7 L1348.4,732.2 L1348.4,732.7 M1327.5,746.4 L1327.8,748.2 L1328.8,749.9 L1330.4,751.5 L1332.4,753.0 L1334.7,754.4 L1337.3,755.6 L1339.9,756.7 L1342.4,757.6 L1344.6,758.4 L1346.4,759.1 L1347.7,759.6 L1348.4,760.1 L1348.4,760.6 M1327.8,776.0 L1328.6,777.7 L1330.1,779.3 L1332.1,780.8 L1334.4,782.2 L1337.0,783.5 L1339.6,784.6 L1342.1,785.5 L1344.4,786.3 L1346.2,787.0 L1347.6,787.6 L1348.3,788.1 L1348.5,788.6 M1327.7,803.7 L1328.5,805.4 L1329.9,807.1 L1331.8,808.6 L1334.1,810.0 L1336.6,811.3 L1339.2,812.4 L1341.8,813.4 L1344.1,814.2 L1346.0,814.9 L1347.4,815.5 L1348.3,816.0 L1348.5,816.5 M1327.6,831.5 L1328.4,833.2 L1329.7,834.9 L1331.5,836.4 L1333.8,837.8 L1336.3,839.1 L1338.9,840.3 L1341.4,841.3 L1343.8,842.1 L1345.8,842.8 L1347.3,843.4 L1348.2,843.9 L1348.5,844.4 M1327.6,859.3 L1328.2,861.0 L1329.5,862.6 L1331.2,864.2 L1333.4,865.7 L1335.9,867.0 L1338.5,868.1 L1341.1,869.1 L1343.5,870.0 L1345.5,870.7 L1347.1,871.3 L1348.1,871.9 L1348.5,872.4 L1348.2,872.9 M1327.5,887.0 L1328.1,888.8 L1329.3,890.4 L1331.0,892.0 L1333.1,893.5 L1335.6,894.8 L1338.2,896.0 L1340.8,897.0 L1343.2,897.9 L1345.3,898.6 L1346.9,899.3 L1348.0,899.8 L1348.5,900.3 L1348.3,900.8 M1327.5,914.8 L1328.0,916.5 L1329.1,918.2 L1330.7,919.8 L1332.8,921.3 L1335.2,922.6 L1337.8,923.8 L1340.4,924.9 L1342.9,925.8 L1345.0,926.5 L1346.7,927.2 L1347.9,927.7 L1348.5,928.2 L1348.4,928.7 M1327.5,942.6 L1327.9,944.3 L1328.9,946.0 L1330.5,947.6 L1332.5,949.1 L1334.9,950.5 L1337.5,951.7 L1340.1,952.8 L1342.6,953.7 L1344.8,954.5 L1346.6,955.1 L1347.8,955.7 L1348.4,956.2 L1348.4,956.7 M1327.8,972.1 L1328.7,973.8 L1330.2,975.4 L1332.2,976.9 L1334.6,978.3 L1337.1,979.5 L1339.8,980.6 L1342.3,981.6 L1344.5,982.4 L1346.3,983.0 L1347.7,983.6 L1348.4,984.1 L1348.4,984.6 M1327.7,999.8 L1328.6,1001.5 L1330.0,1003.2 L1331.9,1004.7" fill="none" stroke="#203040" stroke-width="6.4" stroke-opacity="0.22" stroke-linecap="round"/>
<path d="M1327.6,635.4 L1328.3,637.1 L1329.6,638.7 L1331.4,640.3 L1333.6,641.8 L1336.1,643.1 L1338.7,644.2 L1341.3,645.2 L1343.6,646.0 L1345.7,646.8 L1347.2,647.4 L1348.2,647.9 L1348.5,648.4 L1348.2,648.9 M1327.6,663.1 L1328.2,664.9 L1329.4,666.5 L1331.1,668.1 L1333.3,669.6 L1335.7,670.9 L1338.4,672.1 L1340.9,673.1 L1343.3,673.9 L1345.4,674.7 L1347.0,675.3 L1348.1,675.8 L1348.5,676.3 L1348.3,676.8 M1327.5,690.9 L1328.0,692.6 L1329.2,694.3 L1330.8,695.9 L1333.0,697.4 L1335.4,698.7 L1338.0,699.9 L1340.6,701.0 L1343.0,701.8 L1345.2,702.6 L1346.8,703.2 L1348.0,703.8 L1348.5,704.3 L1348.3,704.8 M1327.5,718.7 L1327.9,720.4 L1329.0,722.1 L1330.6,723.7 L1332.7,725.2 L1335.1,726.6 L1337.7,727.8 L1340.3,728.8 L1342.7,729.7 L1344.9,730.5 L1346.6,731.1 L1347.9,731.7 L1348.4,732.2 L1348.4,732.7 M1327.5,746.4 L1327.8,748.2 L1328.8,749.9 L1330.4,751.5 L1332.4,753.0 L1334.7,754.4 L1337.3,755.6 L1339.9,756.7 L1342.4,757.6 L1344.6,758.4 L1346.4,759.1 L1347.7,759.6 L1348.4,760.1 L1348.4,760.6 M1327.8,776.0 L1328.6,777.7 L1330.1,779.3 L1332.1,780.8 L1334.4,782.2 L1337.0,783.5 L1339.6,784.6 L1342.1,785.5 L1344.4,786.3 L1346.2,787.0 L1347.6,787.6 L1348.3,788.1 L1348.5,788.6 M1327.7,803.7 L1328.5,805.4 L1329.9,807.1 L1331.8,808.6 L1334.1,810.0 L1336.6,811.3 L1339.2,812.4 L1341.8,813.4 L1344.1,814.2 L1346.0,814.9 L1347.4,815.5 L1348.3,816.0 L1348.5,816.5 M1327.6,831.5 L1328.4,833.2 L1329.7,834.9 L1331.5,836.4 L1333.8,837.8 L1336.3,839.1 L1338.9,840.3 L1341.4,841.3 L1343.8,842.1 L1345.8,842.8 L1347.3,843.4 L1348.2,843.9 L1348.5,844.4 M1327.6,859.3 L1328.2,861.0 L1329.5,862.6 L1331.2,864.2 L1333.4,865.7 L1335.9,867.0 L1338.5,868.1 L1341.1,869.1 L1343.5,870.0 L1345.5,870.7 L1347.1,871.3 L1348.1,871.9 L1348.5,872.4 L1348.2,872.9 M1327.5,887.0 L1328.1,888.8 L1329.3,890.4 L1331.0,892.0 L1333.1,893.5 L1335.6,894.8 L1338.2,896.0 L1340.8,897.0 L1343.2,897.9 L1345.3,898.6 L1346.9,899.3 L1348.0,899.8 L1348.5,900.3 L1348.3,900.8 M1327.5,914.8 L1328.0,916.5 L1329.1,918.2 L1330.7,919.8 L1332.8,921.3 L1335.2,922.6 L1337.8,923.8 L1340.4,924.9 L1342.9,925.8 L1345.0,926.5 L1346.7,927.2 L1347.9,927.7 L1348.5,928.2 L1348.4,928.7 M1327.5,942.6 L1327.9,944.3 L1328.9,946.0 L1330.5,947.6 L1332.5,949.1 L1334.9,950.5 L1337.5,951.7 L1340.1,952.8 L1342.6,953.7 L1344.8,954.5 L1346.6,955.1 L1347.8,955.7 L1348.4,956.2 L1348.4,956.7 M1327.8,972.1 L1328.7,973.8 L1330.2,975.4 L1332.2,976.9 L1334.6,978.3 L1337.1,979.5 L1339.8,980.6 L1342.3,981.6 L1344.5,982.4 L1346.3,983.0 L1347.7,983.6 L1348.4,984.1 L1348.4,984.6 M1327.7,999.8 L1328.6,1001.5 L1330.0,1003.2 L1331.9,1004.7" fill="none" stroke="url(#hg6)" stroke-width="5.4" stroke-opacity="0.86" stroke-linecap="round"/>
<path d="M1370.2,651.6 L1371.6,652.1 L1372.3,652.7 L1372.5,653.1 M1351.7,668.3 L1352.5,670.0 L1353.9,671.6 L1355.8,673.2 L1358.1,674.6 L1360.6,675.9 L1363.2,677.0 L1365.8,678.0 L1368.1,678.8 L1370.0,679.5 L1371.4,680.1 L1372.3,680.6 L1372.5,681.1 M1351.6,696.1 L1352.3,697.8 L1353.7,699.4 L1355.5,701.0 L1357.8,702.4 L1360.3,703.7 L1362.9,704.9 L1365.4,705.8 L1367.8,706.7 L1369.8,707.4 L1371.3,708.0 L1372.2,708.5 L1372.5,709.0 M1351.6,723.8 L1352.2,725.6 L1353.5,727.2 L1355.2,728.8 L1357.4,730.2 L1359.9,731.6 L1362.5,732.7 L1365.1,733.7 L1367.5,734.6 L1369.5,735.3 L1371.1,735.9 L1372.1,736.5 L1372.5,736.9 L1372.2,737.4 M1351.5,751.6 L1352.1,753.3 L1353.3,755.0 L1355.0,756.6 L1357.1,758.1 L1359.6,759.4 L1362.2,760.6 L1364.8,761.6 L1367.2,762.5 L1369.3,763.2 L1370.9,763.8 L1372.0,764.4 L1372.5,764.9 L1372.3,765.4 M1351.5,779.4 L1352.0,781.1 L1353.1,782.8 L1354.7,784.4 L1356.8,785.9 L1359.2,787.2 L1361.8,788.4 L1364.4,789.5 L1366.9,790.4 L1369.0,791.1 L1370.7,791.8 L1371.9,792.3 L1372.5,792.8 L1372.4,793.3 M1351.5,807.1 L1351.9,808.9 L1352.9,810.6 L1354.5,812.2 L1356.5,813.7 L1358.9,815.0 L1361.5,816.3 L1364.1,817.3 L1366.6,818.2 L1368.8,819.0 L1370.5,819.7 L1371.8,820.2 L1372.4,820.8 L1372.4,821.2 M1351.8,836.6 L1352.7,838.3 L1354.2,840.0 L1356.2,841.5 L1358.6,842.9 L1361.1,844.1 L1363.8,845.2 L1366.3,846.1 L1368.5,846.9 L1370.3,847.6 L1371.7,848.2 L1372.4,848.7 L1372.5,849.2 M1351.7,864.4 L1352.6,866.1 L1354.0,867.8 L1355.9,869.3 L1358.2,870.7 L1360.8,872.0 L1363.4,873.1 L1365.9,874.0 L1368.2,874.8 L1370.1,875.5 L1371.5,876.1 L1372.3,876.6 L1372.5,877.1 M1351.7,892.2 L1352.4,893.9 L1353.8,895.5 L1355.7,897.1 L1357.9,898.5 L1360.4,899.8 L1363.1,900.9 L1365.6,901.9 L1367.9,902.7 L1369.9,903.4 L1371.4,904.0 L1372.2,904.6 L1372.5,905.0 M1351.6,920.0 L1352.3,921.7 L1353.6,923.3 L1355.4,924.9 L1357.6,926.3 L1360.1,927.6 L1362.7,928.8 L1365.3,929.8 L1367.6,930.6 L1369.7,931.3 L1371.2,932.0 L1372.2,932.5 L1372.5,933.0 L1372.2,933.5 M1351.6,947.7 L1352.2,949.4 L1353.4,951.1 L1355.1,952.7 L1357.3,954.2 L1359.8,955.5 L1362.4,956.6 L1365.0,957.7 L1367.4,958.5 L1369.4,959.3 L1371.0,959.9 L1372.1,960.4 L1372.5,960.9 L1372.3,961.4 M1351.5,975.5 L1352.0,977.2 L1353.2,978.9 L1354.9,980.5 L1357.0,982.0 L1359.4,983.3 L1362.0,984.5 L1364.6,985.5 L1367.1,986.4 L1369.2,987.2 L1370.8,987.8 L1372.0,988.4 L1372.5,988.9 L1372.3,989.3 M1351.5,1003.3 L1351.9,1005.0 L1353.0,1006.7 L1354.6,1008.3 L1356.7,1009.8" fill="none" stroke="#203040" stroke-width="6.4" stroke-opacity="0.22" stroke-linecap="round"/>
<path d="M1370.2,651.6 L1371.6,652.1 L1372.3,652.7 L1372.5,653.1 M1351.7,668.3 L1352.5,670.0 L1353.9,671.6 L1355.8,673.2 L1358.1,674.6 L1360.6,675.9 L1363.2,677.0 L1365.8,678.0 L1368.1,678.8 L1370.0,679.5 L1371.4,680.1 L1372.3,680.6 L1372.5,681.1 M1351.6,696.1 L1352.3,697.8 L1353.7,699.4 L1355.5,701.0 L1357.8,702.4 L1360.3,703.7 L1362.9,704.9 L1365.4,705.8 L1367.8,706.7 L1369.8,707.4 L1371.3,708.0 L1372.2,708.5 L1372.5,709.0 M1351.6,723.8 L1352.2,725.6 L1353.5,727.2 L1355.2,728.8 L1357.4,730.2 L1359.9,731.6 L1362.5,732.7 L1365.1,733.7 L1367.5,734.6 L1369.5,735.3 L1371.1,735.9 L1372.1,736.5 L1372.5,736.9 L1372.2,737.4 M1351.5,751.6 L1352.1,753.3 L1353.3,755.0 L1355.0,756.6 L1357.1,758.1 L1359.6,759.4 L1362.2,760.6 L1364.8,761.6 L1367.2,762.5 L1369.3,763.2 L1370.9,763.8 L1372.0,764.4 L1372.5,764.9 L1372.3,765.4 M1351.5,779.4 L1352.0,781.1 L1353.1,782.8 L1354.7,784.4 L1356.8,785.9 L1359.2,787.2 L1361.8,788.4 L1364.4,789.5 L1366.9,790.4 L1369.0,791.1 L1370.7,791.8 L1371.9,792.3 L1372.5,792.8 L1372.4,793.3 M1351.5,807.1 L1351.9,808.9 L1352.9,810.6 L1354.5,812.2 L1356.5,813.7 L1358.9,815.0 L1361.5,816.3 L1364.1,817.3 L1366.6,818.2 L1368.8,819.0 L1370.5,819.7 L1371.8,820.2 L1372.4,820.8 L1372.4,821.2 M1351.8,836.6 L1352.7,838.3 L1354.2,840.0 L1356.2,841.5 L1358.6,842.9 L1361.1,844.1 L1363.8,845.2 L1366.3,846.1 L1368.5,846.9 L1370.3,847.6 L1371.7,848.2 L1372.4,848.7 L1372.5,849.2 M1351.7,864.4 L1352.6,866.1 L1354.0,867.8 L1355.9,869.3 L1358.2,870.7 L1360.8,872.0 L1363.4,873.1 L1365.9,874.0 L1368.2,874.8 L1370.1,875.5 L1371.5,876.1 L1372.3,876.6 L1372.5,877.1 M1351.7,892.2 L1352.4,893.9 L1353.8,895.5 L1355.7,897.1 L1357.9,898.5 L1360.4,899.8 L1363.1,900.9 L1365.6,901.9 L1367.9,902.7 L1369.9,903.4 L1371.4,904.0 L1372.2,904.6 L1372.5,905.0 M1351.6,920.0 L1352.3,921.7 L1353.6,923.3 L1355.4,924.9 L1357.6,926.3 L1360.1,927.6 L1362.7,928.8 L1365.3,929.8 L1367.6,930.6 L1369.7,931.3 L1371.2,932.0 L1372.2,932.5 L1372.5,933.0 L1372.2,933.5 M1351.6,947.7 L1352.2,949.4 L1353.4,951.1 L1355.1,952.7 L1357.3,954.2 L1359.8,955.5 L1362.4,956.6 L1365.0,957.7 L1367.4,958.5 L1369.4,959.3 L1371.0,959.9 L1372.1,960.4 L1372.5,960.9 L1372.3,961.4 M1351.5,975.5 L1352.0,977.2 L1353.2,978.9 L1354.9,980.5 L1357.0,982.0 L1359.4,983.3 L1362.0,984.5 L1364.6,985.5 L1367.1,986.4 L1369.2,987.2 L1370.8,987.8 L1372.0,988.4 L1372.5,988.9 L1372.3,989.3 M1351.5,1003.3 L1351.9,1005.0 L1353.0,1006.7 L1354.6,1008.3 L1356.7,1009.8" fill="none" stroke="url(#hg7)" stroke-width="5.4" stroke-opacity="0.86" stroke-linecap="round"/>
<path d="M1390.1,670.7 L1390.5,671.2 L1390.2,671.7 M1369.5,685.8 L1370.1,687.5 L1371.3,689.2 L1373.0,690.8 L1375.1,692.3 L1377.6,693.6 L1380.2,694.8 L1382.8,695.8 L1385.2,696.7 L1387.3,697.4 L1388.9,698.1 L1390.0,698.6 L1390.5,699.1 L1390.3,699.6 M1369.5,713.6 L1370.0,715.3 L1371.1,717.0 L1372.7,718.6 L1374.8,720.1 L1377.2,721.4 L1379.8,722.6 L1382.4,723.7 L1384.9,724.6 L1387.0,725.3 L1388.7,726.0 L1389.9,726.5 L1390.5,727.0 L1390.4,727.5 M1369.5,741.4 L1369.9,743.1 L1370.9,744.8 L1372.5,746.4 L1374.5,747.9 L1376.9,749.3 L1379.5,750.5 L1382.1,751.5 L1384.6,752.5 L1386.8,753.2 L1388.5,753.9 L1389.8,754.5 L1390.4,755.0 L1390.4,755.5 M1369.8,770.9 L1370.7,772.6 L1372.2,774.2 L1374.2,775.7 L1376.6,777.1 L1379.1,778.3 L1381.7,779.4 L1384.3,780.4 L1386.5,781.1 L1388.3,781.8 L1389.7,782.4 L1390.4,782.9 L1390.5,783.4 M1369.7,798.6 L1370.6,800.3 L1372.0,802.0 L1373.9,803.5 L1376.2,804.9 L1378.8,806.2 L1381.4,807.3 L1383.9,808.2 L1386.2,809.0 L1388.1,809.7 L1389.5,810.3 L1390.3,810.8 L1390.5,811.3 M1369.7,826.4 L1370.4,828.1 L1371.8,829.8 L1373.7,831.3 L1375.9,832.7 L1378.4,834.0 L1381.1,835.1 L1383.6,836.1 L1385.9,836.9 L1387.9,837.6 L1389.4,838.2 L1390.2,838.8 L1390.5,839.3 M1369.6,854.2 L1370.3,855.9 L1371.6,857.5 L1373.4,859.1 L1375.6,860.6 L1378.1,861.9 L1380.7,863.0 L1383.3,864.0 L1385.6,864.8 L1387.7,865.6 L1389.2,866.2 L1390.2,866.7 L1390.5,867.2 L1390.2,867.7 M1369.6,881.9 L1370.2,883.7 L1371.4,885.3 L1373.1,886.9 L1375.3,888.4 L1377.8,889.7 L1380.4,890.9 L1382.9,891.9 L1385.3,892.7 L1387.4,893.5 L1389.0,894.1 L1390.1,894.6 L1390.5,895.1 L1390.3,895.6 M1369.5,909.7 L1370.0,911.4 L1371.2,913.1 L1372.9,914.7 L1375.0,916.2 L1377.4,917.5 L1380.0,918.7 L1382.6,919.7 L1385.0,920.6 L1387.2,921.4 L1388.8,922.0 L1390.0,922.6 L1390.5,923.1 L1390.3,923.6 M1369.5,937.5 L1369.9,939.2 L1371.0,940.9 L1372.6,942.5 L1374.7,944.0 L1377.1,945.4 L1379.7,946.6 L1382.3,947.6 L1384.7,948.5 L1386.9,949.3 L1388.7,949.9 L1389.9,950.5 L1390.4,951.0 L1390.4,951.5 M1369.5,965.2 L1369.8,967.0 L1370.8,968.7 L1372.4,970.3 L1374.4,971.8 L1376.7,973.2 L1379.3,974.4 L1381.9,975.5 L1384.4,976.4 L1386.6,977.2 L1388.4,977.9 L1389.7,978.4 L1390.4,978.9 L1390.4,979.4 M1369.8,994.8 L1370.7,996.5 L1372.1,998.1 L1374.1,999.6" fill="none" stroke="#203040" stroke-width="6.4" stroke-opacity="0.22" stroke-linecap="round"/>
<path d="M1390.1,670.7 L1390.5,671.2 L1390.2,671.7 M1369.5,685.8 L1370.1,687.5 L1371.3,689.2 L1373.0,690.8 L1375.1,692.3 L1377.6,693.6 L1380.2,694.8 L1382.8,695.8 L1385.2,696.7 L1387.3,697.4 L1388.9,698.1 L1390.0,698.6 L1390.5,699.1 L1390.3,699.6 M1369.5,713.6 L1370.0,715.3 L1371.1,717.0 L1372.7,718.6 L1374.8,720.1 L1377.2,721.4 L1379.8,722.6 L1382.4,723.7 L1384.9,724.6 L1387.0,725.3 L1388.7,726.0 L1389.9,726.5 L1390.5,727.0 L1390.4,727.5 M1369.5,741.4 L1369.9,743.1 L1370.9,744.8 L1372.5,746.4 L1374.5,747.9 L1376.9,749.3 L1379.5,750.5 L1382.1,751.5 L1384.6,752.5 L1386.8,753.2 L1388.5,753.9 L1389.8,754.5 L1390.4,755.0 L1390.4,755.5 M1369.8,770.9 L1370.7,772.6 L1372.2,774.2 L1374.2,775.7 L1376.6,777.1 L1379.1,778.3 L1381.7,779.4 L1384.3,780.4 L1386.5,781.1 L1388.3,781.8 L1389.7,782.4 L1390.4,782.9 L1390.5,783.4 M1369.7,798.6 L1370.6,800.3 L1372.0,802.0 L1373.9,803.5 L1376.2,804.9 L1378.8,806.2 L1381.4,807.3 L1383.9,808.2 L1386.2,809.0 L1388.1,809.7 L1389.5,810.3 L1390.3,810.8 L1390.5,811.3 M1369.7,826.4 L1370.4,828.1 L1371.8,829.8 L1373.7,831.3 L1375.9,832.7 L1378.4,834.0 L1381.1,835.1 L1383.6,836.1 L1385.9,836.9 L1387.9,837.6 L1389.4,838.2 L1390.2,838.8 L1390.5,839.3 M1369.6,854.2 L1370.3,855.9 L1371.6,857.5 L1373.4,859.1 L1375.6,860.6 L1378.1,861.9 L1380.7,863.0 L1383.3,864.0 L1385.6,864.8 L1387.7,865.6 L1389.2,866.2 L1390.2,866.7 L1390.5,867.2 L1390.2,867.7 M1369.6,881.9 L1370.2,883.7 L1371.4,885.3 L1373.1,886.9 L1375.3,888.4 L1377.8,889.7 L1380.4,890.9 L1382.9,891.9 L1385.3,892.7 L1387.4,893.5 L1389.0,894.1 L1390.1,894.6 L1390.5,895.1 L1390.3,895.6 M1369.5,909.7 L1370.0,911.4 L1371.2,913.1 L1372.9,914.7 L1375.0,916.2 L1377.4,917.5 L1380.0,918.7 L1382.6,919.7 L1385.0,920.6 L1387.2,921.4 L1388.8,922.0 L1390.0,922.6 L1390.5,923.1 L1390.3,923.6 M1369.5,937.5 L1369.9,939.2 L1371.0,940.9 L1372.6,942.5 L1374.7,944.0 L1377.1,945.4 L1379.7,946.6 L1382.3,947.6 L1384.7,948.5 L1386.9,949.3 L1388.7,949.9 L1389.9,950.5 L1390.4,951.0 L1390.4,951.5 M1369.5,965.2 L1369.8,967.0 L1370.8,968.7 L1372.4,970.3 L1374.4,971.8 L1376.7,973.2 L1379.3,974.4 L1381.9,975.5 L1384.4,976.4 L1386.6,977.2 L1388.4,977.9 L1389.7,978.4 L1390.4,978.9 L1390.4,979.4 M1369.8,994.8 L1370.7,996.5 L1372.1,998.1 L1374.1,999.6" fill="none" stroke="url(#hg8)" stroke-width="5.4" stroke-opacity="0.86" stroke-linecap="round"/>
<path d="M1408.1,642.4 L1410.5,643.2 L1412.5,644.0 L1414.1,644.6 L1415.1,645.1 L1415.5,645.6 L1415.2,646.1 M1394.5,660.3 L1395.1,662.0 L1396.3,663.7 L1398.0,665.3 L1400.1,666.7 L1402.6,668.1 L1405.2,669.2 L1407.8,670.3 L1410.2,671.1 L1412.3,671.9 L1413.9,672.5 L1415.0,673.1 L1415.5,673.6 L1415.3,674.0 M1394.5,688.0 L1395.0,689.8 L1396.1,691.4 L1397.7,693.0 L1399.8,694.5 L1402.2,695.9 L1404.8,697.1 L1407.4,698.1 L1409.9,699.0 L1412.0,699.8 L1413.7,700.4 L1414.9,701.0 L1415.5,701.5 L1415.4,702.0 M1394.5,715.8 L1394.9,717.5 L1395.9,719.2 L1397.5,720.8 L1399.5,722.3 L1401.9,723.7 L1404.5,724.9 L1407.1,726.0 L1409.6,726.9 L1411.8,727.7 L1413.5,728.4 L1414.8,728.9 L1415.4,729.4 L1415.4,729.9 M1394.8,745.3 L1395.7,747.0 L1397.2,748.6 L1399.2,750.2 L1401.6,751.5 L1404.1,752.8 L1406.7,753.9 L1409.3,754.8 L1411.5,755.6 L1413.3,756.3 L1414.7,756.8 L1415.4,757.4 L1415.5,757.9 M1394.7,773.1 L1395.6,774.8 L1397.0,776.4 L1398.9,778.0 L1401.2,779.4 L1403.8,780.6 L1406.4,781.7 L1408.9,782.7 L1411.2,783.5 L1413.1,784.2 L1414.5,784.8 L1415.3,785.3 L1415.5,785.8 M1394.7,800.9 L1395.4,802.6 L1396.8,804.2 L1398.7,805.8 L1400.9,807.2 L1403.4,808.5 L1406.1,809.6 L1408.6,810.6 L1410.9,811.4 L1412.9,812.1 L1414.4,812.7 L1415.2,813.2 L1415.5,813.7 M1394.6,828.6 L1395.3,830.3 L1396.6,832.0 L1398.4,833.6 L1400.6,835.0 L1403.1,836.3 L1405.7,837.5 L1408.3,838.5 L1410.6,839.3 L1412.7,840.0 L1414.2,840.6 L1415.2,841.2 L1415.5,841.7 L1415.2,842.2 M1394.6,856.4 L1395.2,858.1 L1396.4,859.8 L1398.1,861.4 L1400.3,862.8 L1402.8,864.1 L1405.4,865.3 L1407.9,866.3 L1410.3,867.2 L1412.4,867.9 L1414.0,868.6 L1415.1,869.1 L1415.5,869.6 L1415.3,870.1 M1394.5,884.2 L1395.0,885.9 L1396.2,887.6 L1397.9,889.2 L1400.0,890.6 L1402.4,892.0 L1405.0,893.2 L1407.6,894.2 L1410.0,895.1 L1412.2,895.8 L1413.8,896.5 L1415.0,897.0 L1415.5,897.5 L1415.3,898.0 M1394.5,911.9 L1394.9,913.7 L1396.0,915.3 L1397.6,917.0 L1399.7,918.4 L1402.1,919.8 L1404.7,921.0 L1407.3,922.1 L1409.7,923.0 L1411.9,923.7 L1413.7,924.4 L1414.9,925.0 L1415.4,925.5 L1415.4,926.0 M1394.5,939.7 L1394.8,941.4 L1395.8,943.1 L1397.4,944.7 L1399.4,946.3 L1401.7,947.6 L1404.3,948.9 L1406.9,949.9 L1409.4,950.9 L1411.6,951.7 L1413.4,952.3 L1414.7,952.9 L1415.4,953.4 L1415.4,953.9 M1394.8,969.2 L1395.7,970.9 L1397.1,972.5 L1399.1,974.1 L1401.4,975.5 L1404.0,976.7 L1406.6,977.8 L1409.1,978.8 L1411.4,979.6 L1413.2,980.2 L1414.6,980.8 L1415.4,981.3 L1415.5,981.8 M1394.7,997.0 L1395.5,998.7 L1396.9,1000.3 L1398.8,1001.9 L1401.1,1003.3 L1403.6,1004.6 L1406.2,1005.7 L1408.8,1006.6 L1411.1,1007.5 L1413.0,1008.1 L1414.4,1008.7 L1415.3,1009.3 L1415.5,1009.8" fill="none" stroke="#203040" stroke-width="6.4" stroke-opacity="0.22" stroke-linecap="round"/>
<path d="M1408.1,642.4 L1410.5,643.2 L1412.5,644.0 L1414.1,644.6 L1415.1,645.1 L1415.5,645.6 L1415.2,646.1 M1394.5,660.3 L1395.1,662.0 L1396.3,663.7 L1398.0,665.3 L1400.1,666.7 L1402.6,668.1 L1405.2,669.2 L1407.8,670.3 L1410.2,671.1 L1412.3,671.9 L1413.9,672.5 L1415.0,673.1 L1415.5,673.6 L1415.3,674.0 M1394.5,688.0 L1395.0,689.8 L1396.1,691.4 L1397.7,693.0 L1399.8,694.5 L1402.2,695.9 L1404.8,697.1 L1407.4,698.1 L1409.9,699.0 L1412.0,699.8 L1413.7,700.4 L1414.9,701.0 L1415.5,701.5 L1415.4,702.0 M1394.5,715.8 L1394.9,717.5 L1395.9,719.2 L1397.5,720.8 L1399.5,722.3 L1401.9,723.7 L1404.5,724.9 L1407.1,726.0 L1409.6,726.9 L1411.8,727.7 L1413.5,728.4 L1414.8,728.9 L1415.4,729.4 L1415.4,729.9 M1394.8,745.3 L1395.7,747.0 L1397.2,748.6 L1399.2,750.2 L1401.6,751.5 L1404.1,752.8 L1406.7,753.9 L1409.3,754.8 L1411.5,755.6 L1413.3,756.3 L1414.7,756.8 L1415.4,757.4 L1415.5,757.9 M1394.7,773.1 L1395.6,774.8 L1397.0,776.4 L1398.9,778.0 L1401.2,779.4 L1403.8,780.6 L1406.4,781.7 L1408.9,782.7 L1411.2,783.5 L1413.1,784.2 L1414.5,784.8 L1415.3,785.3 L1415.5,785.8 M1394.7,800.9 L1395.4,802.6 L1396.8,804.2 L1398.7,805.8 L1400.9,807.2 L1403.4,808.5 L1406.1,809.6 L1408.6,810.6 L1410.9,811.4 L1412.9,812.1 L1414.4,812.7 L1415.2,813.2 L1415.5,813.7 M1394.6,828.6 L1395.3,830.3 L1396.6,832.0 L1398.4,833.6 L1400.6,835.0 L1403.1,836.3 L1405.7,837.5 L1408.3,838.5 L1410.6,839.3 L1412.7,840.0 L1414.2,840.6 L1415.2,841.2 L1415.5,841.7 L1415.2,842.2 M1394.6,856.4 L1395.2,858.1 L1396.4,859.8 L1398.1,861.4 L1400.3,862.8 L1402.8,864.1 L1405.4,865.3 L1407.9,866.3 L1410.3,867.2 L1412.4,867.9 L1414.0,868.6 L1415.1,869.1 L1415.5,869.6 L1415.3,870.1 M1394.5,884.2 L1395.0,885.9 L1396.2,887.6 L1397.9,889.2 L1400.0,890.6 L1402.4,892.0 L1405.0,893.2 L1407.6,894.2 L1410.0,895.1 L1412.2,895.8 L1413.8,896.5 L1415.0,897.0 L1415.5,897.5 L1415.3,898.0 M1394.5,911.9 L1394.9,913.7 L1396.0,915.3 L1397.6,917.0 L1399.7,918.4 L1402.1,919.8 L1404.7,921.0 L1407.3,922.1 L1409.7,923.0 L1411.9,923.7 L1413.7,924.4 L1414.9,925.0 L1415.4,925.5 L1415.4,926.0 M1394.5,939.7 L1394.8,941.4 L1395.8,943.1 L1397.4,944.7 L1399.4,946.3 L1401.7,947.6 L1404.3,948.9 L1406.9,949.9 L1409.4,950.9 L1411.6,951.7 L1413.4,952.3 L1414.7,952.9 L1415.4,953.4 L1415.4,953.9 M1394.8,969.2 L1395.7,970.9 L1397.1,972.5 L1399.1,974.1 L1401.4,975.5 L1404.0,976.7 L1406.6,977.8 L1409.1,978.8 L1411.4,979.6 L1413.2,980.2 L1414.6,980.8 L1415.4,981.3 L1415.5,981.8 M1394.7,997.0 L1395.5,998.7 L1396.9,1000.3 L1398.8,1001.9 L1401.1,1003.3 L1403.6,1004.6 L1406.2,1005.7 L1408.8,1006.6 L1411.1,1007.5 L1413.0,1008.1 L1414.4,1008.7 L1415.3,1009.3 L1415.5,1009.8" fill="none" stroke="url(#hg9)" stroke-width="5.4" stroke-opacity="0.86" stroke-linecap="round"/>
<path d="M1417.8,652.8 L1418.7,654.5 L1420.2,656.2 L1422.2,657.7 L1424.6,659.1 L1427.1,660.3 L1429.7,661.4 L1432.3,662.3 L1434.5,663.1 L1436.3,663.8 L1437.7,664.4 L1438.4,664.9 L1438.5,665.4 M1417.7,680.6 L1418.6,682.3 L1420.0,684.0 L1421.9,685.5 L1424.2,686.9 L1426.8,688.2 L1429.4,689.3 L1431.9,690.2 L1434.2,691.0 L1436.1,691.7 L1437.5,692.3 L1438.3,692.8 L1438.5,693.3 M1417.7,708.4 L1418.4,710.1 L1419.8,711.7 L1421.6,713.3 L1423.9,714.7 L1426.4,716.0 L1429.1,717.1 L1431.6,718.1 L1433.9,718.9 L1435.9,719.6 L1437.4,720.2 L1438.2,720.8 L1438.5,721.3 M1417.6,736.2 L1418.3,737.9 L1419.6,739.5 L1421.4,741.1 L1423.6,742.5 L1426.1,743.8 L1428.7,745.0 L1431.3,746.0 L1433.6,746.8 L1435.7,747.5 L1437.2,748.2 L1438.2,748.7 L1438.5,749.2 L1438.2,749.7 M1417.6,763.9 L1418.2,765.6 L1419.4,767.3 L1421.1,768.9 L1423.3,770.4 L1425.8,771.7 L1428.4,772.8 L1430.9,773.9 L1433.3,774.7 L1435.4,775.5 L1437.0,776.1 L1438.1,776.6 L1438.5,777.1 L1438.3,777.6 M1417.5,791.7 L1418.0,793.4 L1419.2,795.1 L1420.8,796.7 L1423.0,798.2 L1425.4,799.5 L1428.0,800.7 L1430.6,801.7 L1433.0,802.6 L1435.2,803.4 L1436.8,804.0 L1438.0,804.6 L1438.5,805.1 L1438.3,805.6 M1417.5,819.5 L1417.9,821.2 L1419.0,822.9 L1420.6,824.5 L1422.7,826.0 L1425.1,827.3 L1427.7,828.6 L1430.3,829.6 L1432.7,830.5 L1434.9,831.3 L1436.6,831.9 L1437.9,832.5 L1438.4,833.0 L1438.4,833.5 M1417.5,847.2 L1417.8,849.0 L1418.8,850.7 L1420.4,852.3 L1422.4,853.8 L1424.7,855.2 L1427.3,856.4 L1429.9,857.5 L1432.4,858.4 L1434.6,859.2 L1436.4,859.8 L1437.7,860.4 L1438.4,860.9 L1438.4,861.4 M1417.8,876.7 L1418.6,878.4 L1420.1,880.1 L1422.1,881.6 L1424.4,883.0 L1427.0,884.2 L1429.6,885.3 L1432.1,886.3 L1434.4,887.1 L1436.2,887.8 L1437.6,888.3 L1438.3,888.9 L1438.5,889.4 M1417.7,904.5 L1418.5,906.2 L1419.9,907.9 L1421.8,909.4 L1424.1,910.8 L1426.6,912.1 L1429.2,913.2 L1431.8,914.2 L1434.1,915.0 L1436.0,915.7 L1437.4,916.3 L1438.3,916.8 L1438.5,917.3 M1417.6,932.3 L1418.4,934.0 L1419.7,935.6 L1421.5,937.2 L1423.8,938.6 L1426.3,939.9 L1428.9,941.1 L1431.5,942.0 L1433.8,942.9 L1435.8,943.6 L1437.3,944.2 L1438.2,944.7 L1438.5,945.2 M1417.6,960.0 L1418.2,961.8 L1419.5,963.4 L1421.2,965.0 L1423.4,966.5 L1425.9,967.8 L1428.5,968.9 L1431.1,969.9 L1433.5,970.8 L1435.5,971.5 L1437.1,972.1 L1438.1,972.7 L1438.5,973.2 L1438.2,973.7" fill="none" stroke="#203040" stroke-width="6.4" stroke-opacity="0.22" stroke-linecap="round"/>
<path d="M1417.8,652.8 L1418.7,654.5 L1420.2,656.2 L1422.2,657.7 L1424.6,659.1 L1427.1,660.3 L1429.7,661.4 L1432.3,662.3 L1434.5,663.1 L1436.3,663.8 L1437.7,664.4 L1438.4,664.9 L1438.5,665.4 M1417.7,680.6 L1418.6,682.3 L1420.0,684.0 L1421.9,685.5 L1424.2,686.9 L1426.8,688.2 L1429.4,689.3 L1431.9,690.2 L1434.2,691.0 L1436.1,691.7 L1437.5,692.3 L1438.3,692.8 L1438.5,693.3 M1417.7,708.4 L1418.4,710.1 L1419.8,711.7 L1421.6,713.3 L1423.9,714.7 L1426.4,716.0 L1429.1,717.1 L1431.6,718.1 L1433.9,718.9 L1435.9,719.6 L1437.4,720.2 L1438.2,720.8 L1438.5,721.3 M1417.6,736.2 L1418.3,737.9 L1419.6,739.5 L1421.4,741.1 L1423.6,742.5 L1426.1,743.8 L1428.7,745.0 L1431.3,746.0 L1433.6,746.8 L1435.7,747.5 L1437.2,748.2 L1438.2,748.7 L1438.5,749.2 L1438.2,749.7 M1417.6,763.9 L1418.2,765.6 L1419.4,767.3 L1421.1,768.9 L1423.3,770.4 L1425.8,771.7 L1428.4,772.8 L1430.9,773.9 L1433.3,774.7 L1435.4,775.5 L1437.0,776.1 L1438.1,776.6 L1438.5,777.1 L1438.3,777.6 M1417.5,791.7 L1418.0,793.4 L1419.2,795.1 L1420.8,796.7 L1423.0,798.2 L1425.4,799.5 L1428.0,800.7 L1430.6,801.7 L1433.0,802.6 L1435.2,803.4 L1436.8,804.0 L1438.0,804.6 L1438.5,805.1 L1438.3,805.6 M1417.5,819.5 L1417.9,821.2 L1419.0,822.9 L1420.6,824.5 L1422.7,826.0 L1425.1,827.3 L1427.7,828.6 L1430.3,829.6 L1432.7,830.5 L1434.9,831.3 L1436.6,831.9 L1437.9,832.5 L1438.4,833.0 L1438.4,833.5 M1417.5,847.2 L1417.8,849.0 L1418.8,850.7 L1420.4,852.3 L1422.4,853.8 L1424.7,855.2 L1427.3,856.4 L1429.9,857.5 L1432.4,858.4 L1434.6,859.2 L1436.4,859.8 L1437.7,860.4 L1438.4,860.9 L1438.4,861.4 M1417.8,876.7 L1418.6,878.4 L1420.1,880.1 L1422.1,881.6 L1424.4,883.0 L1427.0,884.2 L1429.6,885.3 L1432.1,886.3 L1434.4,887.1 L1436.2,887.8 L1437.6,888.3 L1438.3,888.9 L1438.5,889.4 M1417.7,904.5 L1418.5,906.2 L1419.9,907.9 L1421.8,909.4 L1424.1,910.8 L1426.6,912.1 L1429.2,913.2 L1431.8,914.2 L1434.1,915.0 L1436.0,915.7 L1437.4,916.3 L1438.3,916.8 L1438.5,917.3 M1417.6,932.3 L1418.4,934.0 L1419.7,935.6 L1421.5,937.2 L1423.8,938.6 L1426.3,939.9 L1428.9,941.1 L1431.5,942.0 L1433.8,942.9 L1435.8,943.6 L1437.3,944.2 L1438.2,944.7 L1438.5,945.2 M1417.6,960.0 L1418.2,961.8 L1419.5,963.4 L1421.2,965.0 L1423.4,966.5 L1425.9,967.8 L1428.5,968.9 L1431.1,969.9 L1433.5,970.8 L1435.5,971.5 L1437.1,972.1 L1438.1,972.7 L1438.5,973.2 L1438.2,973.7" fill="none" stroke="url(#hg10)" stroke-width="5.4" stroke-opacity="0.86" stroke-linecap="round"/>
<g filter="url(#blur2)">
<ellipse cx="1220" cy="685" rx="13" ry="25" fill="#c05a10" fill-opacity="0.35"/>
<ellipse cx="1240" cy="760" rx="13" ry="40" fill="#40a050" fill-opacity="0.3"/>
<ellipse cx="1422" cy="680" rx="14" ry="30" fill="#d01040" fill-opacity="0.35"/>
<ellipse cx="1383" cy="730" rx="12" ry="25" fill="#7040c0" fill-opacity="0.3"/>
<ellipse cx="1250" cy="930" rx="14" ry="35" fill="#2050c0" fill-opacity="0.3"/>
<ellipse cx="1350" cy="930" rx="14" ry="30" fill="#2050c0" fill-opacity="0.3"/>
<ellipse cx="1230" cy="1015" rx="13" ry="20" fill="#806010" fill-opacity="0.35"/>
</g></g>
<line x1="1091.5" y1="750" x2="1154.3" y2="750" stroke="#111" stroke-width="3.2"/>
<line x1="1453.4" y1="750" x2="1512.3" y2="750" stroke="#111" stroke-width="3.2"/>
<line x1="1090" y1="893.2" x2="1150" y2="893.2" stroke="#111" stroke-width="3.2"/>
<line x1="1463.7" y1="893.2" x2="1513" y2="893.2" stroke="#111" stroke-width="3.2"/>
<rect x="1467" y="754" width="1.6" height="6" fill="#f0e020"/>
</svg></body></html>
